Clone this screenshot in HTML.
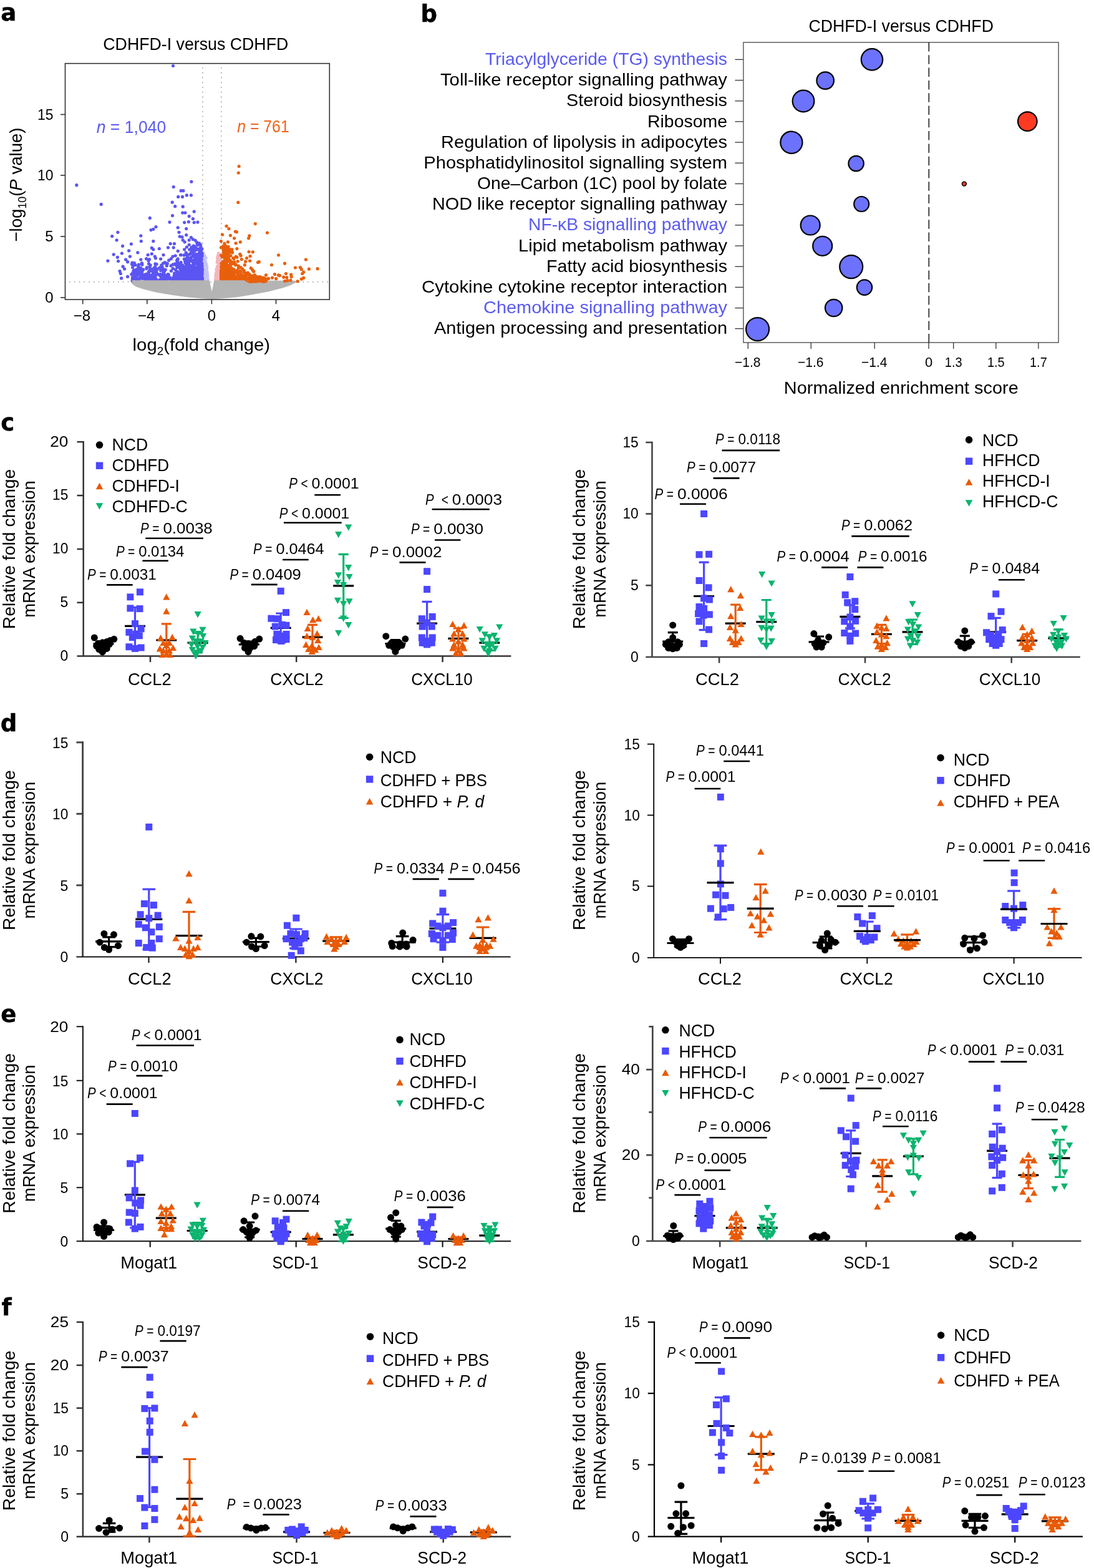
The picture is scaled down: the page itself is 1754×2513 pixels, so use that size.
<!DOCTYPE html>
<html lang="en"><head><meta charset="utf-8"><title>Figure</title>
<style>html,body{margin:0;padding:0;background:#fff}svg text{white-space:pre}</style></head>
<body>
<svg width="1754" height="2513" viewBox="0 0 1754 2513" font-family='"Liberation Sans", sans-serif' style="display:block">
<rect x="0" y="0" width="1754" height="2513" fill="#fff"/>
<text x="1.3" y="33.4" font-size="37" font-weight="bold" font-family="'DejaVu Sans', 'Liberation Sans', sans-serif" stroke="#000" stroke-width="0.5">a</text>
<text x="674.6" y="34.6" font-size="37" font-weight="bold" font-family="'DejaVu Sans', 'Liberation Sans', sans-serif" stroke="#000" stroke-width="0.5">b</text>
<text x="1.2" y="689.6" font-size="37" font-weight="bold" font-family="'DejaVu Sans', 'Liberation Sans', sans-serif" stroke="#000" stroke-width="0.5">c</text>
<text x="0.8" y="1171.5" font-size="37" font-weight="bold" font-family="'DejaVu Sans', 'Liberation Sans', sans-serif" stroke="#000" stroke-width="0.5">d</text>
<text x="1.2" y="1638.2" font-size="37" font-weight="bold" font-family="'DejaVu Sans', 'Liberation Sans', sans-serif" stroke="#000" stroke-width="0.5">e</text>
<text x="2.6" y="2107.9" font-size="37" font-weight="bold" font-family="'DejaVu Sans', 'Liberation Sans', sans-serif" stroke="#000" stroke-width="0.5">f</text>
<text x="313.8" y="80.2" font-size="28" text-anchor="middle" textLength="297" lengthAdjust="spacingAndGlyphs">CDHFD-I versus CDHFD</text>
<g>
<line x1="324.9" y1="108" x2="324.9" y2="479" stroke="#9a9a9a" stroke-width="1.6" stroke-dasharray="1.6 6.2" stroke-linecap="butt"/>
<line x1="354.8" y1="108" x2="354.8" y2="479" stroke="#9a9a9a" stroke-width="1.6" stroke-dasharray="1.6 6.2" stroke-linecap="butt"/>
<line x1="111" y1="451.7" x2="527" y2="451.7" stroke="#9a9a9a" stroke-width="1.6" stroke-dasharray="1.6 6.2" stroke-linecap="butt"/>
<path d="M210.5 450 L210.5 453.2 L213 456 L218 459.5 L230 463.5 L250 468.5 L275 472.8 L300 476.2 L325 478.6 L340 479.3 L355 478.6 L380 476.2 L400 473 L430 467.5 L455 461 L465 457.5 L472 454 L479 450.8 L470 449.8 L343.6 449.3 L339.6 467.2 L335.6 449.3 Z" fill="#B4B4B4"/>
<g fill="#C6C4F6"><circle cx="325.8" cy="446.2" r="2.4"/><circle cx="325" cy="437.1" r="2.4"/><circle cx="327.5" cy="441" r="2.4"/><circle cx="329.2" cy="450.7" r="2.4"/><circle cx="328.5" cy="451" r="2.4"/><circle cx="325.3" cy="450.5" r="2.4"/><circle cx="331.7" cy="444" r="2.4"/><circle cx="326.5" cy="449.7" r="2.4"/><circle cx="332.3" cy="438" r="2.4"/><circle cx="327.8" cy="439.8" r="2.4"/><circle cx="332.5" cy="450.9" r="2.4"/><circle cx="325.7" cy="446.9" r="2.4"/><circle cx="327.3" cy="449.8" r="2.4"/><circle cx="325.7" cy="428.4" r="2.4"/><circle cx="329.8" cy="439.6" r="2.4"/><circle cx="329.3" cy="445.2" r="2.4"/><circle cx="325" cy="450.6" r="2.4"/><circle cx="330.7" cy="448.4" r="2.4"/><circle cx="327.2" cy="443.9" r="2.4"/><circle cx="328.2" cy="439.5" r="2.4"/><circle cx="331.6" cy="446.7" r="2.4"/><circle cx="326.4" cy="435.1" r="2.4"/><circle cx="328.8" cy="439.9" r="2.4"/><circle cx="329.4" cy="423.1" r="2.4"/><circle cx="333.3" cy="446.9" r="2.4"/><circle cx="328.3" cy="449.8" r="2.4"/><circle cx="325.6" cy="432.2" r="2.4"/><circle cx="324.7" cy="442.4" r="2.4"/><circle cx="330.6" cy="436.4" r="2.4"/><circle cx="331.8" cy="439.9" r="2.4"/><circle cx="330.7" cy="446.4" r="2.4"/><circle cx="329.3" cy="439.2" r="2.4"/><circle cx="331.8" cy="443.2" r="2.4"/><circle cx="327.2" cy="412" r="2.4"/><circle cx="324.9" cy="436.6" r="2.4"/><circle cx="329.6" cy="435" r="2.4"/><circle cx="326.5" cy="427.9" r="2.4"/><circle cx="330.4" cy="444.9" r="2.4"/><circle cx="328.8" cy="451.2" r="2.4"/><circle cx="325.5" cy="449" r="2.4"/><circle cx="331.7" cy="450.7" r="2.4"/><circle cx="326.7" cy="449.6" r="2.4"/><circle cx="332.2" cy="444.7" r="2.4"/><circle cx="328.6" cy="450.4" r="2.4"/><circle cx="331.9" cy="440.6" r="2.4"/><circle cx="330.8" cy="428.1" r="2.4"/><circle cx="328.2" cy="447.1" r="2.4"/><circle cx="332.3" cy="445.5" r="2.4"/><circle cx="325.2" cy="408.3" r="2.4"/><circle cx="326.6" cy="448.9" r="2.4"/><circle cx="328.9" cy="447.9" r="2.4"/><circle cx="326.6" cy="439.4" r="2.4"/><circle cx="328.4" cy="451.5" r="2.4"/><circle cx="329.5" cy="445.2" r="2.4"/><circle cx="328.3" cy="409.7" r="2.4"/><circle cx="329.7" cy="441.6" r="2.4"/><circle cx="324.8" cy="436.1" r="2.4"/><circle cx="329.6" cy="420.1" r="2.4"/><circle cx="329.9" cy="423.2" r="2.4"/><circle cx="328" cy="444.7" r="2.4"/><circle cx="330.4" cy="450" r="2.4"/><circle cx="325" cy="450.6" r="2.4"/><circle cx="325.9" cy="448.3" r="2.4"/><circle cx="324.9" cy="445.8" r="2.4"/><circle cx="325.8" cy="451.5" r="2.4"/><circle cx="327.8" cy="450.1" r="2.4"/><circle cx="332.7" cy="451.2" r="2.4"/><circle cx="325.6" cy="438.5" r="2.4"/><circle cx="327.6" cy="447.6" r="2.4"/><circle cx="325.5" cy="445.3" r="2.4"/><circle cx="331.5" cy="425.7" r="2.4"/><circle cx="328.6" cy="443" r="2.4"/><circle cx="325.4" cy="450.3" r="2.4"/><circle cx="326.8" cy="445.8" r="2.4"/><circle cx="325.6" cy="427.4" r="2.4"/><circle cx="333.4" cy="451.2" r="2.4"/><circle cx="325.7" cy="441.3" r="2.4"/><circle cx="324.6" cy="440.8" r="2.4"/><circle cx="332.8" cy="441.3" r="2.4"/><circle cx="329.3" cy="424.3" r="2.4"/><circle cx="327.8" cy="447.4" r="2.4"/><circle cx="331.6" cy="449" r="2.4"/><circle cx="331.1" cy="441.1" r="2.4"/><circle cx="326.4" cy="446.1" r="2.4"/><circle cx="331.7" cy="428.7" r="2.4"/><circle cx="330.1" cy="425.4" r="2.4"/><circle cx="329.9" cy="428.2" r="2.4"/><circle cx="329.2" cy="448" r="2.4"/><circle cx="324.7" cy="445.5" r="2.4"/><circle cx="327.1" cy="451.1" r="2.4"/><circle cx="330.7" cy="447.4" r="2.4"/><circle cx="326.9" cy="408.7" r="2.4"/><circle cx="330.4" cy="413.7" r="2.4"/><circle cx="326.5" cy="409.2" r="2.4"/><circle cx="326.5" cy="448.1" r="2.4"/><circle cx="326.3" cy="448.5" r="2.4"/><circle cx="331.9" cy="438.2" r="2.4"/><circle cx="327.9" cy="426.4" r="2.4"/><circle cx="331" cy="437.1" r="2.4"/><circle cx="330.6" cy="450.3" r="2.4"/><circle cx="329.5" cy="418.7" r="2.4"/><circle cx="328.1" cy="432.6" r="2.4"/><circle cx="331.7" cy="448.8" r="2.4"/><circle cx="331.6" cy="446" r="2.4"/><circle cx="328" cy="444.6" r="2.4"/><circle cx="328.6" cy="411.4" r="2.4"/><circle cx="325.6" cy="449" r="2.4"/><circle cx="332.9" cy="449.3" r="2.4"/><circle cx="325.5" cy="429.1" r="2.4"/><circle cx="331.6" cy="427.6" r="2.4"/><circle cx="327.3" cy="436.9" r="2.4"/><circle cx="325.5" cy="440.7" r="2.4"/><circle cx="333.7" cy="451.3" r="2.4"/><circle cx="328.7" cy="437.2" r="2.4"/><circle cx="327.1" cy="414.5" r="2.4"/><circle cx="330.1" cy="423.5" r="2.4"/><circle cx="326.7" cy="448.3" r="2.4"/><circle cx="326.6" cy="446.8" r="2.4"/><circle cx="326.6" cy="439.5" r="2.4"/><circle cx="325.6" cy="444.1" r="2.4"/><circle cx="326.7" cy="418.6" r="2.4"/><circle cx="329.5" cy="443.2" r="2.4"/><circle cx="327.2" cy="419.5" r="2.4"/><circle cx="327.6" cy="417.4" r="2.4"/><circle cx="328.9" cy="441.2" r="2.4"/><circle cx="328.6" cy="451.3" r="2.4"/><circle cx="324.4" cy="448.8" r="2.4"/><circle cx="325.7" cy="429.6" r="2.4"/><circle cx="330.7" cy="442.8" r="2.4"/><circle cx="327.2" cy="440.4" r="2.4"/><circle cx="329.2" cy="441.5" r="2.4"/><circle cx="325.2" cy="430.6" r="2.4"/><circle cx="326.5" cy="440.3" r="2.4"/><circle cx="331.5" cy="447.1" r="2.4"/><circle cx="329.3" cy="441.8" r="2.4"/><circle cx="331.5" cy="432" r="2.4"/><circle cx="329.8" cy="443.5" r="2.4"/><circle cx="328.8" cy="441.9" r="2.4"/><circle cx="328" cy="435.4" r="2.4"/><circle cx="328.5" cy="441.1" r="2.4"/><circle cx="328.6" cy="412.7" r="2.4"/><circle cx="330.9" cy="422.9" r="2.4"/><circle cx="329.5" cy="447.4" r="2.4"/><circle cx="329.4" cy="412.3" r="2.4"/><circle cx="325.5" cy="449.5" r="2.4"/><circle cx="325" cy="443.5" r="2.4"/><circle cx="325.1" cy="447.8" r="2.4"/><circle cx="330.8" cy="436.4" r="2.4"/><circle cx="325.4" cy="420.5" r="2.4"/><circle cx="329.7" cy="434.3" r="2.4"/><circle cx="332.7" cy="449.4" r="2.4"/><circle cx="325.5" cy="404.7" r="2.4"/><circle cx="326.7" cy="409.9" r="2.4"/><circle cx="333" cy="442.4" r="2.4"/><circle cx="325.6" cy="427.1" r="2.4"/><circle cx="329" cy="443.8" r="2.4"/><circle cx="326.2" cy="445.9" r="2.4"/><circle cx="330.9" cy="446.3" r="2.4"/><circle cx="329.7" cy="451.3" r="2.4"/><circle cx="324.6" cy="443.6" r="2.4"/><circle cx="330" cy="446" r="2.4"/><circle cx="325" cy="441.7" r="2.4"/><circle cx="331.8" cy="430.3" r="2.4"/><circle cx="326.9" cy="450" r="2.4"/><circle cx="331.8" cy="451" r="2.4"/><circle cx="325.6" cy="447.2" r="2.4"/><circle cx="332.5" cy="444" r="2.4"/><circle cx="326.3" cy="428.2" r="2.4"/><circle cx="333" cy="449.3" r="2.4"/><circle cx="330.3" cy="440" r="2.4"/><circle cx="324.9" cy="450.2" r="2.4"/><circle cx="327.8" cy="435.6" r="2.4"/><circle cx="333.3" cy="450.5" r="2.4"/><circle cx="331" cy="437.8" r="2.4"/><circle cx="332.5" cy="450.3" r="2.4"/><circle cx="332.6" cy="450.6" r="2.4"/><circle cx="327.4" cy="443.3" r="2.4"/><circle cx="332.3" cy="440.5" r="2.4"/><circle cx="325.6" cy="447.3" r="2.4"/><circle cx="326.5" cy="441.3" r="2.4"/><circle cx="325.9" cy="449.9" r="2.4"/><circle cx="326.3" cy="450.8" r="2.4"/><circle cx="327.2" cy="446.4" r="2.4"/><circle cx="326.6" cy="432.1" r="2.4"/><circle cx="325.9" cy="442.1" r="2.4"/><circle cx="324.6" cy="445.7" r="2.4"/><circle cx="324.5" cy="447.6" r="2.4"/><circle cx="328.7" cy="433.5" r="2.4"/><circle cx="328.8" cy="448.7" r="2.4"/><circle cx="325.1" cy="414.3" r="2.4"/><circle cx="327.6" cy="428.2" r="2.4"/><circle cx="331.6" cy="442.2" r="2.4"/><circle cx="328.9" cy="444.7" r="2.4"/><circle cx="332.3" cy="435.6" r="2.4"/><circle cx="331.9" cy="445.8" r="2.4"/><circle cx="329.5" cy="434.8" r="2.4"/><circle cx="327.5" cy="444.4" r="2.4"/><circle cx="325.6" cy="450.8" r="2.4"/><circle cx="331.4" cy="450.5" r="2.4"/><circle cx="325.9" cy="447.5" r="2.4"/><circle cx="332.3" cy="450.3" r="2.4"/><circle cx="329.1" cy="423.6" r="2.4"/><circle cx="326.6" cy="447" r="2.4"/><circle cx="328.6" cy="446.8" r="2.4"/><circle cx="328.6" cy="449.2" r="2.4"/><circle cx="333.2" cy="447.3" r="2.4"/><circle cx="326.5" cy="440.7" r="2.4"/><circle cx="326" cy="405.5" r="2.4"/><circle cx="324.4" cy="445.5" r="2.4"/><circle cx="328.6" cy="445" r="2.4"/><circle cx="326.1" cy="442" r="2.4"/><circle cx="324.4" cy="441.9" r="2.4"/><circle cx="325.2" cy="447.3" r="2.4"/><circle cx="324.8" cy="444.6" r="2.4"/><circle cx="327.3" cy="451.2" r="2.4"/></g>
<g fill="#F4B6BB"><circle cx="350.6" cy="447.9" r="2.4"/><circle cx="352.3" cy="441.2" r="2.4"/><circle cx="352.1" cy="436.9" r="2.4"/><circle cx="350.2" cy="422.7" r="2.4"/><circle cx="354.3" cy="446.1" r="2.4"/><circle cx="351.8" cy="449.3" r="2.4"/><circle cx="346.5" cy="437.4" r="2.4"/><circle cx="353.6" cy="426.9" r="2.4"/><circle cx="352.2" cy="438" r="2.4"/><circle cx="348" cy="428.7" r="2.4"/><circle cx="350.1" cy="441.4" r="2.4"/><circle cx="353" cy="426.9" r="2.4"/><circle cx="351.3" cy="427.6" r="2.4"/><circle cx="352.3" cy="421" r="2.4"/><circle cx="348.2" cy="435.4" r="2.4"/><circle cx="346.2" cy="451.1" r="2.4"/><circle cx="346.4" cy="445.4" r="2.4"/><circle cx="351.2" cy="426.8" r="2.4"/><circle cx="351.3" cy="438" r="2.4"/><circle cx="350.3" cy="435.9" r="2.4"/><circle cx="352.5" cy="451.5" r="2.4"/><circle cx="350.5" cy="432.7" r="2.4"/><circle cx="351.5" cy="441.1" r="2.4"/><circle cx="351.9" cy="450.6" r="2.4"/><circle cx="345.9" cy="447.6" r="2.4"/><circle cx="351.9" cy="447.3" r="2.4"/><circle cx="352" cy="448.4" r="2.4"/><circle cx="349" cy="442.2" r="2.4"/><circle cx="351.6" cy="442.6" r="2.4"/><circle cx="351.4" cy="431.6" r="2.4"/><circle cx="346.8" cy="437.5" r="2.4"/><circle cx="347.4" cy="449.3" r="2.4"/><circle cx="349" cy="432.9" r="2.4"/><circle cx="346" cy="440.1" r="2.4"/><circle cx="347.5" cy="450.7" r="2.4"/><circle cx="351.9" cy="436.3" r="2.4"/><circle cx="348.6" cy="436.1" r="2.4"/><circle cx="349.8" cy="441.6" r="2.4"/><circle cx="346.7" cy="442.9" r="2.4"/><circle cx="349" cy="420.9" r="2.4"/><circle cx="348.4" cy="413.9" r="2.4"/><circle cx="352.8" cy="443.1" r="2.4"/><circle cx="348" cy="443.4" r="2.4"/><circle cx="353.9" cy="448.3" r="2.4"/><circle cx="350.5" cy="448.3" r="2.4"/><circle cx="349.9" cy="449.4" r="2.4"/><circle cx="349.5" cy="409.8" r="2.4"/><circle cx="350.8" cy="428.1" r="2.4"/><circle cx="352.4" cy="421.7" r="2.4"/><circle cx="353.5" cy="447.9" r="2.4"/><circle cx="345.9" cy="442.4" r="2.4"/><circle cx="349.5" cy="451.5" r="2.4"/><circle cx="348.3" cy="443.3" r="2.4"/><circle cx="348.3" cy="449.5" r="2.4"/><circle cx="352.9" cy="446.3" r="2.4"/><circle cx="352" cy="451.5" r="2.4"/><circle cx="348" cy="426.6" r="2.4"/><circle cx="352.6" cy="415.9" r="2.4"/><circle cx="349.7" cy="419.8" r="2.4"/><circle cx="349" cy="445.2" r="2.4"/><circle cx="349" cy="439.4" r="2.4"/><circle cx="348" cy="443.9" r="2.4"/><circle cx="345.9" cy="450.8" r="2.4"/><circle cx="349.2" cy="426.9" r="2.4"/><circle cx="349.8" cy="414.1" r="2.4"/><circle cx="349.9" cy="447.3" r="2.4"/><circle cx="348.6" cy="448.6" r="2.4"/><circle cx="353.7" cy="408.8" r="2.4"/><circle cx="351.7" cy="428.7" r="2.4"/><circle cx="354" cy="418.1" r="2.4"/><circle cx="352" cy="440.6" r="2.4"/><circle cx="351.9" cy="450.8" r="2.4"/><circle cx="352.2" cy="443.3" r="2.4"/><circle cx="348.5" cy="437.4" r="2.4"/><circle cx="353.7" cy="450.8" r="2.4"/><circle cx="349.4" cy="449.7" r="2.4"/><circle cx="348.1" cy="445.8" r="2.4"/><circle cx="354.2" cy="433.2" r="2.4"/><circle cx="351.2" cy="447.4" r="2.4"/><circle cx="350.4" cy="446.6" r="2.4"/><circle cx="347" cy="444.7" r="2.4"/><circle cx="347" cy="449.1" r="2.4"/><circle cx="351.1" cy="419.2" r="2.4"/><circle cx="353.5" cy="448.1" r="2.4"/><circle cx="346.8" cy="443.4" r="2.4"/><circle cx="346" cy="448.6" r="2.4"/><circle cx="346.2" cy="445.8" r="2.4"/><circle cx="347.6" cy="447.8" r="2.4"/><circle cx="353.4" cy="440" r="2.4"/><circle cx="349.8" cy="432.6" r="2.4"/><circle cx="350.2" cy="444.2" r="2.4"/><circle cx="348.5" cy="445.1" r="2.4"/><circle cx="347.6" cy="450.6" r="2.4"/><circle cx="349.7" cy="449.7" r="2.4"/><circle cx="353.3" cy="438" r="2.4"/><circle cx="347.7" cy="448.2" r="2.4"/><circle cx="348.9" cy="447.6" r="2.4"/><circle cx="354" cy="443.5" r="2.4"/><circle cx="353.5" cy="425.7" r="2.4"/><circle cx="345.2" cy="451.2" r="2.4"/><circle cx="353.6" cy="434.6" r="2.4"/><circle cx="350.8" cy="442.8" r="2.4"/><circle cx="348.6" cy="451.5" r="2.4"/><circle cx="353.3" cy="415.8" r="2.4"/><circle cx="354.2" cy="425.1" r="2.4"/><circle cx="346.2" cy="447.6" r="2.4"/><circle cx="349.9" cy="449.2" r="2.4"/><circle cx="353.9" cy="435.9" r="2.4"/><circle cx="351.6" cy="434" r="2.4"/><circle cx="350.2" cy="431.7" r="2.4"/><circle cx="346.2" cy="440.6" r="2.4"/><circle cx="348.6" cy="430.7" r="2.4"/><circle cx="352.1" cy="417" r="2.4"/><circle cx="346.5" cy="446.6" r="2.4"/><circle cx="351.1" cy="447.6" r="2.4"/><circle cx="347.3" cy="435.1" r="2.4"/><circle cx="349.9" cy="450.5" r="2.4"/><circle cx="349.2" cy="439.6" r="2.4"/><circle cx="350.7" cy="448.1" r="2.4"/><circle cx="347.7" cy="451.4" r="2.4"/><circle cx="354" cy="443.1" r="2.4"/><circle cx="353.4" cy="437.4" r="2.4"/><circle cx="347.7" cy="442.7" r="2.4"/><circle cx="354" cy="447.6" r="2.4"/><circle cx="348.9" cy="434.9" r="2.4"/><circle cx="349.6" cy="451.2" r="2.4"/><circle cx="349.7" cy="436.2" r="2.4"/><circle cx="351.3" cy="447.5" r="2.4"/><circle cx="349.6" cy="416.1" r="2.4"/><circle cx="348.1" cy="451" r="2.4"/><circle cx="351.6" cy="444.1" r="2.4"/><circle cx="352.5" cy="448.5" r="2.4"/><circle cx="350.5" cy="433.2" r="2.4"/><circle cx="354.1" cy="448.4" r="2.4"/><circle cx="352.8" cy="446.4" r="2.4"/><circle cx="347.2" cy="447.9" r="2.4"/><circle cx="348.9" cy="432" r="2.4"/><circle cx="351.5" cy="410.1" r="2.4"/><circle cx="347.2" cy="448.7" r="2.4"/><circle cx="351.4" cy="444.2" r="2.4"/><circle cx="349.5" cy="410.9" r="2.4"/><circle cx="347.4" cy="444.7" r="2.4"/><circle cx="345.5" cy="449.4" r="2.4"/><circle cx="348.7" cy="450.7" r="2.4"/><circle cx="353.6" cy="420.3" r="2.4"/><circle cx="354.4" cy="433.5" r="2.4"/><circle cx="350.3" cy="414.9" r="2.4"/><circle cx="353.8" cy="448.7" r="2.4"/><circle cx="346.8" cy="432.8" r="2.4"/><circle cx="349.3" cy="436.6" r="2.4"/><circle cx="348.4" cy="445.1" r="2.4"/><circle cx="345.1" cy="449" r="2.4"/><circle cx="348.5" cy="447" r="2.4"/><circle cx="349.5" cy="409" r="2.4"/><circle cx="350.2" cy="406" r="2.4"/><circle cx="352.8" cy="445.5" r="2.4"/><circle cx="350.2" cy="427.9" r="2.4"/><circle cx="349.4" cy="450.8" r="2.4"/><circle cx="353.7" cy="445.2" r="2.4"/><circle cx="348.5" cy="448.6" r="2.4"/><circle cx="347.9" cy="420.5" r="2.4"/><circle cx="352.7" cy="444.3" r="2.4"/><circle cx="347" cy="431.6" r="2.4"/><circle cx="345.5" cy="451" r="2.4"/><circle cx="349.7" cy="417" r="2.4"/><circle cx="353.6" cy="432.7" r="2.4"/><circle cx="347.8" cy="445.9" r="2.4"/><circle cx="352.3" cy="408.3" r="2.4"/><circle cx="351.8" cy="447.4" r="2.4"/><circle cx="347.8" cy="446.3" r="2.4"/><circle cx="352.1" cy="451.5" r="2.4"/><circle cx="352.1" cy="417.6" r="2.4"/><circle cx="348.6" cy="412.3" r="2.4"/><circle cx="349.6" cy="447.9" r="2.4"/><circle cx="354.1" cy="408.6" r="2.4"/><circle cx="347.7" cy="444.8" r="2.4"/><circle cx="349.9" cy="443.8" r="2.4"/><circle cx="349.3" cy="415.6" r="2.4"/><circle cx="352.4" cy="429.4" r="2.4"/><circle cx="352.7" cy="427.9" r="2.4"/><circle cx="348.8" cy="438.8" r="2.4"/><circle cx="348.6" cy="446.3" r="2.4"/><circle cx="347.4" cy="430.7" r="2.4"/><circle cx="352.1" cy="448.5" r="2.4"/><circle cx="345.8" cy="447.6" r="2.4"/><circle cx="350.1" cy="451.1" r="2.4"/><circle cx="354.2" cy="446.1" r="2.4"/><circle cx="354.3" cy="422.2" r="2.4"/><circle cx="346" cy="447.3" r="2.4"/><circle cx="349.7" cy="450.1" r="2.4"/><circle cx="350" cy="434.6" r="2.4"/><circle cx="349" cy="447.9" r="2.4"/><circle cx="351.7" cy="438.3" r="2.4"/><circle cx="353.2" cy="432.7" r="2.4"/><circle cx="347.2" cy="436.6" r="2.4"/><circle cx="349.3" cy="426.4" r="2.4"/><circle cx="349.1" cy="440.1" r="2.4"/><circle cx="348.1" cy="433.2" r="2.4"/><circle cx="347.5" cy="447.6" r="2.4"/><circle cx="353.3" cy="449.2" r="2.4"/><circle cx="348.7" cy="439.7" r="2.4"/><circle cx="354.3" cy="444.6" r="2.4"/><circle cx="347.8" cy="441.9" r="2.4"/><circle cx="351.8" cy="428.9" r="2.4"/><circle cx="349.5" cy="450" r="2.4"/><circle cx="353.2" cy="428.2" r="2.4"/><circle cx="348.2" cy="417.9" r="2.4"/><circle cx="346.4" cy="446.8" r="2.4"/><circle cx="354.1" cy="448.7" r="2.4"/><circle cx="353.8" cy="439.6" r="2.4"/><circle cx="353.2" cy="445.2" r="2.4"/><circle cx="347.9" cy="443.4" r="2.4"/></g>
<g fill="#5B55F2"><circle cx="122.8" cy="296.7" r="2.6"/><circle cx="162.2" cy="327.4" r="2.6"/><circle cx="306.9" cy="291.2" r="2.6"/><circle cx="278.2" cy="299.5" r="2.6"/><circle cx="290.2" cy="305.7" r="2.6"/><circle cx="293.9" cy="305.7" r="2.6"/><circle cx="285.7" cy="315.4" r="2.6"/><circle cx="292.5" cy="315.4" r="2.6"/><circle cx="299.4" cy="312.9" r="2.6"/><circle cx="306.4" cy="312.9" r="2.6"/><circle cx="276.2" cy="324.2" r="2.6"/><circle cx="280.7" cy="330.7" r="2.6"/><circle cx="293.2" cy="331.2" r="2.6"/><circle cx="311.2" cy="339.1" r="2.6"/><circle cx="292.7" cy="341.1" r="2.6"/><circle cx="296.9" cy="341.1" r="2.6"/><circle cx="240.3" cy="349.4" r="2.6"/><circle cx="276.5" cy="345.6" r="2.6"/><circle cx="303.2" cy="346.6" r="2.6"/><circle cx="309.4" cy="350.6" r="2.6"/><circle cx="272" cy="356.1" r="2.6"/><circle cx="295.7" cy="356.6" r="2.6"/><circle cx="302.4" cy="355.6" r="2.6"/><circle cx="311.2" cy="356.6" r="2.6"/><circle cx="316.9" cy="356.1" r="2.6"/><circle cx="250" cy="363.6" r="2.6"/><circle cx="242" cy="368.6" r="2.6"/><circle cx="245.8" cy="367.3" r="2.6"/><circle cx="285.2" cy="364.8" r="2.6"/><circle cx="298.7" cy="366.6" r="2.6"/><circle cx="188.9" cy="372.3" r="2.6"/><circle cx="179.7" cy="378.6" r="2.6"/><circle cx="187.1" cy="384.8" r="2.6"/><circle cx="225.8" cy="377.8" r="2.6"/><circle cx="226.3" cy="386.6" r="2.6"/><circle cx="287" cy="372.3" r="2.6"/><circle cx="288.2" cy="379.1" r="2.6"/><circle cx="292" cy="379.8" r="2.6"/><circle cx="298.7" cy="376.6" r="2.6"/><circle cx="293.2" cy="384.8" r="2.6"/><circle cx="296.2" cy="387.8" r="2.6"/><circle cx="306.4" cy="380.6" r="2.6"/><circle cx="303.2" cy="384.8" r="2.6"/><circle cx="309.4" cy="383.6" r="2.6"/><circle cx="313.2" cy="385.3" r="2.6"/><circle cx="245.8" cy="386.6" r="2.6"/><circle cx="210.4" cy="391" r="2.6"/><circle cx="196.6" cy="394.3" r="2.6"/><circle cx="206.6" cy="401.8" r="2.6"/><circle cx="182.2" cy="407.8" r="2.6"/><circle cx="195.4" cy="406" r="2.6"/><circle cx="220.8" cy="404.8" r="2.6"/><circle cx="172.9" cy="418" r="2.6"/><circle cx="188.4" cy="412.3" r="2.6"/><circle cx="189.6" cy="418.5" r="2.6"/><circle cx="273.2" cy="390.5" r="2.6"/><circle cx="279.5" cy="390.5" r="2.6"/><circle cx="269.5" cy="396.8" r="2.6"/><circle cx="278.2" cy="396.8" r="2.6"/><circle cx="243.3" cy="397.3" r="2.6"/><circle cx="245.8" cy="399.8" r="2.6"/><circle cx="255.3" cy="398.5" r="2.6"/><circle cx="285.2" cy="402.3" r="2.6"/><circle cx="289.5" cy="408.5" r="2.6"/><circle cx="237.1" cy="408.5" r="2.6"/><circle cx="243.3" cy="406.8" r="2.6"/><circle cx="262" cy="408.5" r="2.6"/><circle cx="234.6" cy="414.7" r="2.6"/><circle cx="248.3" cy="411" r="2.6"/><circle cx="277" cy="411" r="2.6"/><circle cx="281.2" cy="409.8" r="2.6"/><circle cx="315.7" cy="388.5" r="2.6"/><circle cx="319.4" cy="389.8" r="2.6"/><circle cx="311.9" cy="394.8" r="2.6"/><circle cx="316.9" cy="399.8" r="2.6"/><circle cx="320.6" cy="403.5" r="2.6"/><circle cx="306.9" cy="397.3" r="2.6"/><circle cx="299.4" cy="396" r="2.6"/><circle cx="303.2" cy="392.3" r="2.6"/><circle cx="295.7" cy="399.8" r="2.6"/><circle cx="298.2" cy="404.8" r="2.6"/><circle cx="201.6" cy="416" r="2.6"/><circle cx="204.6" cy="419.7" r="2.6"/><circle cx="208.4" cy="411" r="2.6"/><circle cx="212.1" cy="421" r="2.6"/><circle cx="217.1" cy="424.7" r="2.6"/><circle cx="225.8" cy="416" r="2.6"/><circle cx="227.6" cy="422.2" r="2.6"/><circle cx="261.5" cy="422.2" r="2.6"/><circle cx="270.7" cy="417.2" r="2.6"/><circle cx="284.5" cy="416" r="2.6"/><circle cx="289.5" cy="421" r="2.6"/><circle cx="192.1" cy="434.7" r="2.6"/><circle cx="193.4" cy="438.5" r="2.6"/><circle cx="197.1" cy="427.2" r="2.6"/><circle cx="199.6" cy="431" r="2.6"/><circle cx="194.6" cy="445.9" r="2.6"/><circle cx="204.6" cy="443.4" r="2.6"/><circle cx="210.9" cy="439.7" r="2.6"/><circle cx="212.1" cy="449.7" r="2.6"/><circle cx="215.1" cy="433.5" r="2.6"/><circle cx="222.1" cy="429.7" r="2.6"/><circle cx="224.6" cy="431" r="2.6"/><circle cx="277.5" cy="105.5" r="2.6"/><circle cx="316.6" cy="449.3" r="2.6"/><circle cx="307.2" cy="432.6" r="2.6"/><circle cx="320.8" cy="448.5" r="2.6"/><circle cx="306.9" cy="447.1" r="2.6"/><circle cx="323.6" cy="430.9" r="2.6"/><circle cx="299.2" cy="447.1" r="2.6"/><circle cx="307.9" cy="429.4" r="2.6"/><circle cx="323.2" cy="447.5" r="2.6"/><circle cx="319.6" cy="420.6" r="2.6"/><circle cx="312.8" cy="436" r="2.6"/><circle cx="316.5" cy="441.7" r="2.6"/><circle cx="321.1" cy="435.9" r="2.6"/><circle cx="319.2" cy="448" r="2.6"/><circle cx="318.2" cy="428.3" r="2.6"/><circle cx="311.6" cy="444.3" r="2.6"/><circle cx="316.3" cy="391.8" r="2.6"/><circle cx="315.2" cy="442.9" r="2.6"/><circle cx="302.2" cy="441" r="2.6"/><circle cx="283.1" cy="442.7" r="2.6"/><circle cx="290.7" cy="426.1" r="2.6"/><circle cx="323.8" cy="406.3" r="2.6"/><circle cx="322.5" cy="440.8" r="2.6"/><circle cx="316.3" cy="409.7" r="2.6"/><circle cx="307.2" cy="439.5" r="2.6"/><circle cx="322.7" cy="435.9" r="2.6"/><circle cx="321.7" cy="431.5" r="2.6"/><circle cx="317.6" cy="432.5" r="2.6"/><circle cx="320.1" cy="442.5" r="2.6"/><circle cx="314" cy="445" r="2.6"/><circle cx="324.1" cy="437.1" r="2.6"/><circle cx="316.4" cy="438.4" r="2.6"/><circle cx="320.4" cy="419.6" r="2.6"/><circle cx="312.3" cy="448.9" r="2.6"/><circle cx="321.9" cy="395.6" r="2.6"/><circle cx="303.3" cy="450.5" r="2.6"/><circle cx="321.1" cy="400.7" r="2.6"/><circle cx="293.7" cy="432.6" r="2.6"/><circle cx="298.3" cy="417.6" r="2.6"/><circle cx="306.9" cy="446.6" r="2.6"/><circle cx="296.8" cy="441.4" r="2.6"/><circle cx="304.5" cy="447.6" r="2.6"/><circle cx="295.6" cy="446.7" r="2.6"/><circle cx="306.2" cy="442.1" r="2.6"/><circle cx="311.2" cy="449" r="2.6"/><circle cx="323.9" cy="407.1" r="2.6"/><circle cx="294.5" cy="450.7" r="2.6"/><circle cx="295.5" cy="450.8" r="2.6"/><circle cx="312.4" cy="416" r="2.6"/><circle cx="305.8" cy="435.9" r="2.6"/><circle cx="307.4" cy="432.3" r="2.6"/><circle cx="317.7" cy="434.5" r="2.6"/><circle cx="306.2" cy="440.7" r="2.6"/><circle cx="313.4" cy="440.3" r="2.6"/><circle cx="307.4" cy="451.1" r="2.6"/><circle cx="308.6" cy="446.3" r="2.6"/><circle cx="309.7" cy="423.4" r="2.6"/><circle cx="320.5" cy="447.7" r="2.6"/><circle cx="304.2" cy="439" r="2.6"/><circle cx="316.8" cy="440.5" r="2.6"/><circle cx="318.3" cy="449.6" r="2.6"/><circle cx="303.6" cy="450.7" r="2.6"/><circle cx="316.5" cy="431.8" r="2.6"/><circle cx="298.1" cy="422.2" r="2.6"/><circle cx="309.5" cy="437.5" r="2.6"/><circle cx="303.6" cy="442.3" r="2.6"/><circle cx="317" cy="392.7" r="2.6"/><circle cx="300.3" cy="409.9" r="2.6"/><circle cx="296.7" cy="418.6" r="2.6"/><circle cx="306.2" cy="438.3" r="2.6"/><circle cx="322.1" cy="403.2" r="2.6"/><circle cx="307.7" cy="399.5" r="2.6"/><circle cx="296.2" cy="450.2" r="2.6"/><circle cx="305.9" cy="448.1" r="2.6"/><circle cx="299.2" cy="407.2" r="2.6"/><circle cx="319.1" cy="448.5" r="2.6"/><circle cx="290.6" cy="437.9" r="2.6"/><circle cx="313.3" cy="445.6" r="2.6"/><circle cx="318.3" cy="437.8" r="2.6"/><circle cx="322.3" cy="447.6" r="2.6"/><circle cx="319.8" cy="448.1" r="2.6"/><circle cx="298.5" cy="407.5" r="2.6"/><circle cx="313.5" cy="447.9" r="2.6"/><circle cx="322.4" cy="436.8" r="2.6"/><circle cx="315.4" cy="431.8" r="2.6"/><circle cx="300.3" cy="435.7" r="2.6"/><circle cx="295.2" cy="434.6" r="2.6"/><circle cx="317.9" cy="413.4" r="2.6"/><circle cx="318.5" cy="441.7" r="2.6"/><circle cx="320.1" cy="416.6" r="2.6"/><circle cx="310.5" cy="442.8" r="2.6"/><circle cx="322.6" cy="447.7" r="2.6"/><circle cx="304.4" cy="425" r="2.6"/><circle cx="291.5" cy="445.8" r="2.6"/><circle cx="314.1" cy="431.6" r="2.6"/><circle cx="299.8" cy="430.3" r="2.6"/><circle cx="321.9" cy="444.2" r="2.6"/><circle cx="319.5" cy="448.4" r="2.6"/><circle cx="324.4" cy="432.8" r="2.6"/><circle cx="304.1" cy="407.4" r="2.6"/><circle cx="315.2" cy="448.8" r="2.6"/><circle cx="320.6" cy="451.1" r="2.6"/><circle cx="297.6" cy="451.5" r="2.6"/><circle cx="319" cy="442.9" r="2.6"/><circle cx="317.4" cy="446.6" r="2.6"/><circle cx="302.9" cy="447.1" r="2.6"/><circle cx="312" cy="432.4" r="2.6"/><circle cx="314.5" cy="397.7" r="2.6"/><circle cx="322.8" cy="446.1" r="2.6"/><circle cx="319.5" cy="431.7" r="2.6"/><circle cx="317.7" cy="411.5" r="2.6"/><circle cx="320.6" cy="445.5" r="2.6"/><circle cx="305.9" cy="451.3" r="2.6"/><circle cx="309.7" cy="443.1" r="2.6"/><circle cx="305.5" cy="431.3" r="2.6"/><circle cx="283.3" cy="425.7" r="2.6"/><circle cx="309.3" cy="445.9" r="2.6"/><circle cx="319.8" cy="436.7" r="2.6"/><circle cx="321.2" cy="441.4" r="2.6"/><circle cx="323.9" cy="422.1" r="2.6"/><circle cx="318" cy="451.3" r="2.6"/><circle cx="288.4" cy="447.2" r="2.6"/><circle cx="310.5" cy="433.2" r="2.6"/><circle cx="297.8" cy="418.8" r="2.6"/><circle cx="323.2" cy="447.8" r="2.6"/><circle cx="318.7" cy="450.6" r="2.6"/><circle cx="309.8" cy="408.6" r="2.6"/><circle cx="318.3" cy="451.4" r="2.6"/><circle cx="295.5" cy="415.2" r="2.6"/><circle cx="323.8" cy="425.1" r="2.6"/><circle cx="303.6" cy="439.8" r="2.6"/><circle cx="323.1" cy="446.4" r="2.6"/><circle cx="315.7" cy="450.8" r="2.6"/><circle cx="308.6" cy="428.3" r="2.6"/><circle cx="297.8" cy="415.1" r="2.6"/><circle cx="320.9" cy="435.8" r="2.6"/><circle cx="310.2" cy="440.3" r="2.6"/><circle cx="319" cy="445.5" r="2.6"/><circle cx="302.4" cy="431.5" r="2.6"/><circle cx="311.7" cy="410.1" r="2.6"/><circle cx="321.6" cy="451.2" r="2.6"/><circle cx="323.5" cy="424.9" r="2.6"/><circle cx="310.8" cy="395" r="2.6"/><circle cx="324" cy="410.1" r="2.6"/><circle cx="307.9" cy="443.7" r="2.6"/><circle cx="321.6" cy="432.1" r="2.6"/><circle cx="283.9" cy="428.5" r="2.6"/><circle cx="298.1" cy="439.1" r="2.6"/><circle cx="317.3" cy="428.2" r="2.6"/><circle cx="311.9" cy="426.4" r="2.6"/><circle cx="308.8" cy="435" r="2.6"/><circle cx="319.8" cy="432.5" r="2.6"/><circle cx="312.4" cy="449.9" r="2.6"/><circle cx="315.6" cy="451" r="2.6"/><circle cx="318.9" cy="449.3" r="2.6"/><circle cx="309" cy="448.5" r="2.6"/><circle cx="317" cy="451" r="2.6"/><circle cx="296.8" cy="431.9" r="2.6"/><circle cx="317" cy="428.2" r="2.6"/><circle cx="323.8" cy="434.1" r="2.6"/><circle cx="317.6" cy="442.7" r="2.6"/><circle cx="310.2" cy="408.2" r="2.6"/><circle cx="293" cy="450.2" r="2.6"/><circle cx="296.6" cy="445.7" r="2.6"/><circle cx="293.9" cy="447" r="2.6"/><circle cx="320.7" cy="414.8" r="2.6"/><circle cx="321.2" cy="418.9" r="2.6"/><circle cx="301.3" cy="432" r="2.6"/><circle cx="298.5" cy="444.9" r="2.6"/><circle cx="317.6" cy="423.9" r="2.6"/><circle cx="319.4" cy="447" r="2.6"/><circle cx="316.2" cy="451.1" r="2.6"/><circle cx="306.7" cy="445.7" r="2.6"/><circle cx="318.4" cy="442.6" r="2.6"/><circle cx="295.5" cy="444" r="2.6"/><circle cx="302.9" cy="414.3" r="2.6"/><circle cx="319.5" cy="432.7" r="2.6"/><circle cx="305.6" cy="440.3" r="2.6"/><circle cx="320.7" cy="422.6" r="2.6"/><circle cx="307.8" cy="436.5" r="2.6"/><circle cx="300.5" cy="446.8" r="2.6"/><circle cx="319.1" cy="418.1" r="2.6"/><circle cx="318.2" cy="447.9" r="2.6"/><circle cx="311.9" cy="423.5" r="2.6"/><circle cx="324.3" cy="451.3" r="2.6"/><circle cx="302.8" cy="420.4" r="2.6"/><circle cx="323.2" cy="447.5" r="2.6"/><circle cx="307.2" cy="416.7" r="2.6"/><circle cx="323.8" cy="445.6" r="2.6"/><circle cx="310.1" cy="446.8" r="2.6"/><circle cx="319.2" cy="428.1" r="2.6"/><circle cx="315.4" cy="431.8" r="2.6"/><circle cx="324.3" cy="449.9" r="2.6"/><circle cx="317.6" cy="421.3" r="2.6"/><circle cx="296.5" cy="432.2" r="2.6"/><circle cx="312.8" cy="441.7" r="2.6"/><circle cx="309.6" cy="408.4" r="2.6"/><circle cx="291" cy="451" r="2.6"/><circle cx="304.3" cy="447" r="2.6"/><circle cx="321.1" cy="437.9" r="2.6"/><circle cx="284.5" cy="442.2" r="2.6"/><circle cx="314.3" cy="439.5" r="2.6"/><circle cx="315.4" cy="436.7" r="2.6"/><circle cx="323.5" cy="431.2" r="2.6"/><circle cx="293.3" cy="443.2" r="2.6"/><circle cx="319.4" cy="415.4" r="2.6"/><circle cx="314.8" cy="430.3" r="2.6"/><circle cx="323.8" cy="440.2" r="2.6"/><circle cx="313.1" cy="422.5" r="2.6"/><circle cx="315.9" cy="439.4" r="2.6"/><circle cx="319.8" cy="409.3" r="2.6"/><circle cx="323.5" cy="444.5" r="2.6"/><circle cx="312.3" cy="427.8" r="2.6"/><circle cx="318.4" cy="448.2" r="2.6"/><circle cx="315.4" cy="446" r="2.6"/><circle cx="313.9" cy="448.1" r="2.6"/><circle cx="304.4" cy="443.8" r="2.6"/><circle cx="305.6" cy="426.1" r="2.6"/><circle cx="286.7" cy="446.7" r="2.6"/><circle cx="284.5" cy="420.6" r="2.6"/><circle cx="288.9" cy="425.7" r="2.6"/><circle cx="313.1" cy="431.7" r="2.6"/><circle cx="319.5" cy="449.3" r="2.6"/><circle cx="319.4" cy="450.9" r="2.6"/><circle cx="306.6" cy="441.6" r="2.6"/><circle cx="317.1" cy="438" r="2.6"/><circle cx="296.7" cy="432" r="2.6"/><circle cx="314.4" cy="433.5" r="2.6"/><circle cx="322.1" cy="441.4" r="2.6"/><circle cx="322.1" cy="440.6" r="2.6"/><circle cx="283.8" cy="434.9" r="2.6"/><circle cx="324.3" cy="446.5" r="2.6"/><circle cx="304.9" cy="426.5" r="2.6"/><circle cx="301" cy="428" r="2.6"/><circle cx="302.4" cy="414.2" r="2.6"/><circle cx="313" cy="439.7" r="2.6"/><circle cx="300.3" cy="444.2" r="2.6"/><circle cx="318.6" cy="440.9" r="2.6"/><circle cx="318.3" cy="421.8" r="2.6"/><circle cx="318.4" cy="445.9" r="2.6"/><circle cx="298.9" cy="440.8" r="2.6"/><circle cx="299.5" cy="441.2" r="2.6"/><circle cx="317.2" cy="429.6" r="2.6"/><circle cx="313.7" cy="430.8" r="2.6"/><circle cx="319.4" cy="422.1" r="2.6"/><circle cx="307.9" cy="449.2" r="2.6"/><circle cx="310.5" cy="436.2" r="2.6"/><circle cx="307.2" cy="396.4" r="2.6"/><circle cx="296.9" cy="437.2" r="2.6"/><circle cx="304.8" cy="436.3" r="2.6"/><circle cx="310" cy="426.9" r="2.6"/><circle cx="297.9" cy="417.1" r="2.6"/><circle cx="322.4" cy="437.1" r="2.6"/><circle cx="286.1" cy="446.9" r="2.6"/><circle cx="300.2" cy="429" r="2.6"/><circle cx="299.8" cy="449" r="2.6"/><circle cx="304.7" cy="430.3" r="2.6"/><circle cx="310.4" cy="441.6" r="2.6"/><circle cx="319.2" cy="451.3" r="2.6"/><circle cx="307.5" cy="428.1" r="2.6"/><circle cx="314.9" cy="443.1" r="2.6"/><circle cx="323.1" cy="425.1" r="2.6"/><circle cx="311.2" cy="396.6" r="2.6"/><circle cx="311.5" cy="420" r="2.6"/><circle cx="322.2" cy="441.8" r="2.6"/><circle cx="322.1" cy="422.3" r="2.6"/><circle cx="314.9" cy="419.2" r="2.6"/><circle cx="310.5" cy="435.4" r="2.6"/><circle cx="308.8" cy="446.5" r="2.6"/><circle cx="307.5" cy="431.6" r="2.6"/><circle cx="320.5" cy="418.2" r="2.6"/><circle cx="316" cy="444.7" r="2.6"/><circle cx="305.3" cy="436" r="2.6"/><circle cx="299.5" cy="443" r="2.6"/><circle cx="299.5" cy="414.4" r="2.6"/><circle cx="322.4" cy="445.8" r="2.6"/><circle cx="306.4" cy="440.7" r="2.6"/><circle cx="323.9" cy="426.6" r="2.6"/><circle cx="323.1" cy="445.1" r="2.6"/><circle cx="323.9" cy="438.8" r="2.6"/><circle cx="308.6" cy="440.6" r="2.6"/><circle cx="306.6" cy="442.7" r="2.6"/><circle cx="303.7" cy="400" r="2.6"/><circle cx="320.5" cy="417.2" r="2.6"/><circle cx="319.4" cy="405.4" r="2.6"/><circle cx="322.2" cy="416.8" r="2.6"/><circle cx="314.4" cy="431.9" r="2.6"/><circle cx="321.6" cy="392.3" r="2.6"/><circle cx="324.1" cy="430.7" r="2.6"/><circle cx="324.4" cy="448.5" r="2.6"/><circle cx="315.8" cy="446.3" r="2.6"/><circle cx="321.6" cy="448.3" r="2.6"/><circle cx="307.5" cy="405.8" r="2.6"/><circle cx="321.5" cy="408.2" r="2.6"/><circle cx="313.5" cy="433.2" r="2.6"/><circle cx="319" cy="407.7" r="2.6"/><circle cx="297.3" cy="421.2" r="2.6"/><circle cx="317.9" cy="428.5" r="2.6"/><circle cx="313.9" cy="436.8" r="2.6"/><circle cx="323.4" cy="409.7" r="2.6"/><circle cx="304.4" cy="435.7" r="2.6"/><circle cx="323.2" cy="448.6" r="2.6"/><circle cx="310.9" cy="438.3" r="2.6"/><circle cx="304.9" cy="448.5" r="2.6"/><circle cx="316.9" cy="438.3" r="2.6"/><circle cx="301.2" cy="412.7" r="2.6"/><circle cx="324.1" cy="451.4" r="2.6"/><circle cx="313.1" cy="435.4" r="2.6"/><circle cx="306.8" cy="430.2" r="2.6"/><circle cx="314.7" cy="440.9" r="2.6"/><circle cx="309.2" cy="447" r="2.6"/><circle cx="307.2" cy="451" r="2.6"/><circle cx="304.3" cy="433.2" r="2.6"/><circle cx="306.7" cy="443.7" r="2.6"/><circle cx="285.1" cy="427.8" r="2.6"/><circle cx="284.9" cy="450.9" r="2.6"/><circle cx="320.6" cy="426.8" r="2.6"/><circle cx="312.5" cy="412.9" r="2.6"/><circle cx="312.4" cy="442.6" r="2.6"/><circle cx="302" cy="422.8" r="2.6"/><circle cx="320.8" cy="446.9" r="2.6"/><circle cx="306.5" cy="435.8" r="2.6"/><circle cx="316.7" cy="417.3" r="2.6"/><circle cx="315.1" cy="441.4" r="2.6"/><circle cx="290.8" cy="437.8" r="2.6"/><circle cx="321.4" cy="411.9" r="2.6"/><circle cx="302.5" cy="420.9" r="2.6"/><circle cx="316.5" cy="444.6" r="2.6"/><circle cx="310.2" cy="434.3" r="2.6"/><circle cx="302.8" cy="450.7" r="2.6"/><circle cx="300" cy="426.5" r="2.6"/><circle cx="306.8" cy="450.5" r="2.6"/><circle cx="309" cy="444.6" r="2.6"/><circle cx="312.3" cy="401.9" r="2.6"/><circle cx="323.9" cy="433.2" r="2.6"/><circle cx="306.5" cy="404.6" r="2.6"/><circle cx="296.9" cy="433.1" r="2.6"/><circle cx="305" cy="428.3" r="2.6"/><circle cx="306.9" cy="433.8" r="2.6"/><circle cx="319" cy="430.1" r="2.6"/><circle cx="312.7" cy="439.6" r="2.6"/><circle cx="323.7" cy="447.6" r="2.6"/><circle cx="315.8" cy="450.8" r="2.6"/><circle cx="318.1" cy="430.7" r="2.6"/><circle cx="283.7" cy="442.5" r="2.6"/><circle cx="310" cy="435.4" r="2.6"/><circle cx="295" cy="445.7" r="2.6"/><circle cx="318.1" cy="444" r="2.6"/><circle cx="306" cy="440.5" r="2.6"/><circle cx="297.1" cy="450.4" r="2.6"/><circle cx="290.7" cy="435.2" r="2.6"/><circle cx="315.3" cy="419.1" r="2.6"/><circle cx="322.1" cy="434.8" r="2.6"/><circle cx="306.8" cy="451.2" r="2.6"/><circle cx="314.5" cy="442" r="2.6"/><circle cx="287.7" cy="428.6" r="2.6"/><circle cx="300.5" cy="441.1" r="2.6"/><circle cx="303" cy="446.9" r="2.6"/><circle cx="308.4" cy="448.3" r="2.6"/><circle cx="322.6" cy="429.1" r="2.6"/><circle cx="324.2" cy="449" r="2.6"/><circle cx="316.6" cy="411.8" r="2.6"/><circle cx="322.7" cy="448.8" r="2.6"/><circle cx="294.9" cy="446.1" r="2.6"/><circle cx="321.1" cy="425.7" r="2.6"/><circle cx="322.1" cy="422.5" r="2.6"/><circle cx="318.9" cy="427.1" r="2.6"/><circle cx="305.9" cy="449.8" r="2.6"/><circle cx="300.7" cy="432.2" r="2.6"/><circle cx="319.2" cy="398.9" r="2.6"/><circle cx="304.4" cy="445.8" r="2.6"/><circle cx="295.6" cy="451.3" r="2.6"/><circle cx="317.8" cy="451.2" r="2.6"/><circle cx="304.4" cy="449.9" r="2.6"/><circle cx="296.6" cy="444.3" r="2.6"/><circle cx="323" cy="413" r="2.6"/><circle cx="313.3" cy="438.5" r="2.6"/><circle cx="307.8" cy="434.8" r="2.6"/><circle cx="317.9" cy="440.3" r="2.6"/><circle cx="319.8" cy="420.4" r="2.6"/><circle cx="315.1" cy="442.7" r="2.6"/><circle cx="308.3" cy="441" r="2.6"/><circle cx="303.7" cy="442" r="2.6"/><circle cx="314.3" cy="421.6" r="2.6"/><circle cx="306" cy="444.8" r="2.6"/><circle cx="311.6" cy="417.2" r="2.6"/><circle cx="305.7" cy="443.6" r="2.6"/><circle cx="284.1" cy="416.8" r="2.6"/><circle cx="292.8" cy="433.6" r="2.6"/><circle cx="317.3" cy="408.8" r="2.6"/><circle cx="306" cy="442.3" r="2.6"/><circle cx="314.4" cy="407.3" r="2.6"/><circle cx="301.2" cy="419.4" r="2.6"/><circle cx="324.2" cy="445.6" r="2.6"/><circle cx="323.3" cy="440.8" r="2.6"/><circle cx="295.1" cy="408.9" r="2.6"/><circle cx="306.7" cy="450.7" r="2.6"/><circle cx="307.4" cy="412.1" r="2.6"/><circle cx="294.9" cy="435" r="2.6"/><circle cx="319" cy="419.4" r="2.6"/><circle cx="288.5" cy="429" r="2.6"/><circle cx="309.7" cy="449.8" r="2.6"/><circle cx="315.5" cy="435.8" r="2.6"/><circle cx="320.8" cy="424.4" r="2.6"/><circle cx="312.5" cy="399.1" r="2.6"/><circle cx="321.9" cy="429.4" r="2.6"/><circle cx="299.1" cy="439.3" r="2.6"/><circle cx="320.6" cy="424.4" r="2.6"/><circle cx="310.7" cy="420.9" r="2.6"/><circle cx="316.7" cy="419.5" r="2.6"/><circle cx="322.4" cy="422.7" r="2.6"/><circle cx="321.8" cy="407.2" r="2.6"/><circle cx="300" cy="409.3" r="2.6"/><circle cx="303.4" cy="434.2" r="2.6"/><circle cx="321.5" cy="447.4" r="2.6"/><circle cx="320.2" cy="428" r="2.6"/><circle cx="313.4" cy="442.7" r="2.6"/><circle cx="307" cy="437.3" r="2.6"/><circle cx="317" cy="448.4" r="2.6"/><circle cx="298" cy="449.3" r="2.6"/><circle cx="306.8" cy="432" r="2.6"/><circle cx="321.9" cy="433.8" r="2.6"/><circle cx="313.9" cy="443.3" r="2.6"/><circle cx="320.6" cy="450.9" r="2.6"/><circle cx="323.9" cy="399.1" r="2.6"/><circle cx="300.4" cy="445.6" r="2.6"/><circle cx="322.3" cy="422" r="2.6"/><circle cx="284.2" cy="423.1" r="2.6"/><circle cx="304.2" cy="418.2" r="2.6"/><circle cx="310.5" cy="450.8" r="2.6"/><circle cx="321.2" cy="447.1" r="2.6"/><circle cx="321.1" cy="450.5" r="2.6"/><circle cx="317.4" cy="435.6" r="2.6"/><circle cx="310.2" cy="394.1" r="2.6"/><circle cx="309.4" cy="404.5" r="2.6"/><circle cx="301.3" cy="441.6" r="2.6"/><circle cx="314.5" cy="449" r="2.6"/><circle cx="310.5" cy="435.3" r="2.6"/><circle cx="320.8" cy="431.5" r="2.6"/><circle cx="297.7" cy="441.8" r="2.6"/><circle cx="316.9" cy="439.9" r="2.6"/><circle cx="298.4" cy="439.2" r="2.6"/><circle cx="283.6" cy="450.8" r="2.6"/><circle cx="323.8" cy="406" r="2.6"/><circle cx="307.1" cy="405.7" r="2.6"/><circle cx="321.4" cy="421.4" r="2.6"/><circle cx="319.5" cy="427.4" r="2.6"/><circle cx="291.7" cy="450.4" r="2.6"/><circle cx="288.5" cy="424.1" r="2.6"/><circle cx="298.4" cy="444.6" r="2.6"/><circle cx="314" cy="434.1" r="2.6"/><circle cx="324" cy="443.9" r="2.6"/><circle cx="315.6" cy="445.7" r="2.6"/><circle cx="309.2" cy="447.9" r="2.6"/><circle cx="309.4" cy="446.2" r="2.6"/><circle cx="307" cy="451.3" r="2.6"/><circle cx="302.5" cy="426.9" r="2.6"/><circle cx="322.7" cy="400.3" r="2.6"/><circle cx="319.7" cy="446.7" r="2.6"/><circle cx="290.2" cy="408.7" r="2.6"/><circle cx="309.3" cy="448.6" r="2.6"/><circle cx="316.5" cy="400" r="2.6"/><circle cx="321.7" cy="415.5" r="2.6"/><circle cx="310.3" cy="443.4" r="2.6"/><circle cx="309.7" cy="417.7" r="2.6"/><circle cx="298.5" cy="448.5" r="2.6"/><circle cx="320.7" cy="446.6" r="2.6"/><circle cx="296.8" cy="435.8" r="2.6"/><circle cx="314.1" cy="448.5" r="2.6"/><circle cx="314.3" cy="441.2" r="2.6"/><circle cx="313.8" cy="448.2" r="2.6"/><circle cx="319.7" cy="443.6" r="2.6"/><circle cx="289.1" cy="447.9" r="2.6"/><circle cx="308.1" cy="405.9" r="2.6"/><circle cx="323.5" cy="449.2" r="2.6"/><circle cx="318.1" cy="407.5" r="2.6"/><circle cx="323.6" cy="430" r="2.6"/><circle cx="319.3" cy="444.9" r="2.6"/><circle cx="303.8" cy="445.7" r="2.6"/><circle cx="319.1" cy="391.1" r="2.6"/><circle cx="307.5" cy="400.9" r="2.6"/><circle cx="311.8" cy="407.3" r="2.6"/><circle cx="315.6" cy="450.4" r="2.6"/><circle cx="322.1" cy="450.6" r="2.6"/><circle cx="309.1" cy="419.4" r="2.6"/><circle cx="318.9" cy="451.5" r="2.6"/><circle cx="315.8" cy="416.7" r="2.6"/><circle cx="312.6" cy="440.4" r="2.6"/><circle cx="322.4" cy="404.1" r="2.6"/><circle cx="319.6" cy="448.6" r="2.6"/><circle cx="300.7" cy="447.6" r="2.6"/><circle cx="320.6" cy="447.2" r="2.6"/><circle cx="295.3" cy="449.9" r="2.6"/><circle cx="302.7" cy="438.2" r="2.6"/><circle cx="311.1" cy="445.3" r="2.6"/><circle cx="317.4" cy="427.5" r="2.6"/><circle cx="299.8" cy="418.9" r="2.6"/><circle cx="313.6" cy="450.2" r="2.6"/><circle cx="318.2" cy="425.8" r="2.6"/><circle cx="299.5" cy="450.4" r="2.6"/><circle cx="308.2" cy="419" r="2.6"/><circle cx="306.2" cy="412.5" r="2.6"/><circle cx="293.7" cy="438.3" r="2.6"/><circle cx="283.7" cy="438.9" r="2.6"/><circle cx="320.4" cy="411.4" r="2.6"/><circle cx="323.2" cy="416.7" r="2.6"/><circle cx="312.5" cy="442.6" r="2.6"/><circle cx="315.1" cy="433.9" r="2.6"/><circle cx="309.1" cy="451.4" r="2.6"/><circle cx="304.3" cy="437.4" r="2.6"/><circle cx="321.9" cy="449" r="2.6"/><circle cx="316.8" cy="412.4" r="2.6"/><circle cx="291" cy="444" r="2.6"/><circle cx="320" cy="424.4" r="2.6"/><circle cx="306.7" cy="450.3" r="2.6"/><circle cx="292.2" cy="438.2" r="2.6"/><circle cx="291.3" cy="437.5" r="2.6"/><circle cx="301.7" cy="451.1" r="2.6"/><circle cx="320" cy="438" r="2.6"/><circle cx="320.8" cy="445.9" r="2.6"/><circle cx="316.5" cy="418.4" r="2.6"/><circle cx="214.1" cy="446" r="2.6"/><circle cx="273.8" cy="448.1" r="2.6"/><circle cx="213" cy="437.2" r="2.6"/><circle cx="262.9" cy="440" r="2.6"/><circle cx="274.1" cy="449.8" r="2.6"/><circle cx="289" cy="431.8" r="2.6"/><circle cx="215.5" cy="445.6" r="2.6"/><circle cx="255.5" cy="440.7" r="2.6"/><circle cx="236.4" cy="449.5" r="2.6"/><circle cx="247.6" cy="449.2" r="2.6"/><circle cx="264.2" cy="420.7" r="2.6"/><circle cx="224.6" cy="438.2" r="2.6"/><circle cx="278" cy="448.7" r="2.6"/><circle cx="285.1" cy="436.3" r="2.6"/><circle cx="248.9" cy="422.9" r="2.6"/><circle cx="258.3" cy="443.7" r="2.6"/><circle cx="295.4" cy="428.1" r="2.6"/><circle cx="241.6" cy="447.2" r="2.6"/><circle cx="241.3" cy="442.6" r="2.6"/><circle cx="299" cy="426" r="2.6"/><circle cx="292.8" cy="425.2" r="2.6"/><circle cx="287" cy="450.7" r="2.6"/><circle cx="257.6" cy="415" r="2.6"/><circle cx="233.7" cy="443" r="2.6"/><circle cx="267.9" cy="444.4" r="2.6"/><circle cx="258.8" cy="450.4" r="2.6"/><circle cx="250.1" cy="440.5" r="2.6"/><circle cx="213.3" cy="445.3" r="2.6"/><circle cx="297.9" cy="428.1" r="2.6"/><circle cx="295" cy="435.9" r="2.6"/><circle cx="283.6" cy="417.8" r="2.6"/><circle cx="290.3" cy="451" r="2.6"/><circle cx="268.7" cy="446.7" r="2.6"/><circle cx="271.9" cy="446.5" r="2.6"/><circle cx="259.8" cy="427.3" r="2.6"/><circle cx="233.8" cy="440.1" r="2.6"/><circle cx="250.1" cy="440.3" r="2.6"/><circle cx="238.7" cy="435.2" r="2.6"/><circle cx="222.2" cy="437.4" r="2.6"/><circle cx="296.7" cy="440.3" r="2.6"/><circle cx="235.4" cy="441.7" r="2.6"/><circle cx="259.1" cy="449" r="2.6"/><circle cx="222.5" cy="449.3" r="2.6"/><circle cx="237.6" cy="443.4" r="2.6"/><circle cx="237.2" cy="447.2" r="2.6"/><circle cx="219.3" cy="439.2" r="2.6"/><circle cx="286.3" cy="436.8" r="2.6"/><circle cx="262.3" cy="435.1" r="2.6"/><circle cx="229.4" cy="432.2" r="2.6"/><circle cx="252.5" cy="439.1" r="2.6"/><circle cx="266.1" cy="441.6" r="2.6"/><circle cx="239.1" cy="447.2" r="2.6"/><circle cx="231.2" cy="440.3" r="2.6"/><circle cx="245.6" cy="437.8" r="2.6"/><circle cx="212.5" cy="444.7" r="2.6"/><circle cx="288.3" cy="447.3" r="2.6"/><circle cx="261.1" cy="441" r="2.6"/><circle cx="236.8" cy="440.8" r="2.6"/><circle cx="280.3" cy="448.8" r="2.6"/><circle cx="217.4" cy="437.5" r="2.6"/><circle cx="217" cy="443.9" r="2.6"/><circle cx="250.7" cy="430.8" r="2.6"/><circle cx="221.2" cy="447.5" r="2.6"/><circle cx="297" cy="430.6" r="2.6"/><circle cx="225.2" cy="445.1" r="2.6"/><circle cx="242.9" cy="434" r="2.6"/><circle cx="266.4" cy="421.9" r="2.6"/><circle cx="284.7" cy="440.1" r="2.6"/><circle cx="277.3" cy="430.3" r="2.6"/><circle cx="279.2" cy="441.5" r="2.6"/><circle cx="281.4" cy="432.3" r="2.6"/><circle cx="293" cy="449.4" r="2.6"/><circle cx="289.1" cy="451.5" r="2.6"/><circle cx="279.7" cy="437.8" r="2.6"/><circle cx="255.8" cy="429.2" r="2.6"/><circle cx="248.7" cy="427.6" r="2.6"/><circle cx="289.3" cy="436.9" r="2.6"/><circle cx="245.3" cy="442.1" r="2.6"/><circle cx="252.3" cy="431.5" r="2.6"/><circle cx="237.6" cy="443.8" r="2.6"/><circle cx="261" cy="443.9" r="2.6"/><circle cx="240.2" cy="427.4" r="2.6"/><circle cx="287.2" cy="440.7" r="2.6"/><circle cx="251" cy="448.3" r="2.6"/><circle cx="238.6" cy="449.1" r="2.6"/><circle cx="262.8" cy="437.9" r="2.6"/><circle cx="219.3" cy="441.1" r="2.6"/><circle cx="286.7" cy="423.1" r="2.6"/><circle cx="296.9" cy="448" r="2.6"/><circle cx="249.5" cy="413.8" r="2.6"/><circle cx="212.4" cy="446.9" r="2.6"/><circle cx="261.8" cy="440.8" r="2.6"/><circle cx="293.5" cy="428.3" r="2.6"/><circle cx="259.5" cy="431.3" r="2.6"/><circle cx="257.6" cy="433.5" r="2.6"/><circle cx="246.2" cy="444.6" r="2.6"/><circle cx="264.5" cy="444.8" r="2.6"/><circle cx="296" cy="433.9" r="2.6"/><circle cx="258.3" cy="449.9" r="2.6"/><circle cx="244.8" cy="443.5" r="2.6"/><circle cx="261.5" cy="438.2" r="2.6"/><circle cx="289.9" cy="432.5" r="2.6"/><circle cx="250.7" cy="436.2" r="2.6"/><circle cx="300.3" cy="445" r="2.6"/><circle cx="258.7" cy="425.1" r="2.6"/><circle cx="226.7" cy="445.5" r="2.6"/><circle cx="298.7" cy="424.2" r="2.6"/><circle cx="257.2" cy="449.7" r="2.6"/><circle cx="291.2" cy="433.2" r="2.6"/><circle cx="284.6" cy="416.9" r="2.6"/><circle cx="249" cy="448.9" r="2.6"/><circle cx="237.3" cy="440.3" r="2.6"/><circle cx="256.5" cy="448.3" r="2.6"/><circle cx="227.7" cy="436" r="2.6"/><circle cx="265.2" cy="444.7" r="2.6"/><circle cx="300.1" cy="435.7" r="2.6"/><circle cx="215.2" cy="443.2" r="2.6"/><circle cx="281.7" cy="445.8" r="2.6"/><circle cx="273" cy="451.5" r="2.6"/><circle cx="238.6" cy="422.7" r="2.6"/><circle cx="263.7" cy="434.3" r="2.6"/><circle cx="229" cy="440.8" r="2.6"/><circle cx="260.8" cy="446.7" r="2.6"/><circle cx="269.1" cy="439.7" r="2.6"/><circle cx="300.4" cy="438.2" r="2.6"/><circle cx="248.1" cy="449.5" r="2.6"/><circle cx="225.4" cy="429.3" r="2.6"/><circle cx="221" cy="449.9" r="2.6"/><circle cx="226.7" cy="440" r="2.6"/><circle cx="284.9" cy="436.7" r="2.6"/><circle cx="283.4" cy="450.5" r="2.6"/><circle cx="212.6" cy="428.5" r="2.6"/><circle cx="240.2" cy="431.9" r="2.6"/><circle cx="243" cy="448.6" r="2.6"/><circle cx="235.2" cy="449.9" r="2.6"/><circle cx="292.1" cy="437.9" r="2.6"/><circle cx="242.6" cy="442.2" r="2.6"/><circle cx="245.8" cy="450.6" r="2.6"/><circle cx="290.9" cy="437.9" r="2.6"/><circle cx="297" cy="442.5" r="2.6"/><circle cx="266.8" cy="447" r="2.6"/><circle cx="215.4" cy="424.7" r="2.6"/><circle cx="239.5" cy="415.7" r="2.6"/><circle cx="284.2" cy="445.9" r="2.6"/><circle cx="265.2" cy="432.2" r="2.6"/><circle cx="296.1" cy="447.2" r="2.6"/><circle cx="246.2" cy="431.7" r="2.6"/><circle cx="231.2" cy="445.7" r="2.6"/><circle cx="289.5" cy="441.2" r="2.6"/><circle cx="282.1" cy="447.2" r="2.6"/><circle cx="226.9" cy="444.6" r="2.6"/><circle cx="228.1" cy="441.5" r="2.6"/><circle cx="261.5" cy="449.6" r="2.6"/><circle cx="259" cy="443.9" r="2.6"/><circle cx="247.4" cy="450.5" r="2.6"/><circle cx="222.4" cy="424.2" r="2.6"/><circle cx="242.8" cy="447.1" r="2.6"/><circle cx="228.5" cy="446.3" r="2.6"/><circle cx="232.6" cy="451" r="2.6"/><circle cx="270.7" cy="445" r="2.6"/><circle cx="225.3" cy="432.4" r="2.6"/><circle cx="219.7" cy="446.6" r="2.6"/><circle cx="285.9" cy="449.4" r="2.6"/><circle cx="251" cy="423.3" r="2.6"/><circle cx="283.2" cy="448.8" r="2.6"/><circle cx="242.9" cy="431.5" r="2.6"/><circle cx="245.1" cy="443.6" r="2.6"/><circle cx="296.2" cy="440.5" r="2.6"/><circle cx="231.7" cy="442.1" r="2.6"/><circle cx="223.1" cy="432.4" r="2.6"/><circle cx="234.7" cy="430.5" r="2.6"/><circle cx="244.3" cy="447.1" r="2.6"/><circle cx="265.7" cy="447.8" r="2.6"/><circle cx="289.2" cy="449.5" r="2.6"/><circle cx="257.2" cy="439.3" r="2.6"/><circle cx="235.6" cy="428.5" r="2.6"/><circle cx="245.8" cy="434.8" r="2.6"/><circle cx="262.1" cy="445.7" r="2.6"/><circle cx="246.2" cy="450.1" r="2.6"/><circle cx="227.2" cy="421.8" r="2.6"/><circle cx="240.1" cy="434.6" r="2.6"/><circle cx="221.2" cy="438.6" r="2.6"/><circle cx="243.7" cy="440.7" r="2.6"/><circle cx="237.9" cy="450.5" r="2.6"/><circle cx="239.2" cy="447.5" r="2.6"/><circle cx="222.7" cy="431.8" r="2.6"/><circle cx="236.6" cy="443.5" r="2.6"/><circle cx="292.5" cy="428.2" r="2.6"/><circle cx="290.2" cy="420.7" r="2.6"/><circle cx="223.2" cy="446.5" r="2.6"/><circle cx="214.1" cy="433.7" r="2.6"/><circle cx="270.6" cy="444.8" r="2.6"/><circle cx="248.2" cy="434.7" r="2.6"/><circle cx="273.8" cy="447.1" r="2.6"/><circle cx="287" cy="444.7" r="2.6"/><circle cx="267.5" cy="448.4" r="2.6"/><circle cx="221.7" cy="427.4" r="2.6"/><circle cx="275" cy="450.9" r="2.6"/><circle cx="215" cy="444.9" r="2.6"/><circle cx="229.1" cy="445.9" r="2.6"/><circle cx="245.4" cy="450.9" r="2.6"/><circle cx="239.2" cy="435.6" r="2.6"/><circle cx="227.5" cy="423" r="2.6"/><circle cx="262.3" cy="431.8" r="2.6"/><circle cx="234.2" cy="442.6" r="2.6"/><circle cx="272.5" cy="444.8" r="2.6"/><circle cx="211.5" cy="423.5" r="2.6"/><circle cx="280.7" cy="446.3" r="2.6"/><circle cx="215.3" cy="421.5" r="2.6"/><circle cx="265.6" cy="450.8" r="2.6"/><circle cx="233.2" cy="449.7" r="2.6"/><circle cx="282" cy="447.8" r="2.6"/><circle cx="293" cy="429.9" r="2.6"/><circle cx="219.1" cy="433" r="2.6"/><circle cx="246.5" cy="430" r="2.6"/><circle cx="285.4" cy="446.4" r="2.6"/><circle cx="219.5" cy="437.8" r="2.6"/><circle cx="294.4" cy="433.2" r="2.6"/><circle cx="277.3" cy="423.9" r="2.6"/><circle cx="267.5" cy="442.1" r="2.6"/><circle cx="216.3" cy="432.8" r="2.6"/><circle cx="249.6" cy="440.3" r="2.6"/><circle cx="294.2" cy="449.4" r="2.6"/><circle cx="279.4" cy="450.8" r="2.6"/><circle cx="274.1" cy="425.9" r="2.6"/><circle cx="234.7" cy="439.2" r="2.6"/><circle cx="297.9" cy="435.7" r="2.6"/><circle cx="260" cy="447" r="2.6"/><circle cx="216.7" cy="444.6" r="2.6"/><circle cx="248.2" cy="448" r="2.6"/><circle cx="239.1" cy="449.2" r="2.6"/><circle cx="274.5" cy="434.2" r="2.6"/><circle cx="232.7" cy="447.2" r="2.6"/><circle cx="257.4" cy="442.3" r="2.6"/><circle cx="294.9" cy="444.8" r="2.6"/><circle cx="238.1" cy="417.8" r="2.6"/><circle cx="224.1" cy="438.6" r="2.6"/><circle cx="241.2" cy="425.1" r="2.6"/><circle cx="260.3" cy="429.2" r="2.6"/><circle cx="226.5" cy="434.4" r="2.6"/><circle cx="264.8" cy="441.9" r="2.6"/><circle cx="279.8" cy="423.7" r="2.6"/><circle cx="221.7" cy="446.2" r="2.6"/><circle cx="243.6" cy="447.9" r="2.6"/><circle cx="216.8" cy="446.4" r="2.6"/><circle cx="229" cy="432.6" r="2.6"/><circle cx="251.4" cy="449.7" r="2.6"/><circle cx="240.4" cy="441.6" r="2.6"/><circle cx="243.8" cy="448.7" r="2.6"/><circle cx="217.8" cy="447.5" r="2.6"/><circle cx="299.9" cy="429.8" r="2.6"/><circle cx="218.9" cy="431.8" r="2.6"/><circle cx="298.9" cy="438.6" r="2.6"/><circle cx="221.1" cy="441" r="2.6"/><circle cx="250.2" cy="448.2" r="2.6"/><circle cx="259.9" cy="451.4" r="2.6"/><circle cx="293.5" cy="435.4" r="2.6"/><circle cx="267.4" cy="426" r="2.6"/><circle cx="233.9" cy="447.1" r="2.6"/><circle cx="223.8" cy="451.1" r="2.6"/><circle cx="280.5" cy="422.9" r="2.6"/><circle cx="237.9" cy="448.3" r="2.6"/><circle cx="268.3" cy="422.3" r="2.6"/><circle cx="294.1" cy="448.6" r="2.6"/><circle cx="281.4" cy="423.8" r="2.6"/><circle cx="277.6" cy="445.3" r="2.6"/><circle cx="227.9" cy="424.3" r="2.6"/><circle cx="240" cy="444.3" r="2.6"/><circle cx="260.6" cy="444.3" r="2.6"/><circle cx="285.6" cy="447.3" r="2.6"/><circle cx="215.1" cy="438.5" r="2.6"/><circle cx="267.5" cy="424.8" r="2.6"/><circle cx="274.4" cy="414.7" r="2.6"/><circle cx="295.7" cy="440.9" r="2.6"/><circle cx="256" cy="448.8" r="2.6"/><circle cx="238.2" cy="437.9" r="2.6"/><circle cx="218.6" cy="433.3" r="2.6"/><circle cx="226" cy="442.4" r="2.6"/><circle cx="297.9" cy="450.1" r="2.6"/><circle cx="215" cy="442.5" r="2.6"/><circle cx="228.5" cy="431.5" r="2.6"/><circle cx="211.7" cy="422.8" r="2.6"/><circle cx="287.7" cy="427.4" r="2.6"/><circle cx="249.4" cy="446.3" r="2.6"/><circle cx="270.4" cy="440.2" r="2.6"/><circle cx="249" cy="445.1" r="2.6"/><circle cx="250.6" cy="434.4" r="2.6"/><circle cx="285.1" cy="414.9" r="2.6"/><circle cx="226.1" cy="446" r="2.6"/><circle cx="251" cy="438.6" r="2.6"/></g>
<g fill="#E8600C"><circle cx="381.8" cy="324.4" r="2.6"/><circle cx="409.3" cy="358.6" r="2.6"/><circle cx="428.5" cy="373.1" r="2.6"/><circle cx="363.1" cy="362.3" r="2.6"/><circle cx="366.9" cy="366.6" r="2.6"/><circle cx="377.4" cy="371.1" r="2.6"/><circle cx="379.4" cy="371.8" r="2.6"/><circle cx="356.6" cy="376.1" r="2.6"/><circle cx="369.4" cy="377.3" r="2.6"/><circle cx="375.6" cy="381.8" r="2.6"/><circle cx="399.8" cy="377.8" r="2.6"/><circle cx="398.6" cy="381.8" r="2.6"/><circle cx="354.4" cy="386.6" r="2.6"/><circle cx="365.4" cy="387.8" r="2.6"/><circle cx="359.9" cy="390.3" r="2.6"/><circle cx="385.3" cy="387.8" r="2.6"/><circle cx="378.1" cy="389.8" r="2.6"/><circle cx="379.9" cy="398.5" r="2.6"/><circle cx="446.5" cy="408.8" r="2.6"/><circle cx="490.4" cy="416" r="2.6"/><circle cx="399.1" cy="403.5" r="2.6"/><circle cx="405.3" cy="403.8" r="2.6"/><circle cx="401.1" cy="410.5" r="2.6"/><circle cx="384.8" cy="407.3" r="2.6"/><circle cx="386.1" cy="409.8" r="2.6"/><circle cx="379.9" cy="412.3" r="2.6"/><circle cx="387.3" cy="415.5" r="2.6"/><circle cx="395.6" cy="413.5" r="2.6"/><circle cx="400.6" cy="418" r="2.6"/><circle cx="413.5" cy="420.5" r="2.6"/><circle cx="415.3" cy="419.7" r="2.6"/><circle cx="435.5" cy="424.5" r="2.6"/><circle cx="456.5" cy="422.2" r="2.6"/><circle cx="393.6" cy="419.2" r="2.6"/><circle cx="392.3" cy="424.7" r="2.6"/><circle cx="473.4" cy="429" r="2.6"/><circle cx="481.4" cy="428.5" r="2.6"/><circle cx="483.4" cy="431.7" r="2.6"/><circle cx="495.4" cy="431.2" r="2.6"/><circle cx="509.1" cy="430.7" r="2.6"/><circle cx="486.7" cy="436" r="2.6"/><circle cx="484.7" cy="438.5" r="2.6"/><circle cx="458.5" cy="438.5" r="2.6"/><circle cx="466.7" cy="440.2" r="2.6"/><circle cx="446.5" cy="440.9" r="2.6"/><circle cx="448.5" cy="441.7" r="2.6"/><circle cx="440.5" cy="439.7" r="2.6"/><circle cx="426.5" cy="440.9" r="2.6"/><circle cx="422.3" cy="445.2" r="2.6"/><circle cx="436.5" cy="445.2" r="2.6"/><circle cx="430.5" cy="446.4" r="2.6"/><circle cx="442.7" cy="446.7" r="2.6"/><circle cx="454.7" cy="444.2" r="2.6"/><circle cx="459.7" cy="444.7" r="2.6"/><circle cx="467.2" cy="443.4" r="2.6"/><circle cx="456.7" cy="450.4" r="2.6"/><circle cx="460.9" cy="449.7" r="2.6"/><circle cx="465.9" cy="449.2" r="2.6"/><circle cx="477.2" cy="450.9" r="2.6"/><circle cx="483.4" cy="447.2" r="2.6"/><circle cx="486.7" cy="445.4" r="2.6"/><circle cx="357.9" cy="394.8" r="2.6"/><circle cx="366.1" cy="395.3" r="2.6"/><circle cx="361.9" cy="398.5" r="2.6"/><circle cx="367.4" cy="401" r="2.6"/><circle cx="371.9" cy="399.8" r="2.6"/><circle cx="372.4" cy="404.8" r="2.6"/><circle cx="358.6" cy="401" r="2.6"/><circle cx="363.6" cy="404.8" r="2.6"/><circle cx="369.9" cy="409.8" r="2.6"/><circle cx="374.9" cy="414.7" r="2.6"/><circle cx="377.4" cy="424.7" r="2.6"/><circle cx="382.3" cy="426" r="2.6"/><circle cx="386.1" cy="428.5" r="2.6"/><circle cx="388.6" cy="431" r="2.6"/><circle cx="391.1" cy="433.5" r="2.6"/><circle cx="397.3" cy="437.2" r="2.6"/><circle cx="402.3" cy="429.7" r="2.6"/><circle cx="404.8" cy="432.7" r="2.6"/><circle cx="406.8" cy="435.2" r="2.6"/><circle cx="408.5" cy="440.9" r="2.6"/><circle cx="411" cy="443.4" r="2.6"/><circle cx="414.8" cy="444.7" r="2.6"/><circle cx="417.3" cy="447.7" r="2.6"/><circle cx="382.3" cy="429.7" r="2.6"/><circle cx="379.9" cy="433.5" r="2.6"/><circle cx="384.8" cy="436" r="2.6"/><circle cx="387.3" cy="439.7" r="2.6"/><circle cx="391.1" cy="442.2" r="2.6"/><circle cx="394.8" cy="444.7" r="2.6"/><circle cx="398.6" cy="446.7" r="2.6"/><circle cx="401.1" cy="442.2" r="2.6"/><circle cx="403.6" cy="445.9" r="2.6"/><circle cx="407.3" cy="447.2" r="2.6"/><circle cx="409.8" cy="449.7" r="2.6"/><circle cx="383.1" cy="266.5" r="2.6"/><circle cx="382.3" cy="277" r="2.6"/><circle cx="358.3" cy="449.8" r="2.6"/><circle cx="360" cy="443.9" r="2.6"/><circle cx="381.1" cy="418.8" r="2.6"/><circle cx="361.2" cy="395.2" r="2.6"/><circle cx="368.2" cy="450.3" r="2.6"/><circle cx="367.3" cy="429.5" r="2.6"/><circle cx="361.1" cy="435" r="2.6"/><circle cx="359.9" cy="423.4" r="2.6"/><circle cx="359.6" cy="443.3" r="2.6"/><circle cx="361.4" cy="409.3" r="2.6"/><circle cx="361" cy="429.4" r="2.6"/><circle cx="355.6" cy="439.9" r="2.6"/><circle cx="367.5" cy="442.4" r="2.6"/><circle cx="362.1" cy="434.6" r="2.6"/><circle cx="365.4" cy="435.3" r="2.6"/><circle cx="360.8" cy="441.7" r="2.6"/><circle cx="359.3" cy="408.4" r="2.6"/><circle cx="358.7" cy="436" r="2.6"/><circle cx="370.1" cy="445.8" r="2.6"/><circle cx="367.7" cy="449.6" r="2.6"/><circle cx="362.1" cy="438.4" r="2.6"/><circle cx="355.9" cy="435.8" r="2.6"/><circle cx="356.4" cy="449.2" r="2.6"/><circle cx="367.7" cy="437.5" r="2.6"/><circle cx="358" cy="441.3" r="2.6"/><circle cx="356.6" cy="450" r="2.6"/><circle cx="373.6" cy="435.9" r="2.6"/><circle cx="362" cy="427" r="2.6"/><circle cx="354.6" cy="409.3" r="2.6"/><circle cx="359.5" cy="449.4" r="2.6"/><circle cx="359.4" cy="447.9" r="2.6"/><circle cx="363.4" cy="418.6" r="2.6"/><circle cx="355.3" cy="422.3" r="2.6"/><circle cx="359.9" cy="450.4" r="2.6"/><circle cx="355.2" cy="451.2" r="2.6"/><circle cx="364.3" cy="433.9" r="2.6"/><circle cx="356.4" cy="427.5" r="2.6"/><circle cx="362.9" cy="440.7" r="2.6"/><circle cx="365.4" cy="411.4" r="2.6"/><circle cx="363.7" cy="435.4" r="2.6"/><circle cx="372.6" cy="447.9" r="2.6"/><circle cx="364.8" cy="424.8" r="2.6"/><circle cx="363.9" cy="429.3" r="2.6"/><circle cx="369.1" cy="417.4" r="2.6"/><circle cx="361.6" cy="425.4" r="2.6"/><circle cx="361.4" cy="393.8" r="2.6"/><circle cx="354.9" cy="433.5" r="2.6"/><circle cx="357.4" cy="449.5" r="2.6"/><circle cx="372.2" cy="449.2" r="2.6"/><circle cx="360" cy="400.9" r="2.6"/><circle cx="358" cy="447.3" r="2.6"/><circle cx="361.5" cy="440" r="2.6"/><circle cx="361.6" cy="449.2" r="2.6"/><circle cx="366" cy="451.1" r="2.6"/><circle cx="368.7" cy="447.5" r="2.6"/><circle cx="366.3" cy="435.8" r="2.6"/><circle cx="358.3" cy="442.2" r="2.6"/><circle cx="369.7" cy="448.5" r="2.6"/><circle cx="363.5" cy="428.7" r="2.6"/><circle cx="363.5" cy="419.3" r="2.6"/><circle cx="356" cy="443.3" r="2.6"/><circle cx="354.9" cy="448.3" r="2.6"/><circle cx="375.4" cy="420.1" r="2.6"/><circle cx="354.6" cy="450.8" r="2.6"/><circle cx="362.3" cy="429.3" r="2.6"/><circle cx="371.8" cy="441.8" r="2.6"/><circle cx="360.4" cy="415.1" r="2.6"/><circle cx="355.3" cy="441.8" r="2.6"/><circle cx="364.3" cy="450" r="2.6"/><circle cx="364.6" cy="443.7" r="2.6"/><circle cx="359" cy="434.2" r="2.6"/><circle cx="375.8" cy="450.7" r="2.6"/><circle cx="359.1" cy="439.2" r="2.6"/><circle cx="363" cy="434.7" r="2.6"/><circle cx="361.8" cy="451.4" r="2.6"/><circle cx="360.6" cy="434.6" r="2.6"/><circle cx="355.5" cy="439.5" r="2.6"/><circle cx="356.2" cy="448.9" r="2.6"/><circle cx="363.8" cy="445.3" r="2.6"/><circle cx="366.6" cy="445.3" r="2.6"/><circle cx="362.5" cy="435.1" r="2.6"/><circle cx="354.4" cy="436.9" r="2.6"/><circle cx="355.9" cy="435.5" r="2.6"/><circle cx="363" cy="422.8" r="2.6"/><circle cx="366.8" cy="432" r="2.6"/><circle cx="367.2" cy="431.9" r="2.6"/><circle cx="359.9" cy="420.6" r="2.6"/><circle cx="360.8" cy="411.3" r="2.6"/><circle cx="368.9" cy="444.4" r="2.6"/><circle cx="360.3" cy="423.4" r="2.6"/><circle cx="355.2" cy="431.8" r="2.6"/><circle cx="366.7" cy="443.1" r="2.6"/><circle cx="364.4" cy="450.3" r="2.6"/><circle cx="357.7" cy="443.5" r="2.6"/><circle cx="368.1" cy="438.7" r="2.6"/><circle cx="382.1" cy="442.6" r="2.6"/><circle cx="354.7" cy="443.1" r="2.6"/><circle cx="362" cy="448.7" r="2.6"/><circle cx="375.3" cy="439.7" r="2.6"/><circle cx="355.3" cy="440" r="2.6"/><circle cx="362.4" cy="447.9" r="2.6"/><circle cx="358.1" cy="450.2" r="2.6"/><circle cx="357.2" cy="426.2" r="2.6"/><circle cx="362.8" cy="435.9" r="2.6"/><circle cx="363.1" cy="401.9" r="2.6"/><circle cx="358" cy="434.4" r="2.6"/><circle cx="360.1" cy="434.6" r="2.6"/><circle cx="357.5" cy="430.6" r="2.6"/><circle cx="356.1" cy="412" r="2.6"/><circle cx="365.2" cy="450.2" r="2.6"/><circle cx="376.4" cy="445.2" r="2.6"/><circle cx="356.5" cy="445.7" r="2.6"/><circle cx="360.5" cy="445.4" r="2.6"/><circle cx="355.3" cy="427.7" r="2.6"/><circle cx="356.5" cy="447.2" r="2.6"/><circle cx="364.6" cy="433.5" r="2.6"/><circle cx="364.2" cy="447.2" r="2.6"/><circle cx="365.7" cy="425.7" r="2.6"/><circle cx="368" cy="449.9" r="2.6"/><circle cx="357.6" cy="419.2" r="2.6"/><circle cx="361.1" cy="448.7" r="2.6"/><circle cx="361.1" cy="447.5" r="2.6"/><circle cx="374.9" cy="431.6" r="2.6"/><circle cx="359.2" cy="401.5" r="2.6"/><circle cx="356.6" cy="424.5" r="2.6"/><circle cx="363.3" cy="431.1" r="2.6"/><circle cx="367.3" cy="443.5" r="2.6"/><circle cx="363.1" cy="450.4" r="2.6"/><circle cx="357.1" cy="432.3" r="2.6"/><circle cx="356" cy="443.6" r="2.6"/><circle cx="368.3" cy="445.7" r="2.6"/><circle cx="354.9" cy="439.4" r="2.6"/><circle cx="377.9" cy="435.3" r="2.6"/><circle cx="356.4" cy="448.2" r="2.6"/><circle cx="366.9" cy="443.7" r="2.6"/><circle cx="365.3" cy="449.6" r="2.6"/><circle cx="357.6" cy="423.1" r="2.6"/><circle cx="359.2" cy="449.7" r="2.6"/><circle cx="358.6" cy="436.4" r="2.6"/><circle cx="364.4" cy="434.2" r="2.6"/><circle cx="368.6" cy="433.6" r="2.6"/><circle cx="359.5" cy="443.7" r="2.6"/><circle cx="354.8" cy="427.3" r="2.6"/><circle cx="362.4" cy="423.4" r="2.6"/><circle cx="355.8" cy="422.6" r="2.6"/><circle cx="363.2" cy="425" r="2.6"/><circle cx="356.6" cy="396.3" r="2.6"/><circle cx="366.8" cy="448.8" r="2.6"/><circle cx="366.1" cy="430.7" r="2.6"/><circle cx="355.1" cy="422.5" r="2.6"/><circle cx="374.7" cy="446.5" r="2.6"/><circle cx="378.1" cy="423.9" r="2.6"/><circle cx="356.5" cy="448.7" r="2.6"/><circle cx="355.7" cy="450.3" r="2.6"/><circle cx="367.6" cy="447.6" r="2.6"/><circle cx="354.5" cy="396.7" r="2.6"/><circle cx="358.3" cy="447.7" r="2.6"/><circle cx="358.8" cy="425.4" r="2.6"/><circle cx="359.8" cy="450.9" r="2.6"/><circle cx="357.3" cy="422.1" r="2.6"/><circle cx="355.8" cy="438" r="2.6"/><circle cx="373" cy="443.3" r="2.6"/><circle cx="358" cy="443.9" r="2.6"/><circle cx="365.3" cy="405.9" r="2.6"/><circle cx="367.5" cy="450.2" r="2.6"/><circle cx="364.9" cy="431.3" r="2.6"/><circle cx="371.2" cy="450.3" r="2.6"/><circle cx="366.3" cy="435.3" r="2.6"/><circle cx="374" cy="422.4" r="2.6"/><circle cx="366.8" cy="446.6" r="2.6"/><circle cx="354.5" cy="440.4" r="2.6"/><circle cx="362.5" cy="446.4" r="2.6"/><circle cx="359.4" cy="431.4" r="2.6"/><circle cx="371.1" cy="444.6" r="2.6"/><circle cx="361.6" cy="435.1" r="2.6"/><circle cx="354.7" cy="448.2" r="2.6"/><circle cx="368" cy="445.5" r="2.6"/><circle cx="370.2" cy="424.3" r="2.6"/><circle cx="358.1" cy="443.7" r="2.6"/><circle cx="362" cy="438.5" r="2.6"/><circle cx="359.1" cy="429.1" r="2.6"/><circle cx="358.3" cy="433.8" r="2.6"/><circle cx="367.4" cy="409.7" r="2.6"/><circle cx="358.3" cy="446.9" r="2.6"/><circle cx="361.7" cy="422" r="2.6"/><circle cx="360.9" cy="412.7" r="2.6"/><circle cx="362.9" cy="434.1" r="2.6"/><circle cx="373.2" cy="451" r="2.6"/><circle cx="375.8" cy="451.3" r="2.6"/><circle cx="372.4" cy="404.2" r="2.6"/><circle cx="364.2" cy="449.5" r="2.6"/><circle cx="368.1" cy="447.9" r="2.6"/><circle cx="356.2" cy="443.4" r="2.6"/><circle cx="358.5" cy="402.6" r="2.6"/><circle cx="358.9" cy="449.6" r="2.6"/><circle cx="375.3" cy="446.3" r="2.6"/><circle cx="358.5" cy="450.8" r="2.6"/><circle cx="369.7" cy="437.8" r="2.6"/><circle cx="355.7" cy="449.4" r="2.6"/><circle cx="365.3" cy="451.1" r="2.6"/><circle cx="363.4" cy="410.4" r="2.6"/><circle cx="354.9" cy="449" r="2.6"/><circle cx="360" cy="440.6" r="2.6"/><circle cx="354.8" cy="447.7" r="2.6"/><circle cx="356.7" cy="425.4" r="2.6"/><circle cx="359.8" cy="438" r="2.6"/><circle cx="361.7" cy="438.1" r="2.6"/><circle cx="360.7" cy="402.5" r="2.6"/><circle cx="358.6" cy="399.8" r="2.6"/><circle cx="360.2" cy="425.9" r="2.6"/><circle cx="355.3" cy="445.5" r="2.6"/><circle cx="360.8" cy="450.1" r="2.6"/><circle cx="366.3" cy="441.3" r="2.6"/><circle cx="357.7" cy="435.6" r="2.6"/><circle cx="355.4" cy="428.8" r="2.6"/><circle cx="355.5" cy="430.9" r="2.6"/><circle cx="366.9" cy="428.6" r="2.6"/><circle cx="358" cy="400.3" r="2.6"/><circle cx="356.5" cy="444" r="2.6"/><circle cx="364.6" cy="440.9" r="2.6"/><circle cx="364.5" cy="442" r="2.6"/><circle cx="356.1" cy="441.2" r="2.6"/><circle cx="377.4" cy="451.4" r="2.6"/><circle cx="372.2" cy="439.1" r="2.6"/><circle cx="362.1" cy="446.1" r="2.6"/><circle cx="360.8" cy="447.2" r="2.6"/><circle cx="369.2" cy="421.6" r="2.6"/><circle cx="367.7" cy="404.8" r="2.6"/><circle cx="369.5" cy="443.9" r="2.6"/><circle cx="359.3" cy="431.2" r="2.6"/><circle cx="363" cy="451.5" r="2.6"/><circle cx="357.1" cy="424.8" r="2.6"/><circle cx="361.9" cy="434" r="2.6"/><circle cx="364.2" cy="437.9" r="2.6"/><circle cx="366.1" cy="442.2" r="2.6"/><circle cx="366.8" cy="427.2" r="2.6"/><circle cx="364.3" cy="433" r="2.6"/><circle cx="362.2" cy="429.5" r="2.6"/><circle cx="360.8" cy="436.2" r="2.6"/><circle cx="367.5" cy="446.6" r="2.6"/><circle cx="360.6" cy="404.8" r="2.6"/><circle cx="359.7" cy="439" r="2.6"/><circle cx="356.6" cy="438.9" r="2.6"/><circle cx="366.8" cy="446.6" r="2.6"/><circle cx="369.2" cy="436.8" r="2.6"/><circle cx="372.8" cy="437" r="2.6"/><circle cx="373.1" cy="446.2" r="2.6"/><circle cx="357.6" cy="447.8" r="2.6"/><circle cx="359.4" cy="431.6" r="2.6"/><circle cx="364.7" cy="417.2" r="2.6"/><circle cx="370.7" cy="450.7" r="2.6"/><circle cx="367.2" cy="442.2" r="2.6"/><circle cx="363.8" cy="449" r="2.6"/><circle cx="371" cy="448.3" r="2.6"/><circle cx="354.4" cy="442.9" r="2.6"/><circle cx="359.2" cy="419.8" r="2.6"/><circle cx="365.6" cy="449.7" r="2.6"/><circle cx="355.9" cy="441.7" r="2.6"/><circle cx="370.3" cy="439.9" r="2.6"/><circle cx="354.7" cy="438.8" r="2.6"/><circle cx="359.6" cy="448.4" r="2.6"/><circle cx="371" cy="429.3" r="2.6"/><circle cx="362.8" cy="446.2" r="2.6"/><circle cx="363.7" cy="442.5" r="2.6"/><circle cx="359.8" cy="451.2" r="2.6"/><circle cx="362.9" cy="447.1" r="2.6"/><circle cx="357.6" cy="447.7" r="2.6"/><circle cx="355.9" cy="426.8" r="2.6"/><circle cx="355.8" cy="446.1" r="2.6"/><circle cx="363.4" cy="416.5" r="2.6"/><circle cx="366.7" cy="413.3" r="2.6"/><circle cx="362.4" cy="447.1" r="2.6"/><circle cx="370.6" cy="432.7" r="2.6"/><circle cx="362.9" cy="442.5" r="2.6"/><circle cx="365.1" cy="442.6" r="2.6"/><circle cx="357.4" cy="427.2" r="2.6"/><circle cx="357.4" cy="431.1" r="2.6"/><circle cx="364.6" cy="419" r="2.6"/><circle cx="360.5" cy="434.7" r="2.6"/><circle cx="362.6" cy="401" r="2.6"/><circle cx="364.3" cy="427.2" r="2.6"/><circle cx="380.1" cy="442.4" r="2.6"/><circle cx="359.1" cy="450.1" r="2.6"/><circle cx="362.4" cy="424" r="2.6"/><circle cx="363.6" cy="438.1" r="2.6"/><circle cx="363.1" cy="406.3" r="2.6"/><circle cx="354.5" cy="434" r="2.6"/><circle cx="356.7" cy="439.4" r="2.6"/><circle cx="373.6" cy="441.1" r="2.6"/><circle cx="359" cy="439" r="2.6"/><circle cx="363" cy="438.3" r="2.6"/><circle cx="361.5" cy="437.5" r="2.6"/><circle cx="361.4" cy="425.2" r="2.6"/><circle cx="368.1" cy="441.5" r="2.6"/><circle cx="369.5" cy="435.8" r="2.6"/><circle cx="358.3" cy="422.9" r="2.6"/><circle cx="355" cy="446.7" r="2.6"/><circle cx="359.5" cy="450" r="2.6"/><circle cx="356.4" cy="449.7" r="2.6"/><circle cx="358.8" cy="424.2" r="2.6"/><circle cx="357.6" cy="429.2" r="2.6"/><circle cx="355.8" cy="427.3" r="2.6"/><circle cx="357.8" cy="428.6" r="2.6"/><circle cx="354.8" cy="441" r="2.6"/><circle cx="378.1" cy="411.4" r="2.6"/><circle cx="372.8" cy="448.5" r="2.6"/><circle cx="360.7" cy="451.4" r="2.6"/><circle cx="365.2" cy="435.8" r="2.6"/><circle cx="355.1" cy="445.8" r="2.6"/><circle cx="363.3" cy="413.3" r="2.6"/><circle cx="366" cy="440.9" r="2.6"/><circle cx="358.6" cy="450.5" r="2.6"/><circle cx="361.4" cy="419.9" r="2.6"/><circle cx="373.9" cy="413.6" r="2.6"/><circle cx="354.7" cy="450.5" r="2.6"/><circle cx="361.3" cy="436.5" r="2.6"/><circle cx="362.5" cy="438.4" r="2.6"/><circle cx="362.6" cy="434.4" r="2.6"/><circle cx="366.8" cy="447.2" r="2.6"/><circle cx="368.3" cy="402.4" r="2.6"/><circle cx="357.5" cy="444.2" r="2.6"/><circle cx="355.6" cy="436.7" r="2.6"/><circle cx="365.6" cy="443.9" r="2.6"/><circle cx="361.6" cy="445.3" r="2.6"/><circle cx="356.8" cy="427.3" r="2.6"/><circle cx="362.6" cy="419.9" r="2.6"/><circle cx="363.9" cy="398.2" r="2.6"/><circle cx="360.6" cy="440" r="2.6"/><circle cx="357" cy="440.4" r="2.6"/><circle cx="356.9" cy="431.6" r="2.6"/><circle cx="374" cy="450.1" r="2.6"/><circle cx="360.6" cy="433.8" r="2.6"/><circle cx="364.3" cy="435.5" r="2.6"/><circle cx="375.6" cy="420" r="2.6"/><circle cx="369.9" cy="429.6" r="2.6"/><circle cx="354.6" cy="444.7" r="2.6"/><circle cx="359.2" cy="448.4" r="2.6"/><circle cx="373.5" cy="441.8" r="2.6"/><circle cx="358.1" cy="421.6" r="2.6"/><circle cx="357.1" cy="427.2" r="2.6"/><circle cx="358.7" cy="405.4" r="2.6"/><circle cx="361.1" cy="428.9" r="2.6"/><circle cx="356.4" cy="428.3" r="2.6"/><circle cx="357.3" cy="450.7" r="2.6"/><circle cx="358.8" cy="446.4" r="2.6"/><circle cx="361.8" cy="434.5" r="2.6"/><circle cx="359.9" cy="448.3" r="2.6"/><circle cx="366.4" cy="404.1" r="2.6"/><circle cx="363.3" cy="448.3" r="2.6"/><circle cx="372.1" cy="420.2" r="2.6"/><circle cx="364.6" cy="450.9" r="2.6"/><circle cx="355.7" cy="442.2" r="2.6"/><circle cx="359.1" cy="436.1" r="2.6"/><circle cx="360.1" cy="449.6" r="2.6"/><circle cx="370.7" cy="440.6" r="2.6"/><circle cx="358.1" cy="429.3" r="2.6"/><circle cx="369" cy="449" r="2.6"/><circle cx="367.2" cy="401.4" r="2.6"/><circle cx="378.9" cy="436.9" r="2.6"/><circle cx="355" cy="444.8" r="2.6"/><circle cx="364.3" cy="438.1" r="2.6"/><circle cx="368.5" cy="399.7" r="2.6"/><circle cx="364.3" cy="412.6" r="2.6"/><circle cx="361" cy="433.7" r="2.6"/><circle cx="358.7" cy="448.6" r="2.6"/><circle cx="355.5" cy="445.3" r="2.6"/><circle cx="370" cy="446.5" r="2.6"/><circle cx="366.8" cy="401.1" r="2.6"/><circle cx="368.1" cy="433.1" r="2.6"/><circle cx="357.2" cy="395.1" r="2.6"/><circle cx="356.2" cy="443.6" r="2.6"/><circle cx="357.2" cy="439.9" r="2.6"/><circle cx="354.7" cy="447.7" r="2.6"/><circle cx="371.4" cy="421.3" r="2.6"/><circle cx="355.6" cy="435.5" r="2.6"/><circle cx="358.1" cy="449.6" r="2.6"/><circle cx="371.7" cy="433.9" r="2.6"/><circle cx="360.2" cy="439.4" r="2.6"/><circle cx="366.5" cy="449.5" r="2.6"/><circle cx="357" cy="431.2" r="2.6"/><circle cx="363.6" cy="443" r="2.6"/><circle cx="364.4" cy="442.4" r="2.6"/><circle cx="357.6" cy="447.9" r="2.6"/><circle cx="359.7" cy="396.1" r="2.6"/><circle cx="364.1" cy="411.2" r="2.6"/><circle cx="371.7" cy="438.8" r="2.6"/><circle cx="357.1" cy="410.3" r="2.6"/><circle cx="358.1" cy="449.1" r="2.6"/><circle cx="367.2" cy="449.1" r="2.6"/><circle cx="354.7" cy="439.2" r="2.6"/><circle cx="381.9" cy="445.5" r="2.6"/><circle cx="400.5" cy="448" r="2.6"/><circle cx="383.7" cy="447.5" r="2.6"/><circle cx="384" cy="450.5" r="2.6"/><circle cx="386" cy="435.5" r="2.6"/><circle cx="400.2" cy="451.3" r="2.6"/><circle cx="424.2" cy="446.3" r="2.6"/><circle cx="415.9" cy="444.9" r="2.6"/><circle cx="410.4" cy="449.5" r="2.6"/><circle cx="413.7" cy="450.2" r="2.6"/><circle cx="387.3" cy="451.3" r="2.6"/><circle cx="394.4" cy="445.8" r="2.6"/><circle cx="388.9" cy="450.1" r="2.6"/><circle cx="404.4" cy="449.4" r="2.6"/><circle cx="405.3" cy="443.2" r="2.6"/><circle cx="376.4" cy="449.3" r="2.6"/><circle cx="405.5" cy="451" r="2.6"/><circle cx="406.6" cy="442.3" r="2.6"/><circle cx="417.2" cy="448.3" r="2.6"/><circle cx="417" cy="446.7" r="2.6"/><circle cx="423" cy="451.4" r="2.6"/><circle cx="424" cy="447.4" r="2.6"/><circle cx="395.1" cy="450.8" r="2.6"/><circle cx="386.3" cy="441.2" r="2.6"/><circle cx="409.9" cy="450.2" r="2.6"/><circle cx="391.7" cy="450.3" r="2.6"/><circle cx="383.8" cy="449.6" r="2.6"/><circle cx="391" cy="435.5" r="2.6"/><circle cx="416" cy="446.4" r="2.6"/><circle cx="400" cy="439.7" r="2.6"/><circle cx="422.3" cy="447.3" r="2.6"/><circle cx="383.8" cy="443.9" r="2.6"/><circle cx="418.9" cy="450.8" r="2.6"/><circle cx="412" cy="448.2" r="2.6"/><circle cx="381.8" cy="438.9" r="2.6"/><circle cx="413.5" cy="450.4" r="2.6"/><circle cx="418" cy="444.4" r="2.6"/><circle cx="413.4" cy="444.1" r="2.6"/><circle cx="405.1" cy="447.1" r="2.6"/><circle cx="417.8" cy="444.6" r="2.6"/><circle cx="389.2" cy="442.7" r="2.6"/><circle cx="424.4" cy="450.6" r="2.6"/><circle cx="425.6" cy="450.1" r="2.6"/><circle cx="418.5" cy="449.5" r="2.6"/><circle cx="383.8" cy="446.7" r="2.6"/><circle cx="385.9" cy="446.2" r="2.6"/><circle cx="422.3" cy="446.8" r="2.6"/><circle cx="394.3" cy="439.6" r="2.6"/><circle cx="416.1" cy="443.6" r="2.6"/><circle cx="417.8" cy="447.5" r="2.6"/><circle cx="377.7" cy="443.3" r="2.6"/><circle cx="418.4" cy="448.3" r="2.6"/><circle cx="405.3" cy="442.2" r="2.6"/><circle cx="373.2" cy="446.3" r="2.6"/><circle cx="373.9" cy="450.6" r="2.6"/><circle cx="417.1" cy="447.3" r="2.6"/><circle cx="405.8" cy="446.7" r="2.6"/><circle cx="391.2" cy="449.6" r="2.6"/><circle cx="392.2" cy="437" r="2.6"/><circle cx="406.6" cy="448.8" r="2.6"/><circle cx="377.8" cy="449.1" r="2.6"/><circle cx="411.1" cy="447" r="2.6"/><circle cx="408.9" cy="450.2" r="2.6"/><circle cx="410.1" cy="451.2" r="2.6"/><circle cx="417.7" cy="449.9" r="2.6"/><circle cx="387.7" cy="445.4" r="2.6"/><circle cx="385.2" cy="434.3" r="2.6"/><circle cx="406.1" cy="447" r="2.6"/><circle cx="400.1" cy="444.8" r="2.6"/><circle cx="426.7" cy="449.9" r="2.6"/><circle cx="418.1" cy="450.1" r="2.6"/><circle cx="401.6" cy="451.5" r="2.6"/><circle cx="382.5" cy="443.1" r="2.6"/><circle cx="416.9" cy="449.3" r="2.6"/><circle cx="392.1" cy="450.7" r="2.6"/><circle cx="403" cy="445.1" r="2.6"/><circle cx="393.5" cy="437.9" r="2.6"/><circle cx="409.2" cy="450.9" r="2.6"/><circle cx="406.9" cy="446.9" r="2.6"/><circle cx="425" cy="448" r="2.6"/><circle cx="408.9" cy="443.7" r="2.6"/><circle cx="393.4" cy="445.8" r="2.6"/><circle cx="409.7" cy="446.4" r="2.6"/><circle cx="392.7" cy="450.6" r="2.6"/><circle cx="418.3" cy="447.2" r="2.6"/><circle cx="397.3" cy="440.7" r="2.6"/><circle cx="421.4" cy="446.4" r="2.6"/><circle cx="374.9" cy="448.5" r="2.6"/><circle cx="380.4" cy="434.4" r="2.6"/><circle cx="380.9" cy="444.6" r="2.6"/><circle cx="404.3" cy="451.2" r="2.6"/><circle cx="394.3" cy="440.8" r="2.6"/><circle cx="407.8" cy="448.9" r="2.6"/><circle cx="414.4" cy="448.8" r="2.6"/><circle cx="402.6" cy="447.3" r="2.6"/><circle cx="426.1" cy="447.2" r="2.6"/><circle cx="409.7" cy="447.8" r="2.6"/><circle cx="425.3" cy="447.6" r="2.6"/><circle cx="388.1" cy="450.1" r="2.6"/><circle cx="404.2" cy="442" r="2.6"/><circle cx="391.9" cy="450.3" r="2.6"/><circle cx="401" cy="449.4" r="2.6"/><circle cx="413.1" cy="450.1" r="2.6"/><circle cx="389.9" cy="451.1" r="2.6"/><circle cx="389.2" cy="447.8" r="2.6"/><circle cx="425.5" cy="450.5" r="2.6"/><circle cx="389.8" cy="448.3" r="2.6"/><circle cx="390.4" cy="447" r="2.6"/><circle cx="378.9" cy="449.2" r="2.6"/><circle cx="394.4" cy="447.7" r="2.6"/></g>
<path d="M211 449.3H335.6L337 455.5H214Z M343.6 449.3H392L400 455.5H342.2Z" fill="#B4B4B4"/>
</g>
<rect x="104.5" y="101.7" width="423.8" height="378.4" fill="none" stroke="#333" stroke-width="1.6"/>
<line x1="97" y1="183.5" x2="104.5" y2="183.5" stroke="#333" stroke-width="1.6"/>
<text x="85.6" y="191.8" font-size="24" text-anchor="end" textLength="25.6" lengthAdjust="spacingAndGlyphs">15</text>
<line x1="97" y1="281" x2="104.5" y2="281" stroke="#333" stroke-width="1.6"/>
<text x="85.6" y="289.3" font-size="24" text-anchor="end" textLength="25.6" lengthAdjust="spacingAndGlyphs">10</text>
<line x1="97" y1="379" x2="104.5" y2="379" stroke="#333" stroke-width="1.6"/>
<text x="85.6" y="387.3" font-size="24" text-anchor="end">5</text>
<line x1="97" y1="476.9" x2="104.5" y2="476.9" stroke="#333" stroke-width="1.6"/>
<text x="85.6" y="485.2" font-size="24" text-anchor="end">0</text>
<line x1="132.7" y1="480.1" x2="132.7" y2="487.3" stroke="#333" stroke-width="1.6"/>
<text x="131.5" y="513.6" font-size="24" text-anchor="middle">−8</text>
<line x1="235.8" y1="480.1" x2="235.8" y2="487.3" stroke="#333" stroke-width="1.6"/>
<text x="234.6" y="513.6" font-size="24" text-anchor="middle">−4</text>
<line x1="339.4" y1="480.1" x2="339.4" y2="487.3" stroke="#333" stroke-width="1.6"/>
<text x="339.4" y="513.6" font-size="24" text-anchor="middle">0</text>
<line x1="442.5" y1="480.1" x2="442.5" y2="487.3" stroke="#333" stroke-width="1.6"/>
<text x="442.5" y="513.6" font-size="24" text-anchor="middle">4</text>
<text x="212.6" y="562" font-size="28" textLength="220.5" lengthAdjust="spacingAndGlyphs">log<tspan font-size="18" dy="7">2</tspan><tspan dy="-7">(fold change)</tspan></text>
<text transform="translate(35.2 296) rotate(-90)" font-size="28" text-anchor="middle" textLength="183" lengthAdjust="spacingAndGlyphs">−log<tspan font-size="18" dy="7">10</tspan><tspan dy="-7">(</tspan><tspan font-style="italic">P</tspan> value)</text>
<text x="154.7" y="213.4" font-size="27.5" textLength="111.5" lengthAdjust="spacingAndGlyphs" fill="#5B5BF0"><tspan font-style="italic">n</tspan> = 1,040</text>
<text x="380.3" y="212.2" font-size="27.5" textLength="83.4" lengthAdjust="spacingAndGlyphs" fill="#F0641A"><tspan font-style="italic">n</tspan> = 761</text>
<text x="1444.7" y="50.7" font-size="28" text-anchor="middle" textLength="296.5" lengthAdjust="spacingAndGlyphs">CDHFD-I versus CDHFD</text>
<line x1="1178.4" y1="95.4" x2="1191.9" y2="95.4" stroke="#333" stroke-width="1.3"/>
<text x="1166" y="104" font-size="28" text-anchor="end" textLength="388" lengthAdjust="spacingAndGlyphs" fill="#5B5BF0">Triacylglyceride (TG) synthesis</text>
<line x1="1178.4" y1="128.6" x2="1191.9" y2="128.6" stroke="#333" stroke-width="1.3"/>
<text x="1166" y="137.2" font-size="28" text-anchor="end" textLength="460" lengthAdjust="spacingAndGlyphs">Toll-like receptor signalling pathway</text>
<line x1="1178.4" y1="161.8" x2="1191.9" y2="161.8" stroke="#333" stroke-width="1.3"/>
<text x="1166" y="170.4" font-size="28" text-anchor="end" textLength="258" lengthAdjust="spacingAndGlyphs">Steroid biosynthesis</text>
<line x1="1178.4" y1="194.9" x2="1191.9" y2="194.9" stroke="#333" stroke-width="1.3"/>
<text x="1166" y="203.5" font-size="28" text-anchor="end" textLength="128" lengthAdjust="spacingAndGlyphs">Ribosome</text>
<line x1="1178.4" y1="228.1" x2="1191.9" y2="228.1" stroke="#333" stroke-width="1.3"/>
<text x="1166" y="236.7" font-size="28" text-anchor="end" textLength="459" lengthAdjust="spacingAndGlyphs">Regulation of lipolysis in adipocytes</text>
<line x1="1178.4" y1="261.3" x2="1191.9" y2="261.3" stroke="#333" stroke-width="1.3"/>
<text x="1166" y="269.9" font-size="28" text-anchor="end" textLength="486.7" lengthAdjust="spacingAndGlyphs">Phosphatidylinositol signalling system</text>
<line x1="1178.4" y1="294.5" x2="1191.9" y2="294.5" stroke="#333" stroke-width="1.3"/>
<text x="1166" y="303.1" font-size="28" text-anchor="end" textLength="401" lengthAdjust="spacingAndGlyphs">One–Carbon (1C) pool by folate</text>
<line x1="1178.4" y1="327.7" x2="1191.9" y2="327.7" stroke="#333" stroke-width="1.3"/>
<text x="1166" y="336.3" font-size="28" text-anchor="end" textLength="473" lengthAdjust="spacingAndGlyphs">NOD like receptor signalling pathway</text>
<line x1="1178.4" y1="360.8" x2="1191.9" y2="360.8" stroke="#333" stroke-width="1.3"/>
<text x="1166" y="369.4" font-size="28" text-anchor="end" textLength="319" lengthAdjust="spacingAndGlyphs" fill="#5B5BF0">NF-κB signalling pathway</text>
<line x1="1178.4" y1="394" x2="1191.9" y2="394" stroke="#333" stroke-width="1.3"/>
<text x="1166" y="402.6" font-size="28" text-anchor="end" textLength="335" lengthAdjust="spacingAndGlyphs">Lipid metabolism pathway</text>
<line x1="1178.4" y1="427.2" x2="1191.9" y2="427.2" stroke="#333" stroke-width="1.3"/>
<text x="1166" y="435.8" font-size="28" text-anchor="end" textLength="290" lengthAdjust="spacingAndGlyphs">Fatty acid biosynthesis</text>
<line x1="1178.4" y1="460.4" x2="1191.9" y2="460.4" stroke="#333" stroke-width="1.3"/>
<text x="1166" y="469" font-size="28" text-anchor="end" textLength="490" lengthAdjust="spacingAndGlyphs">Cytokine cytokine receptor interaction</text>
<line x1="1178.4" y1="493.6" x2="1191.9" y2="493.6" stroke="#333" stroke-width="1.3"/>
<text x="1166" y="502.2" font-size="28" text-anchor="end" textLength="391" lengthAdjust="spacingAndGlyphs" fill="#5B5BF0">Chemokine signalling pathway</text>
<line x1="1178.4" y1="526.7" x2="1191.9" y2="526.7" stroke="#333" stroke-width="1.3"/>
<text x="1166" y="535.3" font-size="28" text-anchor="end" textLength="470" lengthAdjust="spacingAndGlyphs">Antigen processing and presentation</text>
<rect x="1191.9" y="67.9" width="505.2" height="481.1" fill="none" stroke="#444" stroke-width="1.3"/>
<line x1="1489.3" y1="68" x2="1489.3" y2="549" stroke="#333" stroke-width="1.8" stroke-dasharray="14.5 5.8"/>
<circle cx="1398" cy="95.4" r="17.2" fill="#6C72FC" stroke="#000" stroke-width="2.2"/>
<circle cx="1323.2" cy="129.1" r="13.8" fill="#6C72FC" stroke="#000" stroke-width="2.2"/>
<circle cx="1288" cy="162" r="17.4" fill="#6C72FC" stroke="#000" stroke-width="2.2"/>
<circle cx="1647.3" cy="194.6" r="15.3" fill="#FF3A22" stroke="#000" stroke-width="2.2"/>
<circle cx="1268.9" cy="228.3" r="17.6" fill="#6C72FC" stroke="#000" stroke-width="2.2"/>
<circle cx="1372.6" cy="262" r="12.2" fill="#6C72FC" stroke="#000" stroke-width="2.2"/>
<circle cx="1545.9" cy="294.6" r="3.4" fill="#FF3A22" stroke="#000" stroke-width="1.6"/>
<circle cx="1381.2" cy="327" r="12" fill="#6C72FC" stroke="#000" stroke-width="2.2"/>
<circle cx="1299.2" cy="361" r="15.5" fill="#6C72FC" stroke="#000" stroke-width="2.2"/>
<circle cx="1318.7" cy="394.3" r="15.5" fill="#6C72FC" stroke="#000" stroke-width="2.2"/>
<circle cx="1364.7" cy="427.6" r="18.5" fill="#6C72FC" stroke="#000" stroke-width="2.2"/>
<circle cx="1386" cy="460.6" r="12.2" fill="#6C72FC" stroke="#000" stroke-width="2.2"/>
<circle cx="1336.7" cy="493.5" r="13.7" fill="#6C72FC" stroke="#000" stroke-width="2.2"/>
<circle cx="1214.6" cy="527.6" r="18.5" fill="#6C72FC" stroke="#000" stroke-width="2.2"/>
<line x1="1199.3" y1="549" x2="1199.3" y2="559" stroke="#333" stroke-width="1.3"/>
<text x="1198.8" y="588.3" font-size="22" text-anchor="middle" textLength="41.5" lengthAdjust="spacingAndGlyphs">−1.8</text>
<line x1="1300.3" y1="549" x2="1300.3" y2="559" stroke="#333" stroke-width="1.3"/>
<text x="1299.8" y="588.3" font-size="22" text-anchor="middle" textLength="41.5" lengthAdjust="spacingAndGlyphs">−1.6</text>
<line x1="1402.2" y1="549" x2="1402.2" y2="559" stroke="#333" stroke-width="1.3"/>
<text x="1401.7" y="588.3" font-size="22" text-anchor="middle" textLength="41.5" lengthAdjust="spacingAndGlyphs">−1.4</text>
<line x1="1489" y1="549" x2="1489" y2="559" stroke="#333" stroke-width="1.3"/>
<text x="1489" y="588.3" font-size="22" text-anchor="middle">0</text>
<line x1="1528.7" y1="549" x2="1528.7" y2="559" stroke="#333" stroke-width="1.3"/>
<text x="1528.7" y="588.3" font-size="22" text-anchor="middle" textLength="27.8" lengthAdjust="spacingAndGlyphs">1.3</text>
<line x1="1596.8" y1="549" x2="1596.8" y2="559" stroke="#333" stroke-width="1.3"/>
<text x="1596.8" y="588.3" font-size="22" text-anchor="middle" textLength="27.8" lengthAdjust="spacingAndGlyphs">1.5</text>
<line x1="1664.9" y1="549" x2="1664.9" y2="559" stroke="#333" stroke-width="1.3"/>
<text x="1664.9" y="588.3" font-size="22" text-anchor="middle" textLength="27.8" lengthAdjust="spacingAndGlyphs">1.7</text>
<text x="1444.8" y="631.2" font-size="28" text-anchor="middle" textLength="376" lengthAdjust="spacingAndGlyphs">Normalized enrichment score</text>
<path d="M133.7 707V1051.6" stroke="#333" stroke-width="2.5" fill="none"/>
<path d="M123.5 1051.6H819.4" stroke="#333" stroke-width="2.5" fill="none"/>
<line x1="123.5" y1="708.2" x2="133.7" y2="708.2" stroke="#333" stroke-width="2.5"/>
<line x1="123.5" y1="794.1" x2="133.7" y2="794.1" stroke="#333" stroke-width="2.5"/>
<line x1="123.5" y1="880" x2="133.7" y2="880" stroke="#333" stroke-width="2.5"/>
<line x1="123.5" y1="965.7" x2="133.7" y2="965.7" stroke="#333" stroke-width="2.5"/>
<line x1="241" y1="1051.6" x2="241" y2="1061.2" stroke="#333" stroke-width="2.5"/>
<line x1="475.2" y1="1051.6" x2="475.2" y2="1061.2" stroke="#333" stroke-width="2.5"/>
<line x1="709.6" y1="1051.6" x2="709.6" y2="1061.2" stroke="#333" stroke-width="2.5"/>
<g>
<line x1="149.5" y1="1031.9" x2="182.5" y2="1031.9" stroke="#000" stroke-width="3.2"/>
<path d="M166 1028.4V1036M158 1028.4H174M158 1036H174" stroke="#000000" stroke-width="3.2" fill="none"/>
<circle cx="151.3" cy="1022" r="5.5" fill="#000000"/>
<circle cx="182.8" cy="1024.3" r="5.5" fill="#000000"/>
<circle cx="176.7" cy="1026.4" r="5.5" fill="#000000"/>
<circle cx="171.2" cy="1028.4" r="5.5" fill="#000000"/>
<circle cx="164.3" cy="1029.8" r="5.5" fill="#000000"/>
<circle cx="157.4" cy="1031.2" r="5.5" fill="#000000"/>
<circle cx="154.7" cy="1035.3" r="5.5" fill="#000000"/>
<circle cx="161.6" cy="1036.7" r="5.5" fill="#000000"/>
<circle cx="168.4" cy="1035.3" r="5.5" fill="#000000"/>
<circle cx="175.3" cy="1032.5" r="5.5" fill="#000000"/>
<circle cx="158.8" cy="1040.8" r="5.5" fill="#000000"/>
<circle cx="165.7" cy="1042.1" r="5.5" fill="#000000"/>
<circle cx="171.2" cy="1039.4" r="5.5" fill="#000000"/>
<circle cx="164.3" cy="1044.9" r="5.5" fill="#000000"/>
<line x1="200" y1="1003.4" x2="233" y2="1003.4" stroke="#000" stroke-width="3.2"/>
<path d="M216.5 973.5V1036.7M208.5 973.5H224.5M208.5 1036.7H224.5" stroke="#4C46FF" stroke-width="3.2" fill="none"/>
<rect x="218.9" y="943.3" width="11" height="11" fill="#4C46FF"/>
<rect x="203.4" y="951.3" width="11" height="11" fill="#4C46FF"/>
<rect x="203.4" y="969.4" width="11" height="11" fill="#4C46FF"/>
<rect x="218.5" y="970.1" width="11" height="11" fill="#4C46FF"/>
<rect x="211" y="994.1" width="11" height="11" fill="#4C46FF"/>
<rect x="220.6" y="1002.3" width="11" height="11" fill="#4C46FF"/>
<rect x="201.4" y="1007.8" width="11" height="11" fill="#4C46FF"/>
<rect x="212.3" y="1010.6" width="11" height="11" fill="#4C46FF"/>
<rect x="206.8" y="1016.1" width="11" height="11" fill="#4C46FF"/>
<rect x="217.8" y="1013.3" width="11" height="11" fill="#4C46FF"/>
<rect x="201.4" y="1031.2" width="11" height="11" fill="#4C46FF"/>
<rect x="211" y="1033.9" width="11" height="11" fill="#4C46FF"/>
<rect x="220.6" y="1032.5" width="11" height="11" fill="#4C46FF"/>
<line x1="250.3" y1="1026" x2="283.3" y2="1026" stroke="#000" stroke-width="3.2"/>
<path d="M266.8 999.9V1051.6M258.8 999.9H274.8M258.8 1051.6H274.8" stroke="#E85A05" stroke-width="3.2" fill="none"/>
<path d="M261.2 961.5L272.4 961.5L266.8 951.3Z" fill="#E85A05"/>
<path d="M261.2 984.4L272.4 984.4L266.8 974.2Z" fill="#E85A05"/>
<path d="M252 1027.3L263.2 1027.3L257.6 1017.1Z" fill="#E85A05"/>
<path d="M270.6 1026L281.8 1026L276.2 1015.8Z" fill="#E85A05"/>
<path d="M256.2 1034.9L267.4 1034.9L261.8 1024.7Z" fill="#E85A05"/>
<path d="M265.8 1034.9L277 1034.9L271.4 1024.7Z" fill="#E85A05"/>
<path d="M261.2 1039L272.4 1039L266.8 1028.8Z" fill="#E85A05"/>
<path d="M250.7 1044.5L261.9 1044.5L256.3 1034.3Z" fill="#E85A05"/>
<path d="M271.9 1043.1L283.1 1043.1L277.5 1032.9Z" fill="#E85A05"/>
<path d="M256.2 1047.2L267.4 1047.2L261.8 1037Z" fill="#E85A05"/>
<path d="M265.8 1047.2L277 1047.2L271.4 1037Z" fill="#E85A05"/>
<path d="M261.2 1052.7L272.4 1052.7L266.8 1042.5Z" fill="#E85A05"/>
<path d="M254.8 1054.1L266 1054.1L260.4 1043.9Z" fill="#E85A05"/>
<path d="M267.1 1054.1L278.3 1054.1L272.7 1043.9Z" fill="#E85A05"/>
<line x1="300.6" y1="1030.2" x2="333.6" y2="1030.2" stroke="#000" stroke-width="3.2"/>
<path d="M317.1 1014.7V1045.6M309.1 1014.7H325.1M309.1 1045.6H325.1" stroke="#0BB46F" stroke-width="3.2" fill="none"/>
<path d="M311.5 980.1L322.7 980.1L317.1 990.3Z" fill="#0BB46F"/>
<path d="M319.3 1004.8L330.5 1004.8L324.9 1015Z" fill="#0BB46F"/>
<path d="M304.2 1007.5L315.4 1007.5L309.8 1017.7Z" fill="#0BB46F"/>
<path d="M312.4 1011L323.6 1011L318 1021.2Z" fill="#0BB46F"/>
<path d="M320 1015.1L331.2 1015.1L325.6 1025.3Z" fill="#0BB46F"/>
<path d="M302.8 1018.5L314 1018.5L308.4 1028.7Z" fill="#0BB46F"/>
<path d="M308.3 1023.3L319.5 1023.3L313.9 1033.5Z" fill="#0BB46F"/>
<path d="M316.5 1023.3L327.7 1023.3L322.1 1033.5Z" fill="#0BB46F"/>
<path d="M323.4 1026.1L334.6 1026.1L329 1036.3Z" fill="#0BB46F"/>
<path d="M301.4 1028.8L312.6 1028.8L307 1039Z" fill="#0BB46F"/>
<path d="M311.1 1031.6L322.3 1031.6L316.7 1041.8Z" fill="#0BB46F"/>
<path d="M319.3 1032.9L330.5 1032.9L324.9 1043.1Z" fill="#0BB46F"/>
<path d="M302.8 1037L314 1037L308.4 1047.2Z" fill="#0BB46F"/>
<path d="M309.7 1041.2L320.9 1041.2L315.3 1051.4Z" fill="#0BB46F"/>
<path d="M316.5 1038.4L327.7 1038.4L322.1 1048.6Z" fill="#0BB46F"/>
<path d="M308.3 1046.7L319.5 1046.7L313.9 1056.9Z" fill="#0BB46F"/>
<line x1="382.9" y1="1032.9" x2="415.9" y2="1032.9" stroke="#000" stroke-width="3.2"/>
<path d="M399.4 1028.2V1038.4M391.4 1028.2H407.4M391.4 1038.4H407.4" stroke="#000000" stroke-width="3.2" fill="none"/>
<circle cx="385.1" cy="1023.3" r="5.5" fill="#000000"/>
<circle cx="415.8" cy="1024.1" r="5.5" fill="#000000"/>
<circle cx="409" cy="1028.2" r="5.5" fill="#000000"/>
<circle cx="391.1" cy="1030.2" r="5.5" fill="#000000"/>
<circle cx="398" cy="1031.5" r="5.5" fill="#000000"/>
<circle cx="404.9" cy="1032.9" r="5.5" fill="#000000"/>
<circle cx="395.3" cy="1035.7" r="5.5" fill="#000000"/>
<circle cx="402.1" cy="1037" r="5.5" fill="#000000"/>
<circle cx="392.5" cy="1038.4" r="5.5" fill="#000000"/>
<circle cx="407.6" cy="1035.7" r="5.5" fill="#000000"/>
<circle cx="399.4" cy="1041.1" r="5.5" fill="#000000"/>
<circle cx="398" cy="1044.7" r="5.5" fill="#000000"/>
<line x1="433.7" y1="1006.3" x2="466.7" y2="1006.3" stroke="#000" stroke-width="3.2"/>
<path d="M450.2 983V1029.6M442.2 983H458.2M442.2 1029.6H458.2" stroke="#4C46FF" stroke-width="3.2" fill="none"/>
<rect x="444.7" y="941.8" width="11" height="11" fill="#4C46FF"/>
<rect x="453" y="976.1" width="11" height="11" fill="#4C46FF"/>
<rect x="429.4" y="985.7" width="11" height="11" fill="#4C46FF"/>
<rect x="438.4" y="986.2" width="11" height="11" fill="#4C46FF"/>
<rect x="446.7" y="995.8" width="11" height="11" fill="#4C46FF"/>
<rect x="453.5" y="996.7" width="11" height="11" fill="#4C46FF"/>
<rect x="435.7" y="998.6" width="11" height="11" fill="#4C46FF"/>
<rect x="438.4" y="1010.9" width="11" height="11" fill="#4C46FF"/>
<rect x="453.5" y="1010.9" width="11" height="11" fill="#4C46FF"/>
<rect x="445.3" y="1013.7" width="11" height="11" fill="#4C46FF"/>
<rect x="437" y="1020" width="11" height="11" fill="#4C46FF"/>
<rect x="453.5" y="1019.2" width="11" height="11" fill="#4C46FF"/>
<rect x="445.3" y="1021.9" width="11" height="11" fill="#4C46FF"/>
<line x1="484.5" y1="1021.1" x2="517.5" y2="1021.1" stroke="#000" stroke-width="3.2"/>
<path d="M501 1001.3V1041.1M493 1001.3H509M493 1041.1H509" stroke="#E85A05" stroke-width="3.2" fill="none"/>
<path d="M486.4 985.9L497.6 985.9L492 975.7Z" fill="#E85A05"/>
<path d="M505 996.3L516.2 996.3L510.6 986.1Z" fill="#E85A05"/>
<path d="M496 998.2L507.2 998.2L501.6 988Z" fill="#E85A05"/>
<path d="M487.7 1011.9L498.9 1011.9L493.3 1001.7Z" fill="#E85A05"/>
<path d="M502.8 1020.2L514 1020.2L508.4 1010Z" fill="#E85A05"/>
<path d="M486.4 1024.3L497.6 1024.3L492 1014.1Z" fill="#E85A05"/>
<path d="M495.4 1025.7L506.6 1025.7L501 1015.5Z" fill="#E85A05"/>
<path d="M504.2 1031.1L515.4 1031.1L509.8 1020.9Z" fill="#E85A05"/>
<path d="M485 1038L496.2 1038L490.6 1027.8Z" fill="#E85A05"/>
<path d="M494.6 1039.4L505.8 1039.4L500.2 1029.2Z" fill="#E85A05"/>
<path d="M505.6 1042.1L516.8 1042.1L511.2 1031.9Z" fill="#E85A05"/>
<path d="M489.1 1044.9L500.3 1044.9L494.7 1034.7Z" fill="#E85A05"/>
<path d="M500.1 1046.2L511.3 1046.2L505.7 1036Z" fill="#E85A05"/>
<path d="M494.6 1049L505.8 1049L500.2 1038.8Z" fill="#E85A05"/>
<line x1="534.2" y1="938.8" x2="567.2" y2="938.8" stroke="#000" stroke-width="3.2"/>
<path d="M550.7 888.3V990.4M542.7 888.3H558.7M542.7 990.4H558.7" stroke="#0BB46F" stroke-width="3.2" fill="none"/>
<path d="M553.1 840.6L564.3 840.6L558.7 850.8Z" fill="#0BB46F"/>
<path d="M537.1 852.1L548.3 852.1L542.7 862.3Z" fill="#0BB46F"/>
<path d="M553.1 905.1L564.3 905.1L558.7 915.3Z" fill="#0BB46F"/>
<path d="M537.1 917.2L548.3 917.2L542.7 927.4Z" fill="#0BB46F"/>
<path d="M554.4 919.9L565.6 919.9L560 930.1Z" fill="#0BB46F"/>
<path d="M535.8 929L547 929L541.4 939.2Z" fill="#0BB46F"/>
<path d="M545.1 933.1L556.3 933.1L550.7 943.3Z" fill="#0BB46F"/>
<path d="M535.8 957.8L547 957.8L541.4 968Z" fill="#0BB46F"/>
<path d="M554.4 959.2L565.6 959.2L560 969.4Z" fill="#0BB46F"/>
<path d="M545.1 963.3L556.3 963.3L550.7 973.5Z" fill="#0BB46F"/>
<path d="M545.1 986.6L556.3 986.6L550.7 996.8Z" fill="#0BB46F"/>
<path d="M553.1 997.1L564.3 997.1L558.7 1007.3Z" fill="#0BB46F"/>
<path d="M537.1 1010L548.3 1010L542.7 1020.2Z" fill="#0BB46F"/>
<line x1="617.4" y1="1031.5" x2="650.4" y2="1031.5" stroke="#000" stroke-width="3.2"/>
<path d="M633.9 1025.5V1037.6M625.9 1025.5H641.9M625.9 1037.6H641.9" stroke="#000000" stroke-width="3.2" fill="none"/>
<circle cx="618.8" cy="1019.7" r="5.5" fill="#000000"/>
<circle cx="649.8" cy="1024.1" r="5.5" fill="#000000"/>
<circle cx="627.8" cy="1030.2" r="5.5" fill="#000000"/>
<circle cx="640.2" cy="1030.2" r="5.5" fill="#000000"/>
<circle cx="633.9" cy="1032.1" r="5.5" fill="#000000"/>
<circle cx="623.7" cy="1034.3" r="5.5" fill="#000000"/>
<circle cx="644.3" cy="1034.3" r="5.5" fill="#000000"/>
<circle cx="630.6" cy="1037" r="5.5" fill="#000000"/>
<circle cx="637.4" cy="1037.6" r="5.5" fill="#000000"/>
<circle cx="633.9" cy="1041.1" r="5.5" fill="#000000"/>
<circle cx="633.9" cy="1044.4" r="5.5" fill="#000000"/>
<line x1="668.1" y1="999.1" x2="701.1" y2="999.1" stroke="#000" stroke-width="3.2"/>
<path d="M684.6 964.3V1034.3M676.6 964.3H692.6M676.6 1034.3H692.6" stroke="#4C46FF" stroke-width="3.2" fill="none"/>
<rect x="679.1" y="910.2" width="11" height="11" fill="#4C46FF"/>
<rect x="679.1" y="939" width="11" height="11" fill="#4C46FF"/>
<rect x="670.9" y="986.2" width="11" height="11" fill="#4C46FF"/>
<rect x="687.7" y="982.9" width="11" height="11" fill="#4C46FF"/>
<rect x="679.1" y="992.5" width="11" height="11" fill="#4C46FF"/>
<rect x="671.7" y="998.6" width="11" height="11" fill="#4C46FF"/>
<rect x="686.8" y="998.6" width="11" height="11" fill="#4C46FF"/>
<rect x="670.9" y="1016.4" width="11" height="11" fill="#4C46FF"/>
<rect x="687.7" y="1016.4" width="11" height="11" fill="#4C46FF"/>
<rect x="679.1" y="1021.9" width="11" height="11" fill="#4C46FF"/>
<rect x="671.7" y="1024.7" width="11" height="11" fill="#4C46FF"/>
<rect x="686.8" y="1024.7" width="11" height="11" fill="#4C46FF"/>
<rect x="679.1" y="1027.4" width="11" height="11" fill="#4C46FF"/>
<line x1="718.4" y1="1023.3" x2="751.4" y2="1023.3" stroke="#000" stroke-width="3.2"/>
<path d="M734.9 1006.8V1039.8M726.9 1006.8H742.9M726.9 1039.8H742.9" stroke="#E85A05" stroke-width="3.2" fill="none"/>
<path d="M720.2 1005.1L731.4 1005.1L725.8 994.9Z" fill="#E85A05"/>
<path d="M738.3 1007.3L749.5 1007.3L743.9 997.1Z" fill="#E85A05"/>
<path d="M729.3 1013.3L740.5 1013.3L734.9 1003.1Z" fill="#E85A05"/>
<path d="M722.4 1020.2L733.6 1020.2L728 1010Z" fill="#E85A05"/>
<path d="M736.1 1020.2L747.3 1020.2L741.7 1010Z" fill="#E85A05"/>
<path d="M720.2 1028.4L731.4 1028.4L725.8 1018.2Z" fill="#E85A05"/>
<path d="M738.3 1028.4L749.5 1028.4L743.9 1018.2Z" fill="#E85A05"/>
<path d="M729.3 1032.5L740.5 1032.5L734.9 1022.3Z" fill="#E85A05"/>
<path d="M722.4 1038L733.6 1038L728 1027.8Z" fill="#E85A05"/>
<path d="M736.1 1038L747.3 1038L741.7 1027.8Z" fill="#E85A05"/>
<path d="M720.2 1043.5L731.4 1043.5L725.8 1033.3Z" fill="#E85A05"/>
<path d="M738.3 1043.5L749.5 1043.5L743.9 1033.3Z" fill="#E85A05"/>
<path d="M729.3 1047.6L740.5 1047.6L734.9 1037.4Z" fill="#E85A05"/>
<path d="M725.2 1051.7L736.4 1051.7L730.8 1041.5Z" fill="#E85A05"/>
<path d="M733.4 1051.7L744.6 1051.7L739 1041.5Z" fill="#E85A05"/>
<line x1="768.3" y1="1030.2" x2="801.3" y2="1030.2" stroke="#000" stroke-width="3.2"/>
<path d="M784.8 1017.8V1042.5M776.8 1017.8H792.8M776.8 1042.5H792.8" stroke="#0BB46F" stroke-width="3.2" fill="none"/>
<path d="M795.1 1000.4L806.3 1000.4L800.7 1010.6Z" fill="#0BB46F"/>
<path d="M763.6 1003.9L774.8 1003.9L769.2 1014.1Z" fill="#0BB46F"/>
<path d="M771.8 1012.2L783 1012.2L777.4 1022.4Z" fill="#0BB46F"/>
<path d="M786.9 1014.1L798.1 1014.1L792.5 1024.3Z" fill="#0BB46F"/>
<path d="M779.2 1016.8L790.4 1016.8L784.8 1027Z" fill="#0BB46F"/>
<path d="M767.7 1022.3L778.9 1022.3L773.3 1032.5Z" fill="#0BB46F"/>
<path d="M791 1022.3L802.2 1022.3L796.6 1032.5Z" fill="#0BB46F"/>
<path d="M774.6 1027.8L785.8 1027.8L780.2 1038Z" fill="#0BB46F"/>
<path d="M784.2 1027.8L795.4 1027.8L789.8 1038Z" fill="#0BB46F"/>
<path d="M779.2 1031.9L790.4 1031.9L784.8 1042.1Z" fill="#0BB46F"/>
<path d="M770.4 1034.7L781.6 1034.7L776 1044.9Z" fill="#0BB46F"/>
<path d="M788.3 1034.7L799.5 1034.7L793.9 1044.9Z" fill="#0BB46F"/>
<path d="M779.2 1038.8L790.4 1038.8L784.8 1049Z" fill="#0BB46F"/>
<path d="M777.3 1042.9L788.5 1042.9L782.9 1053.1Z" fill="#0BB46F"/>
</g>
<text x="109.4" y="715.5" font-size="23" text-anchor="end" textLength="29.2" lengthAdjust="spacingAndGlyphs">20</text>
<text x="109.4" y="801.4" font-size="23" text-anchor="end" textLength="25.3" lengthAdjust="spacingAndGlyphs">15</text>
<text x="109.4" y="887.3" font-size="23" text-anchor="end" textLength="25.3" lengthAdjust="spacingAndGlyphs">10</text>
<text x="109.4" y="973" font-size="23" text-anchor="end">5</text>
<text x="109.4" y="1058.9" font-size="23" text-anchor="end">0</text>
<text x="239.8" y="1097.8" font-size="28" text-anchor="middle" textLength="69.8" lengthAdjust="spacingAndGlyphs">CCL2</text>
<text x="475.9" y="1097.8" font-size="28" text-anchor="middle" textLength="85.2" lengthAdjust="spacingAndGlyphs">CXCL2</text>
<text x="708.5" y="1097.8" font-size="28" text-anchor="middle" textLength="98.6" lengthAdjust="spacingAndGlyphs">CXCL10</text>
<text transform="translate(24.2 880) rotate(-90)" font-size="28" text-anchor="middle" textLength="256.6" lengthAdjust="spacingAndGlyphs">Relative fold change</text>
<text transform="translate(56.4 880) rotate(-90)" font-size="28" text-anchor="middle" textLength="219.6" lengthAdjust="spacingAndGlyphs">mRNA expression</text>
<circle cx="159.5" cy="713.1" r="5.8" fill="#000000"/>
<text x="179.6" y="722.4" font-size="28" textLength="57.8" lengthAdjust="spacingAndGlyphs">NCD</text>
<rect x="153.8" y="740.6" width="11.4" height="11.4" fill="#4C46FF"/>
<text x="179.6" y="755.4" font-size="28" textLength="91.6" lengthAdjust="spacingAndGlyphs">CDHFD</text>
<path d="M153.7 784.3L165.3 784.3L159.5 773.7Z" fill="#E85A05"/>
<text x="179.6" y="787.8" font-size="28" textLength="108.1" lengthAdjust="spacingAndGlyphs">CDHFD-I</text>
<path d="M153.7 806.2L165.3 806.2L159.5 816.8Z" fill="#0BB46F"/>
<text x="179.6" y="820.7" font-size="28" textLength="121" lengthAdjust="spacingAndGlyphs">CDHFD-C</text>
<text x="140" y="928.6" font-size="23"><tspan x="140" font-style="italic" textLength="13.7" lengthAdjust="spacingAndGlyphs">P</tspan> <tspan x="159.2" textLength="11.2" lengthAdjust="spacingAndGlyphs">=</tspan> <tspan x="176.3" textLength="74.5" lengthAdjust="spacingAndGlyphs">0.0031</tspan></text>
<line x1="171" y1="937.4" x2="212.7" y2="937.4" stroke="#000" stroke-width="2.6"/>
<text x="185.9" y="892.1" font-size="23"><tspan x="185.9" font-style="italic" textLength="13.7" lengthAdjust="spacingAndGlyphs">P</tspan> <tspan x="205.1" textLength="11.2" lengthAdjust="spacingAndGlyphs">=</tspan> <tspan x="222.2" textLength="73.1" lengthAdjust="spacingAndGlyphs">0.0134</tspan></text>
<line x1="228.4" y1="898.7" x2="269.8" y2="898.7" stroke="#000" stroke-width="2.6"/>
<text x="225.1" y="855.3" font-size="23"><tspan x="225.1" font-style="italic" textLength="13.7" lengthAdjust="spacingAndGlyphs">P</tspan> <tspan x="244.3" textLength="11.2" lengthAdjust="spacingAndGlyphs">=</tspan> <tspan x="261.4" textLength="79.4" lengthAdjust="spacingAndGlyphs">0.0038</tspan></text>
<line x1="233.3" y1="862.7" x2="325.8" y2="862.7" stroke="#000" stroke-width="2.6"/>
<text x="368.4" y="928.6" font-size="23"><tspan x="368.4" font-style="italic" textLength="13.7" lengthAdjust="spacingAndGlyphs">P</tspan> <tspan x="387.6" textLength="11.2" lengthAdjust="spacingAndGlyphs">=</tspan> <tspan x="404.7" textLength="78.1" lengthAdjust="spacingAndGlyphs">0.0409</tspan></text>
<line x1="402.7" y1="936.9" x2="444.7" y2="936.9" stroke="#000" stroke-width="2.6"/>
<text x="406.1" y="888" font-size="23"><tspan x="406.1" font-style="italic" textLength="13.7" lengthAdjust="spacingAndGlyphs">P</tspan> <tspan x="425.3" textLength="11.2" lengthAdjust="spacingAndGlyphs">=</tspan> <tspan x="442.4" textLength="77.2" lengthAdjust="spacingAndGlyphs">0.0464</tspan></text>
<line x1="453" y1="897" x2="494.7" y2="897" stroke="#000" stroke-width="2.6"/>
<text x="447.8" y="831.2" font-size="23"><tspan x="447.8" font-style="italic" textLength="13.7" lengthAdjust="spacingAndGlyphs">P</tspan> <tspan x="467" textLength="11.2" lengthAdjust="spacingAndGlyphs">&lt;</tspan> <tspan x="484.1" textLength="76.1" lengthAdjust="spacingAndGlyphs">0.0001</tspan></text>
<line x1="454.9" y1="837.8" x2="547.7" y2="837.8" stroke="#000" stroke-width="2.6"/>
<text x="463.2" y="782.6" font-size="23"><tspan x="463.2" font-style="italic" textLength="13.7" lengthAdjust="spacingAndGlyphs">P</tspan> <tspan x="482.4" textLength="11.2" lengthAdjust="spacingAndGlyphs">&lt;</tspan> <tspan x="499.5" textLength="76.1" lengthAdjust="spacingAndGlyphs">0.0001</tspan></text>
<line x1="504.3" y1="793.3" x2="546" y2="793.3" stroke="#000" stroke-width="2.6"/>
<text x="592.7" y="892.9" font-size="23"><tspan x="592.7" font-style="italic" textLength="13.7" lengthAdjust="spacingAndGlyphs">P</tspan> <tspan x="611.9" textLength="11.2" lengthAdjust="spacingAndGlyphs">=</tspan> <tspan x="629" textLength="79.4" lengthAdjust="spacingAndGlyphs">0.0002</tspan></text>
<line x1="640.5" y1="901.4" x2="682.5" y2="901.4" stroke="#000" stroke-width="2.6"/>
<text x="658.9" y="855.9" font-size="23"><tspan x="658.9" font-style="italic" textLength="13.7" lengthAdjust="spacingAndGlyphs">P</tspan> <tspan x="678.1" textLength="11.2" lengthAdjust="spacingAndGlyphs">=</tspan> <tspan x="695.2" textLength="79.9" lengthAdjust="spacingAndGlyphs">0.0030</tspan></text>
<line x1="697" y1="865.5" x2="738.5" y2="865.5" stroke="#000" stroke-width="2.6"/>
<text x="681.9" y="809.2" font-size="23"><tspan x="681.9" font-style="italic" textLength="13.7" lengthAdjust="spacingAndGlyphs">P</tspan>  <tspan x="707.7" textLength="11.2" lengthAdjust="spacingAndGlyphs">&lt;</tspan> <tspan x="724.8" textLength="80.2" lengthAdjust="spacingAndGlyphs">0.0003</tspan></text>
<line x1="692.6" y1="816.3" x2="784.8" y2="816.3" stroke="#000" stroke-width="2.6"/>
<path d="M1045.5 707.7V1053" stroke="#444" stroke-width="2.6" fill="none"/>
<path d="M1035.3 1053H1731.8" stroke="#444" stroke-width="2.6" fill="none"/>
<line x1="1035.3" y1="709" x2="1045.5" y2="709" stroke="#444" stroke-width="2.6"/>
<line x1="1035.3" y1="823.5" x2="1045.5" y2="823.5" stroke="#444" stroke-width="2.6"/>
<line x1="1035.3" y1="938.2" x2="1045.5" y2="938.2" stroke="#444" stroke-width="2.6"/>
<line x1="1153.1" y1="1053" x2="1153.1" y2="1062.6" stroke="#444" stroke-width="2.6"/>
<line x1="1387" y1="1053" x2="1387" y2="1062.6" stroke="#444" stroke-width="2.6"/>
<line x1="1621.7" y1="1053" x2="1621.7" y2="1062.6" stroke="#444" stroke-width="2.6"/>
<g>
<line x1="1062.2" y1="1028" x2="1095.2" y2="1028" stroke="#000" stroke-width="3.2"/>
<path d="M1078.7 1013.7V1042M1070.7 1013.7H1086.7M1070.7 1042H1086.7" stroke="#000000" stroke-width="3.2" fill="none"/>
<circle cx="1078.7" cy="1001.9" r="5.5" fill="#000000"/>
<circle cx="1078.7" cy="1021.9" r="5.5" fill="#000000"/>
<circle cx="1071.6" cy="1028.8" r="5.5" fill="#000000"/>
<circle cx="1086.7" cy="1028.8" r="5.5" fill="#000000"/>
<circle cx="1067.4" cy="1032.9" r="5.5" fill="#000000"/>
<circle cx="1089.4" cy="1032.9" r="5.5" fill="#000000"/>
<circle cx="1075.7" cy="1035.7" r="5.5" fill="#000000"/>
<circle cx="1082.5" cy="1035.7" r="5.5" fill="#000000"/>
<circle cx="1071.6" cy="1038.4" r="5.5" fill="#000000"/>
<circle cx="1085.3" cy="1038.4" r="5.5" fill="#000000"/>
<circle cx="1078.7" cy="1039.8" r="5.5" fill="#000000"/>
<line x1="1112.1" y1="955.5" x2="1145.1" y2="955.5" stroke="#000" stroke-width="3.2"/>
<path d="M1128.6 901.2V1009.6M1120.6 901.2H1136.6M1120.6 1009.6H1136.6" stroke="#4C46FF" stroke-width="3.2" fill="none"/>
<rect x="1123.1" y="818" width="11" height="11" fill="#4C46FF"/>
<rect x="1115.5" y="883.3" width="11" height="11" fill="#4C46FF"/>
<rect x="1131.1" y="882.8" width="11" height="11" fill="#4C46FF"/>
<rect x="1115.5" y="925" width="11" height="11" fill="#4C46FF"/>
<rect x="1130.6" y="936.3" width="11" height="11" fill="#4C46FF"/>
<rect x="1123.1" y="953.3" width="11" height="11" fill="#4C46FF"/>
<rect x="1131.9" y="955.5" width="11" height="11" fill="#4C46FF"/>
<rect x="1115.5" y="967" width="11" height="11" fill="#4C46FF"/>
<rect x="1123.1" y="969.8" width="11" height="11" fill="#4C46FF"/>
<rect x="1114.1" y="978" width="11" height="11" fill="#4C46FF"/>
<rect x="1131.9" y="979.4" width="11" height="11" fill="#4C46FF"/>
<rect x="1122.3" y="980.7" width="11" height="11" fill="#4C46FF"/>
<rect x="1115.5" y="990.4" width="11" height="11" fill="#4C46FF"/>
<rect x="1131.1" y="1003.5" width="11" height="11" fill="#4C46FF"/>
<rect x="1123.1" y="1026" width="11" height="11" fill="#4C46FF"/>
<line x1="1162.7" y1="999.1" x2="1195.7" y2="999.1" stroke="#000" stroke-width="3.2"/>
<path d="M1179.2 969.2V1028.8M1171.2 969.2H1187.2M1171.2 1028.8H1187.2" stroke="#E85A05" stroke-width="3.2" fill="none"/>
<path d="M1166.1 949.3L1177.3 949.3L1171.7 939.1Z" fill="#E85A05"/>
<path d="M1181.8 959.2L1193 959.2L1187.4 949Z" fill="#E85A05"/>
<path d="M1181.2 979L1192.4 979L1186.8 968.8Z" fill="#E85A05"/>
<path d="M1166.1 992.2L1177.3 992.2L1171.7 982Z" fill="#E85A05"/>
<path d="M1182.6 1005.1L1193.8 1005.1L1188.2 994.9Z" fill="#E85A05"/>
<path d="M1164.8 1010L1176 1010L1170.4 999.8Z" fill="#E85A05"/>
<path d="M1173.6 1014.7L1184.8 1014.7L1179.2 1004.5Z" fill="#E85A05"/>
<path d="M1164.8 1027.9L1176 1027.9L1170.4 1017.7Z" fill="#E85A05"/>
<path d="M1182.6 1027.9L1193.8 1027.9L1188.2 1017.7Z" fill="#E85A05"/>
<path d="M1168.9 1033.9L1180.1 1033.9L1174.5 1023.7Z" fill="#E85A05"/>
<path d="M1178.5 1033.9L1189.7 1033.9L1184.1 1023.7Z" fill="#E85A05"/>
<path d="M1173.6 1037.5L1184.8 1037.5L1179.2 1027.3Z" fill="#E85A05"/>
<line x1="1212.3" y1="996.7" x2="1245.3" y2="996.7" stroke="#000" stroke-width="3.2"/>
<path d="M1228.8 961.5V1031.5M1220.8 961.5H1236.8M1220.8 1031.5H1236.8" stroke="#0BB46F" stroke-width="3.2" fill="none"/>
<path d="M1216.1 916.1L1227.3 916.1L1221.7 926.3Z" fill="#0BB46F"/>
<path d="M1231.5 930.4L1242.7 930.4L1237.1 940.6Z" fill="#0BB46F"/>
<path d="M1231.5 981.1L1242.7 981.1L1237.1 991.3Z" fill="#0BB46F"/>
<path d="M1215.5 986.6L1226.7 986.6L1221.1 996.8Z" fill="#0BB46F"/>
<path d="M1223.2 991.6L1234.4 991.6L1228.8 1001.8Z" fill="#0BB46F"/>
<path d="M1232.6 991.6L1243.8 991.6L1238.2 1001.8Z" fill="#0BB46F"/>
<path d="M1215.5 1001.7L1226.7 1001.7L1221.1 1011.9Z" fill="#0BB46F"/>
<path d="M1223.2 1004.5L1234.4 1004.5L1228.8 1014.7Z" fill="#0BB46F"/>
<path d="M1230.6 1002.6L1241.8 1002.6L1236.2 1012.8Z" fill="#0BB46F"/>
<path d="M1214.2 1021.8L1225.4 1021.8L1219.8 1032Z" fill="#0BB46F"/>
<path d="M1231.5 1023.1L1242.7 1023.1L1237.1 1033.3Z" fill="#0BB46F"/>
<path d="M1223.2 1031.9L1234.4 1031.9L1228.8 1042.1Z" fill="#0BB46F"/>
<line x1="1296.6" y1="1028.8" x2="1329.6" y2="1028.8" stroke="#000" stroke-width="3.2"/>
<path d="M1313.1 1020V1037.6M1305.1 1020H1321.1M1305.1 1037.6H1321.1" stroke="#000000" stroke-width="3.2" fill="none"/>
<circle cx="1304.9" cy="1015.6" r="5.5" fill="#000000"/>
<circle cx="1328.7" cy="1021.1" r="5.5" fill="#000000"/>
<circle cx="1311.7" cy="1026" r="5.5" fill="#000000"/>
<circle cx="1320" cy="1030.2" r="5.5" fill="#000000"/>
<circle cx="1306.2" cy="1031.5" r="5.5" fill="#000000"/>
<circle cx="1313.1" cy="1034.3" r="5.5" fill="#000000"/>
<circle cx="1317.2" cy="1037" r="5.5" fill="#000000"/>
<circle cx="1309" cy="1037" r="5.5" fill="#000000"/>
<line x1="1346.4" y1="988.4" x2="1379.4" y2="988.4" stroke="#000" stroke-width="3.2"/>
<path d="M1362.9 969.8V1006.8M1354.9 969.8H1370.9M1354.9 1006.8H1370.9" stroke="#4C46FF" stroke-width="3.2" fill="none"/>
<rect x="1357.4" y="919" width="11" height="11" fill="#4C46FF"/>
<rect x="1349.7" y="947.8" width="11" height="11" fill="#4C46FF"/>
<rect x="1353.2" y="960.2" width="11" height="11" fill="#4C46FF"/>
<rect x="1365.3" y="958.2" width="11" height="11" fill="#4C46FF"/>
<rect x="1365.3" y="971.1" width="11" height="11" fill="#4C46FF"/>
<rect x="1357.4" y="983.5" width="11" height="11" fill="#4C46FF"/>
<rect x="1348.3" y="990.4" width="11" height="11" fill="#4C46FF"/>
<rect x="1366.1" y="989.8" width="11" height="11" fill="#4C46FF"/>
<rect x="1357.4" y="998.6" width="11" height="11" fill="#4C46FF"/>
<rect x="1348.3" y="1009" width="11" height="11" fill="#4C46FF"/>
<rect x="1366.1" y="1009.6" width="11" height="11" fill="#4C46FF"/>
<rect x="1357.4" y="1013.7" width="11" height="11" fill="#4C46FF"/>
<rect x="1357.4" y="1021.9" width="11" height="11" fill="#4C46FF"/>
<line x1="1396.9" y1="1016.4" x2="1429.9" y2="1016.4" stroke="#000" stroke-width="3.2"/>
<path d="M1413.4 1001.3V1031.5M1405.4 1001.3H1421.4M1405.4 1031.5H1421.4" stroke="#E85A05" stroke-width="3.2" fill="none"/>
<path d="M1415.4 995.5L1426.6 995.5L1421 985.3Z" fill="#E85A05"/>
<path d="M1400.4 1007.8L1411.6 1007.8L1406 997.6Z" fill="#E85A05"/>
<path d="M1407.8 1010.6L1419 1010.6L1413.4 1000.4Z" fill="#E85A05"/>
<path d="M1415.4 1011.9L1426.6 1011.9L1421 1001.7Z" fill="#E85A05"/>
<path d="M1400.4 1017.4L1411.6 1017.4L1406 1007.2Z" fill="#E85A05"/>
<path d="M1407.8 1021.5L1419 1021.5L1413.4 1011.3Z" fill="#E85A05"/>
<path d="M1415.4 1024.3L1426.6 1024.3L1421 1014.1Z" fill="#E85A05"/>
<path d="M1399 1031.1L1410.2 1031.1L1404.6 1020.9Z" fill="#E85A05"/>
<path d="M1416.8 1035.3L1428 1035.3L1422.4 1025.1Z" fill="#E85A05"/>
<path d="M1407.8 1038L1419 1038L1413.4 1027.8Z" fill="#E85A05"/>
<path d="M1401.7 1040.8L1412.9 1040.8L1407.3 1030.6Z" fill="#E85A05"/>
<path d="M1414.1 1042.1L1425.3 1042.1L1419.7 1031.9Z" fill="#E85A05"/>
<path d="M1407.8 1044.9L1419 1044.9L1413.4 1034.7Z" fill="#E85A05"/>
<line x1="1446.5" y1="1012.9" x2="1479.5" y2="1012.9" stroke="#000" stroke-width="3.2"/>
<path d="M1463 993.1V1032.4M1455 993.1H1471M1455 1032.4H1471" stroke="#0BB46F" stroke-width="3.2" fill="none"/>
<path d="M1457.4 963.3L1468.6 963.3L1463 973.5Z" fill="#0BB46F"/>
<path d="M1465.7 981.1L1476.9 981.1L1471.3 991.3Z" fill="#0BB46F"/>
<path d="M1451.1 992.1L1462.3 992.1L1456.7 1002.3Z" fill="#0BB46F"/>
<path d="M1458 996.2L1469.2 996.2L1463.6 1006.4Z" fill="#0BB46F"/>
<path d="M1467.1 1000.4L1478.3 1000.4L1472.7 1010.6Z" fill="#0BB46F"/>
<path d="M1449.8 1004.5L1461 1004.5L1455.4 1014.7Z" fill="#0BB46F"/>
<path d="M1462.1 1007.2L1473.3 1007.2L1467.7 1017.4Z" fill="#0BB46F"/>
<path d="M1453.9 1014.1L1465.1 1014.1L1459.5 1024.3Z" fill="#0BB46F"/>
<path d="M1466.2 1015.5L1477.4 1015.5L1471.8 1025.7Z" fill="#0BB46F"/>
<path d="M1449.8 1019.6L1461 1019.6L1455.4 1029.8Z" fill="#0BB46F"/>
<path d="M1458 1022.3L1469.2 1022.3L1463.6 1032.5Z" fill="#0BB46F"/>
<path d="M1464.9 1025.1L1476.1 1025.1L1470.5 1035.3Z" fill="#0BB46F"/>
<path d="M1453.9 1030.6L1465.1 1030.6L1459.5 1040.8Z" fill="#0BB46F"/>
<line x1="1530.3" y1="1029.3" x2="1563.3" y2="1029.3" stroke="#000" stroke-width="3.2"/>
<path d="M1546.8 1019.2V1039.2M1538.8 1019.2H1554.8M1538.8 1039.2H1554.8" stroke="#000000" stroke-width="3.2" fill="none"/>
<circle cx="1546.8" cy="1010.9" r="5.5" fill="#000000"/>
<circle cx="1536.3" cy="1028.8" r="5.5" fill="#000000"/>
<circle cx="1556.9" cy="1028.8" r="5.5" fill="#000000"/>
<circle cx="1541.8" cy="1031.5" r="5.5" fill="#000000"/>
<circle cx="1551.4" cy="1031.5" r="5.5" fill="#000000"/>
<circle cx="1546.8" cy="1032.9" r="5.5" fill="#000000"/>
<circle cx="1540.5" cy="1035.7" r="5.5" fill="#000000"/>
<circle cx="1552.8" cy="1035.7" r="5.5" fill="#000000"/>
<circle cx="1546.8" cy="1038.4" r="5.5" fill="#000000"/>
<line x1="1580.2" y1="1012.9" x2="1613.2" y2="1012.9" stroke="#000" stroke-width="3.2"/>
<path d="M1596.7 990.4V1034.3M1588.7 990.4H1604.7M1588.7 1034.3H1604.7" stroke="#4C46FF" stroke-width="3.2" fill="none"/>
<rect x="1591.2" y="946.4" width="11" height="11" fill="#4C46FF"/>
<rect x="1599.5" y="974.7" width="11" height="11" fill="#4C46FF"/>
<rect x="1583.5" y="982.1" width="11" height="11" fill="#4C46FF"/>
<rect x="1576.1" y="1008.2" width="11" height="11" fill="#4C46FF"/>
<rect x="1601.7" y="1004.1" width="11" height="11" fill="#4C46FF"/>
<rect x="1583" y="1012.3" width="11" height="11" fill="#4C46FF"/>
<rect x="1595.3" y="1010.9" width="11" height="11" fill="#4C46FF"/>
<rect x="1588.5" y="1016.4" width="11" height="11" fill="#4C46FF"/>
<rect x="1580.2" y="1019.2" width="11" height="11" fill="#4C46FF"/>
<rect x="1599.5" y="1019.2" width="11" height="11" fill="#4C46FF"/>
<rect x="1591.2" y="1021.9" width="11" height="11" fill="#4C46FF"/>
<rect x="1585.7" y="1026" width="11" height="11" fill="#4C46FF"/>
<rect x="1596.7" y="1026" width="11" height="11" fill="#4C46FF"/>
<rect x="1591.2" y="1028.8" width="11" height="11" fill="#4C46FF"/>
<line x1="1630.2" y1="1026.6" x2="1663.2" y2="1026.6" stroke="#000" stroke-width="3.2"/>
<path d="M1646.7 1016.4V1037M1638.7 1016.4H1654.7M1638.7 1037H1654.7" stroke="#E85A05" stroke-width="3.2" fill="none"/>
<path d="M1633.7 1010L1644.9 1010L1639.3 999.8Z" fill="#E85A05"/>
<path d="M1648.8 1016L1660 1016L1654.4 1005.8Z" fill="#E85A05"/>
<path d="M1641.1 1021.5L1652.3 1021.5L1646.7 1011.3Z" fill="#E85A05"/>
<path d="M1633.7 1025.7L1644.9 1025.7L1639.3 1015.5Z" fill="#E85A05"/>
<path d="M1648.8 1027L1660 1027L1654.4 1016.8Z" fill="#E85A05"/>
<path d="M1641.1 1031.1L1652.3 1031.1L1646.7 1020.9Z" fill="#E85A05"/>
<path d="M1632.3 1035.3L1643.5 1035.3L1637.9 1025.1Z" fill="#E85A05"/>
<path d="M1650.1 1035.3L1661.3 1035.3L1655.7 1025.1Z" fill="#E85A05"/>
<path d="M1641.1 1038L1652.3 1038L1646.7 1027.8Z" fill="#E85A05"/>
<path d="M1636.4 1042.1L1647.6 1042.1L1642 1031.9Z" fill="#E85A05"/>
<path d="M1646 1042.1L1657.2 1042.1L1651.6 1031.9Z" fill="#E85A05"/>
<path d="M1641.1 1044.9L1652.3 1044.9L1646.7 1034.7Z" fill="#E85A05"/>
<line x1="1680.4" y1="1022.8" x2="1713.4" y2="1022.8" stroke="#000" stroke-width="3.2"/>
<path d="M1696.9 1008.8V1037M1688.9 1008.8H1704.9M1688.9 1037H1704.9" stroke="#0BB46F" stroke-width="3.2" fill="none"/>
<path d="M1699.5 986.1L1710.7 986.1L1705.1 996.3Z" fill="#0BB46F"/>
<path d="M1683.6 994.9L1694.8 994.9L1689.2 1005.1Z" fill="#0BB46F"/>
<path d="M1691.3 1007.2L1702.5 1007.2L1696.9 1017.4Z" fill="#0BB46F"/>
<path d="M1683.1 1012.7L1694.3 1012.7L1688.7 1022.9Z" fill="#0BB46F"/>
<path d="M1700.9 1014.1L1712.1 1014.1L1706.5 1024.3Z" fill="#0BB46F"/>
<path d="M1691.3 1016.8L1702.5 1016.8L1696.9 1027Z" fill="#0BB46F"/>
<path d="M1680.3 1019.6L1691.5 1019.6L1685.9 1029.8Z" fill="#0BB46F"/>
<path d="M1703.7 1019.6L1714.9 1019.6L1709.3 1029.8Z" fill="#0BB46F"/>
<path d="M1687.2 1023.7L1698.4 1023.7L1692.8 1033.9Z" fill="#0BB46F"/>
<path d="M1696.8 1023.7L1708 1023.7L1702.4 1033.9Z" fill="#0BB46F"/>
<path d="M1691.3 1027.8L1702.5 1027.8L1696.9 1038Z" fill="#0BB46F"/>
<path d="M1685.8 1030.6L1697 1030.6L1691.4 1040.8Z" fill="#0BB46F"/>
<path d="M1696.8 1030.6L1708 1030.6L1702.4 1040.8Z" fill="#0BB46F"/>
<path d="M1688.6 1034.7L1699.8 1034.7L1694.2 1044.9Z" fill="#0BB46F"/>
</g>
<text x="1023.7" y="716.6" font-size="23" text-anchor="end" textLength="25.3" lengthAdjust="spacingAndGlyphs">15</text>
<text x="1023.7" y="831.1" font-size="23" text-anchor="end" textLength="25.3" lengthAdjust="spacingAndGlyphs">10</text>
<text x="1023.7" y="945.8" font-size="23" text-anchor="end">5</text>
<text x="1023.7" y="1060.6" font-size="23" text-anchor="end">0</text>
<text x="1150" y="1097.8" font-size="28" text-anchor="middle" textLength="69.8" lengthAdjust="spacingAndGlyphs">CCL2</text>
<text x="1386" y="1097.8" font-size="28" text-anchor="middle" textLength="85.2" lengthAdjust="spacingAndGlyphs">CXCL2</text>
<text x="1619" y="1097.8" font-size="28" text-anchor="middle" textLength="98.6" lengthAdjust="spacingAndGlyphs">CXCL10</text>
<text transform="translate(938.4 880) rotate(-90)" font-size="28" text-anchor="middle" textLength="256.6" lengthAdjust="spacingAndGlyphs">Relative fold change</text>
<text transform="translate(970.8 880) rotate(-90)" font-size="28" text-anchor="middle" textLength="219.6" lengthAdjust="spacingAndGlyphs">mRNA expression</text>
<circle cx="1553.6" cy="704.9" r="5.8" fill="#000000"/>
<text x="1575.1" y="714.5" font-size="28" textLength="57.8" lengthAdjust="spacingAndGlyphs">NCD</text>
<rect x="1547.9" y="733.5" width="11.4" height="11.4" fill="#4C46FF"/>
<text x="1575.1" y="747.4" font-size="28" textLength="92.4" lengthAdjust="spacingAndGlyphs">HFHCD</text>
<path d="M1547.8 777.8L1559.4 777.8L1553.6 767.2Z" fill="#E85A05"/>
<text x="1575.1" y="780.3" font-size="28" textLength="108.4" lengthAdjust="spacingAndGlyphs">HFHCD-I</text>
<path d="M1547.8 801.2L1559.4 801.2L1553.6 811.8Z" fill="#0BB46F"/>
<text x="1575.1" y="813.3" font-size="28" textLength="121.3" lengthAdjust="spacingAndGlyphs">HFHCD-C</text>
<text x="1049.6" y="799.6" font-size="23"><tspan x="1049.6" font-style="italic" textLength="13.7" lengthAdjust="spacingAndGlyphs">P</tspan> <tspan x="1068.8" textLength="11.2" lengthAdjust="spacingAndGlyphs">=</tspan> <tspan x="1085.9" textLength="80.8" lengthAdjust="spacingAndGlyphs">0.0006</tspan></text>
<line x1="1090" y1="807.8" x2="1132" y2="807.8" stroke="#000" stroke-width="2.6"/>
<text x="1101" y="757" font-size="23"><tspan x="1101" font-style="italic" textLength="13.7" lengthAdjust="spacingAndGlyphs">P</tspan> <tspan x="1120.2" textLength="11.2" lengthAdjust="spacingAndGlyphs">=</tspan> <tspan x="1137.3" textLength="74.7" lengthAdjust="spacingAndGlyphs">0.0077</tspan></text>
<line x1="1143.5" y1="766.4" x2="1185.5" y2="766.4" stroke="#000" stroke-width="2.6"/>
<text x="1147.1" y="712.3" font-size="23"><tspan x="1147.1" font-style="italic" textLength="13.7" lengthAdjust="spacingAndGlyphs">P</tspan> <tspan x="1166.3" textLength="11.2" lengthAdjust="spacingAndGlyphs">=</tspan> <tspan x="1183.4" textLength="67.6" lengthAdjust="spacingAndGlyphs">0.0118</tspan></text>
<line x1="1157.5" y1="721.9" x2="1250" y2="721.9" stroke="#000" stroke-width="2.6"/>
<text x="1245.6" y="900.3" font-size="23"><tspan x="1245.6" font-style="italic" textLength="13.7" lengthAdjust="spacingAndGlyphs">P</tspan> <tspan x="1264.8" textLength="11.2" lengthAdjust="spacingAndGlyphs">=</tspan> <tspan x="1281.9" textLength="79.8" lengthAdjust="spacingAndGlyphs">0.0004</tspan></text>
<line x1="1317.2" y1="909.4" x2="1359.3" y2="909.4" stroke="#000" stroke-width="2.6"/>
<text x="1375.8" y="900.3" font-size="23"><tspan x="1375.8" font-style="italic" textLength="13.7" lengthAdjust="spacingAndGlyphs">P</tspan> <tspan x="1395" textLength="11.2" lengthAdjust="spacingAndGlyphs">=</tspan> <tspan x="1412.1" textLength="74.5" lengthAdjust="spacingAndGlyphs">0.0016</tspan></text>
<line x1="1374.4" y1="909.4" x2="1416.4" y2="909.4" stroke="#000" stroke-width="2.6"/>
<text x="1348.9" y="849.6" font-size="23"><tspan x="1348.9" font-style="italic" textLength="13.7" lengthAdjust="spacingAndGlyphs">P</tspan> <tspan x="1368.1" textLength="11.2" lengthAdjust="spacingAndGlyphs">=</tspan> <tspan x="1385.2" textLength="78" lengthAdjust="spacingAndGlyphs">0.0062</tspan></text>
<line x1="1365.3" y1="859.4" x2="1457.8" y2="859.4" stroke="#000" stroke-width="2.6"/>
<text x="1554.2" y="918.5" font-size="23"><tspan x="1554.2" font-style="italic" textLength="13.7" lengthAdjust="spacingAndGlyphs">P</tspan> <tspan x="1573.4" textLength="11.2" lengthAdjust="spacingAndGlyphs">=</tspan> <tspan x="1590.5" textLength="76.7" lengthAdjust="spacingAndGlyphs">0.0484</tspan></text>
<line x1="1600.9" y1="929.2" x2="1642.9" y2="929.2" stroke="#000" stroke-width="2.6"/>
<path d="M132.6 1188.3V1533.5" stroke="#444" stroke-width="2.9" fill="none"/>
<path d="M122.4 1533.5H818.6" stroke="#151515" stroke-width="2.1" fill="none"/>
<line x1="122.4" y1="1189.8" x2="132.6" y2="1189.8" stroke="#444" stroke-width="2.9"/>
<line x1="122.4" y1="1304.3" x2="132.6" y2="1304.3" stroke="#444" stroke-width="2.9"/>
<line x1="122.4" y1="1418.8" x2="132.6" y2="1418.8" stroke="#444" stroke-width="2.9"/>
<line x1="238.5" y1="1533.5" x2="238.5" y2="1543.1" stroke="#151515" stroke-width="2.1"/>
<line x1="474.4" y1="1533.5" x2="474.4" y2="1543.1" stroke="#151515" stroke-width="2.1"/>
<line x1="709.9" y1="1533.5" x2="709.9" y2="1543.1" stroke="#151515" stroke-width="2.1"/>
<g>
<line x1="153.1" y1="1508.8" x2="196.1" y2="1508.8" stroke="#000" stroke-width="3.2"/>
<path d="M174.6 1501.9V1517.6M164.3 1501.9H184.9M164.3 1517.6H184.9" stroke="#000000" stroke-width="3.2" fill="none"/>
<circle cx="166.9" cy="1496.4" r="5.5" fill="#000000"/>
<circle cx="182.5" cy="1497.8" r="5.5" fill="#000000"/>
<circle cx="160" cy="1510.2" r="5.5" fill="#000000"/>
<circle cx="189.4" cy="1515.7" r="5.5" fill="#000000"/>
<circle cx="167.4" cy="1518.4" r="5.5" fill="#000000"/>
<circle cx="174.6" cy="1522" r="5.5" fill="#000000"/>
<line x1="217.3" y1="1473.1" x2="260.3" y2="1473.1" stroke="#000" stroke-width="3.2"/>
<path d="M238.8 1425.1V1521.1M228.5 1425.1H249.1M228.5 1521.1H249.1" stroke="#4C46FF" stroke-width="3.2" fill="none"/>
<rect x="233.3" y="1319.9" width="11" height="11" fill="#4C46FF"/>
<rect x="225.9" y="1442.9" width="11" height="11" fill="#4C46FF"/>
<rect x="241" y="1445.1" width="11" height="11" fill="#4C46FF"/>
<rect x="219.6" y="1460.2" width="11" height="11" fill="#4C46FF"/>
<rect x="247.6" y="1461.6" width="11" height="11" fill="#4C46FF"/>
<rect x="233.3" y="1466.2" width="11" height="11" fill="#4C46FF"/>
<rect x="216.8" y="1475.8" width="11" height="11" fill="#4C46FF"/>
<rect x="249.8" y="1480" width="11" height="11" fill="#4C46FF"/>
<rect x="227.8" y="1481.3" width="11" height="11" fill="#4C46FF"/>
<rect x="237.4" y="1488.2" width="11" height="11" fill="#4C46FF"/>
<rect x="249.8" y="1499.2" width="11" height="11" fill="#4C46FF"/>
<rect x="216.8" y="1506" width="11" height="11" fill="#4C46FF"/>
<rect x="237.4" y="1506" width="11" height="11" fill="#4C46FF"/>
<rect x="229.2" y="1512.9" width="11" height="11" fill="#4C46FF"/>
<rect x="238.8" y="1513.7" width="11" height="11" fill="#4C46FF"/>
<line x1="281.5" y1="1499.7" x2="324.5" y2="1499.7" stroke="#000" stroke-width="3.2"/>
<path d="M303 1461.3V1533.5M292.7 1461.3H313.3M292.7 1533.5H313.3" stroke="#E85A05" stroke-width="3.2" fill="none"/>
<path d="M297.4 1404.9L308.6 1404.9L303 1394.7Z" fill="#E85A05"/>
<path d="M297.4 1448L308.6 1448L303 1437.8Z" fill="#E85A05"/>
<path d="M276.3 1508.4L287.5 1508.4L281.9 1498.2Z" fill="#E85A05"/>
<path d="M311.4 1507L322.6 1507L317 1496.8Z" fill="#E85A05"/>
<path d="M297.4 1512.5L308.6 1512.5L303 1502.3Z" fill="#E85A05"/>
<path d="M284 1522.9L295.2 1522.9L289.6 1512.7Z" fill="#E85A05"/>
<path d="M290.8 1524.9L302 1524.9L296.4 1514.7Z" fill="#E85A05"/>
<path d="M304.6 1524.9L315.8 1524.9L310.2 1514.7Z" fill="#E85A05"/>
<path d="M311.4 1522.9L322.6 1522.9L317 1512.7Z" fill="#E85A05"/>
<path d="M297.4 1529L308.6 1529L303 1518.8Z" fill="#E85A05"/>
<path d="M292.2 1534.5L303.4 1534.5L297.8 1524.3Z" fill="#E85A05"/>
<path d="M303.2 1534.5L314.4 1534.5L308.8 1524.3Z" fill="#E85A05"/>
<path d="M297.4 1537.2L308.6 1537.2L303 1527Z" fill="#E85A05"/>
<line x1="388.9" y1="1509.6" x2="431.9" y2="1509.6" stroke="#000" stroke-width="3.2"/>
<path d="M410.4 1503.3V1517M400.1 1503.3H420.7M400.1 1517H420.7" stroke="#000000" stroke-width="3.2" fill="none"/>
<circle cx="402.9" cy="1500.6" r="5.5" fill="#000000"/>
<circle cx="417.8" cy="1501.1" r="5.5" fill="#000000"/>
<circle cx="395.3" cy="1510.2" r="5.5" fill="#000000"/>
<circle cx="424.1" cy="1515.7" r="5.5" fill="#000000"/>
<circle cx="403.5" cy="1517" r="5.5" fill="#000000"/>
<circle cx="410.4" cy="1520.6" r="5.5" fill="#000000"/>
<line x1="452.9" y1="1504.1" x2="495.9" y2="1504.1" stroke="#000" stroke-width="3.2"/>
<path d="M474.4 1489V1519.8M464.1 1489H484.7M464.1 1519.8H484.7" stroke="#4C46FF" stroke-width="3.2" fill="none"/>
<rect x="469.4" y="1465.7" width="11" height="11" fill="#4C46FF"/>
<rect x="454.9" y="1477.8" width="11" height="11" fill="#4C46FF"/>
<rect x="460.4" y="1490.9" width="11" height="11" fill="#4C46FF"/>
<rect x="483.7" y="1490.9" width="11" height="11" fill="#4C46FF"/>
<rect x="470" y="1492.3" width="11" height="11" fill="#4C46FF"/>
<rect x="453.5" y="1499.2" width="11" height="11" fill="#4C46FF"/>
<rect x="476.8" y="1499.2" width="11" height="11" fill="#4C46FF"/>
<rect x="463.1" y="1504.7" width="11" height="11" fill="#4C46FF"/>
<rect x="474.1" y="1506" width="11" height="11" fill="#4C46FF"/>
<rect x="482.3" y="1497.8" width="11" height="11" fill="#4C46FF"/>
<rect x="467.2" y="1511.5" width="11" height="11" fill="#4C46FF"/>
<rect x="476.8" y="1518.4" width="11" height="11" fill="#4C46FF"/>
<rect x="461.7" y="1525.8" width="11" height="11" fill="#4C46FF"/>
<line x1="517.1" y1="1508.2" x2="560.1" y2="1508.2" stroke="#000" stroke-width="3.2"/>
<path d="M538.6 1501.9V1514.3M528.3 1501.9H548.9M528.3 1514.3H548.9" stroke="#E85A05" stroke-width="3.2" fill="none"/>
<path d="M517.9 1505.7L529.1 1505.7L523.5 1495.5Z" fill="#E85A05"/>
<path d="M549.5 1507L560.7 1507L555.1 1496.8Z" fill="#E85A05"/>
<path d="M526.2 1509.8L537.4 1509.8L531.8 1499.6Z" fill="#E85A05"/>
<path d="M539.9 1509.8L551.1 1509.8L545.5 1499.6Z" fill="#E85A05"/>
<path d="M533 1512.5L544.2 1512.5L538.6 1502.3Z" fill="#E85A05"/>
<path d="M519.3 1513.9L530.5 1513.9L524.9 1503.7Z" fill="#E85A05"/>
<path d="M546.7 1513.9L557.9 1513.9L552.3 1503.7Z" fill="#E85A05"/>
<path d="M528.9 1518L540.1 1518L534.5 1507.8Z" fill="#E85A05"/>
<path d="M537.1 1518L548.3 1518L542.7 1507.8Z" fill="#E85A05"/>
<path d="M533 1522.1L544.2 1522.1L538.6 1511.9Z" fill="#E85A05"/>
<path d="M530.3 1525.4L541.5 1525.4L535.9 1515.2Z" fill="#E85A05"/>
<line x1="623.6" y1="1510.2" x2="666.6" y2="1510.2" stroke="#000" stroke-width="3.2"/>
<path d="M645.1 1500.6V1518.4M634.8 1500.6H655.4M634.8 1518.4H655.4" stroke="#000000" stroke-width="3.2" fill="none"/>
<circle cx="645.7" cy="1495.1" r="5.5" fill="#000000"/>
<circle cx="662.1" cy="1506.6" r="5.5" fill="#000000"/>
<circle cx="627.8" cy="1511.5" r="5.5" fill="#000000"/>
<circle cx="641.5" cy="1512.9" r="5.5" fill="#000000"/>
<circle cx="651.2" cy="1512.9" r="5.5" fill="#000000"/>
<circle cx="629.2" cy="1516.5" r="5.5" fill="#000000"/>
<circle cx="641" cy="1517" r="5.5" fill="#000000"/>
<circle cx="652" cy="1517" r="5.5" fill="#000000"/>
<line x1="688.4" y1="1488.2" x2="731.4" y2="1488.2" stroke="#000" stroke-width="3.2"/>
<path d="M709.9 1465.7V1510.2M699.6 1465.7H720.2M699.6 1510.2H720.2" stroke="#4C46FF" stroke-width="3.2" fill="none"/>
<rect x="704.4" y="1425.9" width="11" height="11" fill="#4C46FF"/>
<rect x="704.4" y="1454.7" width="11" height="11" fill="#4C46FF"/>
<rect x="688.2" y="1474.5" width="11" height="11" fill="#4C46FF"/>
<rect x="721.1" y="1473.1" width="11" height="11" fill="#4C46FF"/>
<rect x="696.4" y="1478.6" width="11" height="11" fill="#4C46FF"/>
<rect x="712.9" y="1478.6" width="11" height="11" fill="#4C46FF"/>
<rect x="704.4" y="1481.3" width="11" height="11" fill="#4C46FF"/>
<rect x="686.8" y="1490.9" width="11" height="11" fill="#4C46FF"/>
<rect x="721.1" y="1489.6" width="11" height="11" fill="#4C46FF"/>
<rect x="696.4" y="1493.7" width="11" height="11" fill="#4C46FF"/>
<rect x="712.9" y="1493.7" width="11" height="11" fill="#4C46FF"/>
<rect x="689.6" y="1499.2" width="11" height="11" fill="#4C46FF"/>
<rect x="719.8" y="1500" width="11" height="11" fill="#4C46FF"/>
<rect x="704.4" y="1501.9" width="11" height="11" fill="#4C46FF"/>
<rect x="704.4" y="1512.9" width="11" height="11" fill="#4C46FF"/>
<line x1="752.6" y1="1503.3" x2="795.6" y2="1503.3" stroke="#000" stroke-width="3.2"/>
<path d="M774.1 1486V1521.1M763.8 1486H784.4M763.8 1521.1H784.4" stroke="#E85A05" stroke-width="3.2" fill="none"/>
<path d="M761.4 1478.2L772.6 1478.2L767 1468Z" fill="#E85A05"/>
<path d="M776.8 1475.5L788 1475.5L782.4 1465.3Z" fill="#E85A05"/>
<path d="M752.6 1502.9L763.8 1502.9L758.2 1492.7Z" fill="#E85A05"/>
<path d="M785.5 1509.8L796.7 1509.8L791.1 1499.6Z" fill="#E85A05"/>
<path d="M768.5 1511.1L779.7 1511.1L774.1 1500.9Z" fill="#E85A05"/>
<path d="M758.1 1520.8L769.3 1520.8L763.7 1510.6Z" fill="#E85A05"/>
<path d="M763.6 1519.4L774.8 1519.4L769.2 1509.2Z" fill="#E85A05"/>
<path d="M774.6 1519.4L785.8 1519.4L780.2 1509.2Z" fill="#E85A05"/>
<path d="M780.1 1520.8L791.3 1520.8L785.7 1510.6Z" fill="#E85A05"/>
<path d="M768.5 1524.9L779.7 1524.9L774.1 1514.7Z" fill="#E85A05"/>
<path d="M763.6 1529L774.8 1529L769.2 1518.8Z" fill="#E85A05"/>
<path d="M773.2 1529L784.4 1529L778.8 1518.8Z" fill="#E85A05"/>
</g>
<text x="109.4" y="1198.7" font-size="23" text-anchor="end" textLength="25.3" lengthAdjust="spacingAndGlyphs">15</text>
<text x="109.4" y="1313.2" font-size="23" text-anchor="end" textLength="25.3" lengthAdjust="spacingAndGlyphs">10</text>
<text x="109.4" y="1427.7" font-size="23" text-anchor="end">5</text>
<text x="109.4" y="1542.4" font-size="23" text-anchor="end">0</text>
<text x="239.8" y="1577.8" font-size="28" text-anchor="middle" textLength="69.8" lengthAdjust="spacingAndGlyphs">CCL2</text>
<text x="475.9" y="1577.8" font-size="28" text-anchor="middle" textLength="85.2" lengthAdjust="spacingAndGlyphs">CXCL2</text>
<text x="708.5" y="1577.8" font-size="28" text-anchor="middle" textLength="98.6" lengthAdjust="spacingAndGlyphs">CXCL10</text>
<text transform="translate(24.2 1362.6) rotate(-90)" font-size="28" text-anchor="middle" textLength="256.6" lengthAdjust="spacingAndGlyphs">Relative fold change</text>
<text transform="translate(56.4 1362.6) rotate(-90)" font-size="28" text-anchor="middle" textLength="219.6" lengthAdjust="spacingAndGlyphs">mRNA expression</text>
<circle cx="592.6" cy="1213.2" r="5.8" fill="#000000"/>
<text x="609.8" y="1223.2" font-size="28" textLength="57.8" lengthAdjust="spacingAndGlyphs">NCD</text>
<rect x="586.9" y="1243.2" width="11.4" height="11.4" fill="#4C46FF"/>
<text x="609.8" y="1260.1" font-size="28" textLength="171.2" lengthAdjust="spacingAndGlyphs">CDHFD + PBS</text>
<path d="M586.8 1289.6L598.4 1289.6L592.6 1279Z" fill="#E85A05"/>
<text x="609.8" y="1294.3" font-size="28" textLength="166.3" lengthAdjust="spacingAndGlyphs">CDHFD + <tspan font-style="italic">P. d</tspan></text>
<text x="599.6" y="1400.4" font-size="23"><tspan x="599.6" font-style="italic" textLength="13.7" lengthAdjust="spacingAndGlyphs">P</tspan> <tspan x="618.8" textLength="11.2" lengthAdjust="spacingAndGlyphs">=</tspan> <tspan x="635.9" textLength="76.7" lengthAdjust="spacingAndGlyphs">0.0334</tspan></text>
<line x1="661.6" y1="1408.9" x2="703.9" y2="1408.9" stroke="#000" stroke-width="2.6"/>
<text x="720.9" y="1400.4" font-size="23"><tspan x="720.9" font-style="italic" textLength="13.7" lengthAdjust="spacingAndGlyphs">P</tspan> <tspan x="740.1" textLength="11.2" lengthAdjust="spacingAndGlyphs">=</tspan> <tspan x="757.2" textLength="77.5" lengthAdjust="spacingAndGlyphs">0.0456</tspan></text>
<line x1="718.4" y1="1408.9" x2="760.4" y2="1408.9" stroke="#000" stroke-width="2.6"/>
<path d="M1048.2 1191.7V1534.9" stroke="#000" stroke-width="1.8" fill="none"/>
<path d="M1038 1534.9H1734.5" stroke="#000" stroke-width="1.8" fill="none"/>
<line x1="1038" y1="1192.6" x2="1048.2" y2="1192.6" stroke="#000" stroke-width="1.8"/>
<line x1="1038" y1="1306.5" x2="1048.2" y2="1306.5" stroke="#000" stroke-width="1.8"/>
<line x1="1038" y1="1420.4" x2="1048.2" y2="1420.4" stroke="#000" stroke-width="1.8"/>
<line x1="1155" y1="1534.9" x2="1155" y2="1544.5" stroke="#000" stroke-width="1.8"/>
<line x1="1390.3" y1="1534.9" x2="1390.3" y2="1544.5" stroke="#000" stroke-width="1.8"/>
<line x1="1625.6" y1="1534.9" x2="1625.6" y2="1544.5" stroke="#000" stroke-width="1.8"/>
<g>
<circle cx="1078.4" cy="1504.7" r="5.5" fill="#000000"/>
<circle cx="1104.5" cy="1504.7" r="5.5" fill="#000000"/>
<circle cx="1083.9" cy="1510.2" r="5.5" fill="#000000"/>
<circle cx="1097.6" cy="1510.2" r="5.5" fill="#000000"/>
<circle cx="1091" cy="1512.1" r="5.5" fill="#000000"/>
<circle cx="1086.7" cy="1515.7" r="5.5" fill="#000000"/>
<circle cx="1095.4" cy="1515.7" r="5.5" fill="#000000"/>
<circle cx="1091" cy="1518.4" r="5.5" fill="#000000"/>
<path d="M1091 1505.5V1517M1080.7 1505.5H1101.3M1080.7 1517H1101.3" stroke="#000000" stroke-width="3.2" fill="none"/>
<line x1="1069.5" y1="1511.5" x2="1112.5" y2="1511.5" stroke="#000" stroke-width="3.2"/>
<rect x="1149.8" y="1271.9" width="11" height="11" fill="#4C46FF"/>
<rect x="1149.8" y="1355.1" width="11" height="11" fill="#4C46FF"/>
<rect x="1149.8" y="1378.4" width="11" height="11" fill="#4C46FF"/>
<rect x="1149.8" y="1411.3" width="11" height="11" fill="#4C46FF"/>
<rect x="1142.1" y="1428.6" width="11" height="11" fill="#4C46FF"/>
<rect x="1157.5" y="1429.7" width="11" height="11" fill="#4C46FF"/>
<rect x="1133.9" y="1450.6" width="11" height="11" fill="#4C46FF"/>
<rect x="1166.2" y="1448.9" width="11" height="11" fill="#4C46FF"/>
<rect x="1154.7" y="1451.1" width="11" height="11" fill="#4C46FF"/>
<rect x="1145.7" y="1464.3" width="11" height="11" fill="#4C46FF"/>
<path d="M1155 1355.1V1473.7M1144.7 1355.1H1165.3M1144.7 1473.7H1165.3" stroke="#4C46FF" stroke-width="3.2" fill="none"/>
<line x1="1133.5" y1="1414.6" x2="1176.5" y2="1414.6" stroke="#000" stroke-width="3.2"/>
<path d="M1214.2 1369.8L1225.4 1369.8L1219.8 1359.6Z" fill="#E85A05"/>
<path d="M1221.6 1432.4L1232.8 1432.4L1227.2 1422.2Z" fill="#E85A05"/>
<path d="M1206.5 1443.1L1217.7 1443.1L1212.1 1432.9Z" fill="#E85A05"/>
<path d="M1197.7 1468.6L1208.9 1468.6L1203.3 1458.4Z" fill="#E85A05"/>
<path d="M1229.8 1469.4L1241 1469.4L1235.4 1459.2Z" fill="#E85A05"/>
<path d="M1208.7 1473.5L1219.9 1473.5L1214.3 1463.3Z" fill="#E85A05"/>
<path d="M1219.1 1479.6L1230.3 1479.6L1224.7 1469.4Z" fill="#E85A05"/>
<path d="M1199.9 1487.8L1211.1 1487.8L1205.5 1477.6Z" fill="#E85A05"/>
<path d="M1227.4 1491.4L1238.6 1491.4L1233 1481.2Z" fill="#E85A05"/>
<path d="M1213.6 1502.4L1224.8 1502.4L1219.2 1492.2Z" fill="#E85A05"/>
<path d="M1219.2 1417.4V1494.5M1208.9 1417.4H1229.5M1208.9 1494.5H1229.5" stroke="#E85A05" stroke-width="3.2" fill="none"/>
<line x1="1197.7" y1="1456.1" x2="1240.7" y2="1456.1" stroke="#000" stroke-width="3.2"/>
<circle cx="1326.3" cy="1495.9" r="5.5" fill="#000000"/>
<circle cx="1317.2" cy="1507.4" r="5.5" fill="#000000"/>
<circle cx="1332.3" cy="1506" r="5.5" fill="#000000"/>
<circle cx="1339.2" cy="1510.2" r="5.5" fill="#000000"/>
<circle cx="1314.5" cy="1515.7" r="5.5" fill="#000000"/>
<circle cx="1329.6" cy="1514.3" r="5.5" fill="#000000"/>
<circle cx="1322.7" cy="1522.5" r="5.5" fill="#000000"/>
<path d="M1324.1 1501.1V1519.8M1313.8 1501.1H1334.4M1313.8 1519.8H1334.4" stroke="#000000" stroke-width="3.2" fill="none"/>
<line x1="1302.6" y1="1510.7" x2="1345.6" y2="1510.7" stroke="#000" stroke-width="3.2"/>
<rect x="1369.4" y="1464" width="11" height="11" fill="#4C46FF"/>
<rect x="1392.8" y="1462.1" width="11" height="11" fill="#4C46FF"/>
<rect x="1377.1" y="1474.5" width="11" height="11" fill="#4C46FF"/>
<rect x="1400.5" y="1482.2" width="11" height="11" fill="#4C46FF"/>
<rect x="1373" y="1495.1" width="11" height="11" fill="#4C46FF"/>
<rect x="1385.4" y="1496.4" width="11" height="11" fill="#4C46FF"/>
<rect x="1396.3" y="1496.4" width="11" height="11" fill="#4C46FF"/>
<rect x="1378.5" y="1500.5" width="11" height="11" fill="#4C46FF"/>
<rect x="1390.8" y="1501.1" width="11" height="11" fill="#4C46FF"/>
<rect x="1382.1" y="1503.3" width="11" height="11" fill="#4C46FF"/>
<path d="M1390.3 1477.2V1507.4M1380 1477.2H1400.6M1380 1507.4H1400.6" stroke="#4C46FF" stroke-width="3.2" fill="none"/>
<line x1="1368.8" y1="1492.3" x2="1411.8" y2="1492.3" stroke="#000" stroke-width="3.2"/>
<path d="M1462.9 1497.4L1474.1 1497.4L1468.5 1487.2Z" fill="#E85A05"/>
<path d="M1427.8 1501L1439 1501L1433.4 1490.8Z" fill="#E85A05"/>
<path d="M1434.7 1509.8L1445.9 1509.8L1440.3 1499.6Z" fill="#E85A05"/>
<path d="M1442.9 1512.5L1454.1 1512.5L1448.5 1502.3Z" fill="#E85A05"/>
<path d="M1455.2 1512.5L1466.4 1512.5L1460.8 1502.3Z" fill="#E85A05"/>
<path d="M1463.5 1513.9L1474.7 1513.9L1469.1 1503.7Z" fill="#E85A05"/>
<path d="M1438.8 1517.2L1450 1517.2L1444.4 1507Z" fill="#E85A05"/>
<path d="M1448.9 1518L1460.1 1518L1454.5 1507.8Z" fill="#E85A05"/>
<path d="M1459.4 1518L1470.6 1518L1465 1507.8Z" fill="#E85A05"/>
<path d="M1444.3 1521.6L1455.5 1521.6L1449.9 1511.4Z" fill="#E85A05"/>
<path d="M1453.9 1521.6L1465.1 1521.6L1459.5 1511.4Z" fill="#E85A05"/>
<path d="M1448.9 1523.5L1460.1 1523.5L1454.5 1513.3Z" fill="#E85A05"/>
<path d="M1454.5 1497.8V1514.8M1444.2 1497.8H1464.8M1444.2 1514.8H1464.8" stroke="#E85A05" stroke-width="3.2" fill="none"/>
<line x1="1433" y1="1506.6" x2="1476" y2="1506.6" stroke="#000" stroke-width="3.2"/>
<circle cx="1575.6" cy="1499.2" r="5.5" fill="#000000"/>
<circle cx="1546.8" cy="1503.3" r="5.5" fill="#000000"/>
<circle cx="1561.9" cy="1504.1" r="5.5" fill="#000000"/>
<circle cx="1578.1" cy="1510.2" r="5.5" fill="#000000"/>
<circle cx="1544.6" cy="1512.9" r="5.5" fill="#000000"/>
<circle cx="1566.5" cy="1519.8" r="5.5" fill="#000000"/>
<circle cx="1555.5" cy="1522.5" r="5.5" fill="#000000"/>
<path d="M1561 1501.1V1519.8M1550.7 1501.1H1571.3M1550.7 1519.8H1571.3" stroke="#000000" stroke-width="3.2" fill="none"/>
<line x1="1539.5" y1="1510.7" x2="1582.5" y2="1510.7" stroke="#000" stroke-width="3.2"/>
<rect x="1620.6" y="1393.5" width="11" height="11" fill="#4C46FF"/>
<rect x="1620.6" y="1409.1" width="11" height="11" fill="#4C46FF"/>
<rect x="1606.3" y="1447" width="11" height="11" fill="#4C46FF"/>
<rect x="1634.3" y="1445.1" width="11" height="11" fill="#4C46FF"/>
<rect x="1620" y="1450.6" width="11" height="11" fill="#4C46FF"/>
<rect x="1606.3" y="1469" width="11" height="11" fill="#4C46FF"/>
<rect x="1633.8" y="1469" width="11" height="11" fill="#4C46FF"/>
<rect x="1613.2" y="1473.1" width="11" height="11" fill="#4C46FF"/>
<rect x="1626.9" y="1473.1" width="11" height="11" fill="#4C46FF"/>
<rect x="1620" y="1481.3" width="11" height="11" fill="#4C46FF"/>
<path d="M1625.5 1427.8V1486.8M1615.2 1427.8H1635.8M1615.2 1486.8H1635.8" stroke="#4C46FF" stroke-width="3.2" fill="none"/>
<line x1="1604" y1="1457.2" x2="1647" y2="1457.2" stroke="#000" stroke-width="3.2"/>
<path d="M1684.4 1432.4L1695.6 1432.4L1690 1422.2Z" fill="#E85A05"/>
<path d="M1684.4 1463.1L1695.6 1463.1L1690 1452.9Z" fill="#E85A05"/>
<path d="M1673.5 1490.6L1684.7 1490.6L1679.1 1480.4Z" fill="#E85A05"/>
<path d="M1695.4 1490.6L1706.6 1490.6L1701 1480.4Z" fill="#E85A05"/>
<path d="M1680.3 1497.4L1691.5 1497.4L1685.9 1487.2Z" fill="#E85A05"/>
<path d="M1688.6 1500.2L1699.8 1500.2L1694.2 1490Z" fill="#E85A05"/>
<path d="M1692.7 1505.7L1703.9 1505.7L1698.3 1495.5Z" fill="#E85A05"/>
<path d="M1685.8 1505.7L1697 1505.7L1691.4 1495.5Z" fill="#E85A05"/>
<path d="M1676.8 1516.6L1688 1516.6L1682.4 1506.4Z" fill="#E85A05"/>
<path d="M1690 1456.6V1503.3M1679.7 1456.6H1700.3M1679.7 1503.3H1700.3" stroke="#E85A05" stroke-width="3.2" fill="none"/>
<line x1="1668.5" y1="1480.5" x2="1711.5" y2="1480.5" stroke="#000" stroke-width="3.2"/>
</g>
<text x="1025.9" y="1200.6" font-size="23" text-anchor="end" textLength="25.3" lengthAdjust="spacingAndGlyphs">15</text>
<text x="1025.9" y="1314.5" font-size="23" text-anchor="end" textLength="25.3" lengthAdjust="spacingAndGlyphs">10</text>
<text x="1025.9" y="1428.4" font-size="23" text-anchor="end">5</text>
<text x="1025.9" y="1542.9" font-size="23" text-anchor="end">0</text>
<text x="1154" y="1577.8" font-size="28" text-anchor="middle" textLength="69.8" lengthAdjust="spacingAndGlyphs">CCL2</text>
<text x="1389.1" y="1577.8" font-size="28" text-anchor="middle" textLength="85.2" lengthAdjust="spacingAndGlyphs">CXCL2</text>
<text x="1624.9" y="1577.8" font-size="28" text-anchor="middle" textLength="98.6" lengthAdjust="spacingAndGlyphs">CXCL10</text>
<text transform="translate(938.4 1362.6) rotate(-90)" font-size="28" text-anchor="middle" textLength="256.6" lengthAdjust="spacingAndGlyphs">Relative fold change</text>
<text transform="translate(970.8 1362.6) rotate(-90)" font-size="28" text-anchor="middle" textLength="219.6" lengthAdjust="spacingAndGlyphs">mRNA expression</text>
<circle cx="1508" cy="1214.5" r="5.8" fill="#000000"/>
<text x="1528.7" y="1227.1" font-size="28" textLength="57.8" lengthAdjust="spacingAndGlyphs">NCD</text>
<rect x="1502.3" y="1245.1" width="11.4" height="11.4" fill="#4C46FF"/>
<text x="1528.7" y="1260.3" font-size="28" textLength="91.6" lengthAdjust="spacingAndGlyphs">CDHFD</text>
<path d="M1502.2 1291.8L1513.8 1291.8L1508 1281.2Z" fill="#E85A05"/>
<text x="1528.7" y="1293.8" font-size="28" textLength="169.6" lengthAdjust="spacingAndGlyphs">CDHFD + PEA</text>
<text x="1067.5" y="1252.7" font-size="23"><tspan x="1067.5" font-style="italic" textLength="13.7" lengthAdjust="spacingAndGlyphs">P</tspan> <tspan x="1086.7" textLength="11.2" lengthAdjust="spacingAndGlyphs">=</tspan> <tspan x="1103.8" textLength="75.8" lengthAdjust="spacingAndGlyphs">0.0001</tspan></text>
<line x1="1113.6" y1="1264" x2="1155.3" y2="1264" stroke="#000" stroke-width="2.6"/>
<text x="1116.1" y="1211" font-size="23"><tspan x="1116.1" font-style="italic" textLength="13.7" lengthAdjust="spacingAndGlyphs">P</tspan> <tspan x="1135.3" textLength="11.2" lengthAdjust="spacingAndGlyphs">=</tspan> <tspan x="1152.4" textLength="72.5" lengthAdjust="spacingAndGlyphs">0.0441</tspan></text>
<line x1="1160.2" y1="1220" x2="1202.2" y2="1220" stroke="#000" stroke-width="2.6"/>
<text x="1273.9" y="1443" font-size="23"><tspan x="1273.9" font-style="italic" textLength="13.7" lengthAdjust="spacingAndGlyphs">P</tspan> <tspan x="1293.1" textLength="11.2" lengthAdjust="spacingAndGlyphs">=</tspan> <tspan x="1310.2" textLength="79.8" lengthAdjust="spacingAndGlyphs">0.0030</tspan></text>
<line x1="1342" y1="1452.3" x2="1384" y2="1452.3" stroke="#000" stroke-width="2.6"/>
<text x="1399.7" y="1443" font-size="23"><tspan x="1399.7" font-style="italic" textLength="13.7" lengthAdjust="spacingAndGlyphs">P</tspan> <tspan x="1418.9" textLength="11.2" lengthAdjust="spacingAndGlyphs">=</tspan> <tspan x="1436" textLength="69" lengthAdjust="spacingAndGlyphs">0.0101</tspan></text>
<line x1="1391.7" y1="1452.3" x2="1433.7" y2="1452.3" stroke="#000" stroke-width="2.6"/>
<text x="1516.9" y="1366.6" font-size="23"><tspan x="1516.9" font-style="italic" textLength="13.7" lengthAdjust="spacingAndGlyphs">P</tspan> <tspan x="1536.1" textLength="11.2" lengthAdjust="spacingAndGlyphs">=</tspan> <tspan x="1553.2" textLength="75.3" lengthAdjust="spacingAndGlyphs">0.0001</tspan></text>
<line x1="1576.7" y1="1379.2" x2="1618.7" y2="1379.2" stroke="#000" stroke-width="2.6"/>
<text x="1639" y="1366.6" font-size="23"><tspan x="1639" font-style="italic" textLength="13.7" lengthAdjust="spacingAndGlyphs">P</tspan> <tspan x="1658.2" textLength="11.2" lengthAdjust="spacingAndGlyphs">=</tspan> <tspan x="1675.3" textLength="72.9" lengthAdjust="spacingAndGlyphs">0.0416</tspan></text>
<line x1="1633.2" y1="1379.2" x2="1675.2" y2="1379.2" stroke="#000" stroke-width="2.6"/>
<path d="M132.9 1644.3V1989.2" stroke="#111" stroke-width="2.0" fill="none"/>
<path d="M122.7 1989.2H819.2" stroke="#111" stroke-width="2.1" fill="none"/>
<line x1="122.7" y1="1645.3" x2="132.9" y2="1645.3" stroke="#111" stroke-width="2.0"/>
<line x1="122.7" y1="1731.8" x2="132.9" y2="1731.8" stroke="#111" stroke-width="2.0"/>
<line x1="122.7" y1="1817.4" x2="132.9" y2="1817.4" stroke="#111" stroke-width="2.0"/>
<line x1="122.7" y1="1903.3" x2="132.9" y2="1903.3" stroke="#111" stroke-width="2.0"/>
<line x1="240.7" y1="1989.2" x2="240.7" y2="1998.8" stroke="#111" stroke-width="2.1"/>
<line x1="474.7" y1="1989.2" x2="474.7" y2="1998.8" stroke="#111" stroke-width="2.1"/>
<line x1="709.6" y1="1989.2" x2="709.6" y2="1998.8" stroke="#111" stroke-width="2.1"/>
<g>
<line x1="150.1" y1="1971.4" x2="183.1" y2="1971.4" stroke="#000" stroke-width="3.2"/>
<path d="M166.6 1965.1V1978.2M158.6 1965.1H174.6M158.6 1978.2H174.6" stroke="#000000" stroke-width="3.2" fill="none"/>
<circle cx="166.6" cy="1959" r="5.5" fill="#000000"/>
<circle cx="155.1" cy="1966.4" r="5.5" fill="#000000"/>
<circle cx="175.7" cy="1969.2" r="5.5" fill="#000000"/>
<circle cx="160.6" cy="1970.6" r="5.5" fill="#000000"/>
<circle cx="170.2" cy="1971.9" r="5.5" fill="#000000"/>
<circle cx="164.7" cy="1974.7" r="5.5" fill="#000000"/>
<circle cx="157.8" cy="1976" r="5.5" fill="#000000"/>
<circle cx="174.3" cy="1974.7" r="5.5" fill="#000000"/>
<circle cx="166.6" cy="1978.8" r="5.5" fill="#000000"/>
<circle cx="166.6" cy="1981.5" r="5.5" fill="#000000"/>
<line x1="199.8" y1="1914.8" x2="232.8" y2="1914.8" stroke="#000" stroke-width="3.2"/>
<path d="M216.3 1862.1V1967.8M208.3 1862.1H224.3M208.3 1967.8H224.3" stroke="#4C46FF" stroke-width="3.2" fill="none"/>
<rect x="210.8" y="1779" width="11" height="11" fill="#4C46FF"/>
<rect x="219" y="1850.3" width="11" height="11" fill="#4C46FF"/>
<rect x="203.1" y="1859.4" width="11" height="11" fill="#4C46FF"/>
<rect x="210.8" y="1902.5" width="11" height="11" fill="#4C46FF"/>
<rect x="201.7" y="1914.3" width="11" height="11" fill="#4C46FF"/>
<rect x="220.1" y="1918.4" width="11" height="11" fill="#4C46FF"/>
<rect x="211.3" y="1922.5" width="11" height="11" fill="#4C46FF"/>
<rect x="219.6" y="1926.6" width="11" height="11" fill="#4C46FF"/>
<rect x="201.7" y="1937.6" width="11" height="11" fill="#4C46FF"/>
<rect x="210.8" y="1939" width="11" height="11" fill="#4C46FF"/>
<rect x="200.9" y="1953.5" width="11" height="11" fill="#4C46FF"/>
<rect x="219.6" y="1960.9" width="11" height="11" fill="#4C46FF"/>
<rect x="210.8" y="1963.7" width="11" height="11" fill="#4C46FF"/>
<line x1="249.8" y1="1952.2" x2="282.8" y2="1952.2" stroke="#000" stroke-width="3.2"/>
<path d="M266.3 1937.6V1967.8M258.3 1937.6H274.3M258.3 1967.8H274.3" stroke="#E85A05" stroke-width="3.2" fill="none"/>
<path d="M252.4 1938.6L263.6 1938.6L258 1928.4Z" fill="#E85A05"/>
<path d="M269.4 1938.6L280.6 1938.6L275 1928.4Z" fill="#E85A05"/>
<path d="M260.7 1942.7L271.9 1942.7L266.3 1932.5Z" fill="#E85A05"/>
<path d="M253.8 1949.6L265 1949.6L259.4 1939.4Z" fill="#E85A05"/>
<path d="M267.5 1949.6L278.7 1949.6L273.1 1939.4Z" fill="#E85A05"/>
<path d="M271.6 1960.6L282.8 1960.6L277.2 1950.4Z" fill="#E85A05"/>
<path d="M252.4 1961.9L263.6 1961.9L258 1951.7Z" fill="#E85A05"/>
<path d="M260.7 1964.7L271.9 1964.7L266.3 1954.5Z" fill="#E85A05"/>
<path d="M268.9 1970.2L280.1 1970.2L274.5 1960Z" fill="#E85A05"/>
<path d="M252.4 1972.9L263.6 1972.9L258 1962.7Z" fill="#E85A05"/>
<path d="M260.7 1974.3L271.9 1974.3L266.3 1964.1Z" fill="#E85A05"/>
<path d="M268.9 1974.3L280.1 1974.3L274.5 1964.1Z" fill="#E85A05"/>
<path d="M257.9 1983.3L269.1 1983.3L263.5 1973.1Z" fill="#E85A05"/>
<line x1="299.7" y1="1972.5" x2="332.7" y2="1972.5" stroke="#000" stroke-width="3.2"/>
<path d="M316.2 1959.6V1984.3M308.2 1959.6H324.2M308.2 1984.3H324.2" stroke="#0BB46F" stroke-width="3.2" fill="none"/>
<path d="M310.6 1926.5L321.8 1926.5L316.2 1936.7Z" fill="#0BB46F"/>
<path d="M319.7 1951.7L330.9 1951.7L325.3 1961.9Z" fill="#0BB46F"/>
<path d="M303.2 1958.6L314.4 1958.6L308.8 1968.8Z" fill="#0BB46F"/>
<path d="M310.6 1961.3L321.8 1961.3L316.2 1971.5Z" fill="#0BB46F"/>
<path d="M318.3 1960L329.5 1960L323.9 1970.2Z" fill="#0BB46F"/>
<path d="M300.5 1965.5L311.7 1965.5L306.1 1975.7Z" fill="#0BB46F"/>
<path d="M321 1966.8L332.2 1966.8L326.6 1977Z" fill="#0BB46F"/>
<path d="M305.9 1969.6L317.1 1969.6L311.5 1979.8Z" fill="#0BB46F"/>
<path d="M315.5 1969.6L326.7 1969.6L321.1 1979.8Z" fill="#0BB46F"/>
<path d="M310.6 1972.3L321.8 1972.3L316.2 1982.5Z" fill="#0BB46F"/>
<path d="M303.2 1975.1L314.4 1975.1L308.8 1985.3Z" fill="#0BB46F"/>
<path d="M318.3 1975.1L329.5 1975.1L323.9 1985.3Z" fill="#0BB46F"/>
<path d="M310.6 1977.8L321.8 1977.8L316.2 1988Z" fill="#0BB46F"/>
<path d="M307.3 1980.6L318.5 1980.6L312.9 1990.8Z" fill="#0BB46F"/>
<path d="M314.2 1980.6L325.4 1980.6L319.8 1990.8Z" fill="#0BB46F"/>
<line x1="383.7" y1="1970.6" x2="416.7" y2="1970.6" stroke="#000" stroke-width="3.2"/>
<path d="M400.2 1959V1982.9M392.2 1959H408.2M392.2 1982.9H408.2" stroke="#000000" stroke-width="3.2" fill="none"/>
<circle cx="409" cy="1949.1" r="5.5" fill="#000000"/>
<circle cx="391.1" cy="1956.8" r="5.5" fill="#000000"/>
<circle cx="400.2" cy="1965.1" r="5.5" fill="#000000"/>
<circle cx="389.8" cy="1970.6" r="5.5" fill="#000000"/>
<circle cx="410.4" cy="1971.9" r="5.5" fill="#000000"/>
<circle cx="395.3" cy="1974.7" r="5.5" fill="#000000"/>
<circle cx="404.9" cy="1976" r="5.5" fill="#000000"/>
<circle cx="400.2" cy="1980.2" r="5.5" fill="#000000"/>
<circle cx="400.2" cy="1984.3" r="5.5" fill="#000000"/>
<line x1="433.7" y1="1974.7" x2="466.7" y2="1974.7" stroke="#000" stroke-width="3.2"/>
<path d="M450.2 1965.1V1984.3M442.2 1965.1H458.2M442.2 1984.3H458.2" stroke="#4C46FF" stroke-width="3.2" fill="none"/>
<rect x="453.5" y="1948.6" width="11" height="11" fill="#4C46FF"/>
<rect x="435.7" y="1951.3" width="11" height="11" fill="#4C46FF"/>
<rect x="448" y="1954.1" width="11" height="11" fill="#4C46FF"/>
<rect x="439.8" y="1960.9" width="11" height="11" fill="#4C46FF"/>
<rect x="449.4" y="1962.3" width="11" height="11" fill="#4C46FF"/>
<rect x="444.7" y="1966.4" width="11" height="11" fill="#4C46FF"/>
<rect x="435.7" y="1971.9" width="11" height="11" fill="#4C46FF"/>
<rect x="453.5" y="1971.9" width="11" height="11" fill="#4C46FF"/>
<rect x="444.7" y="1974.7" width="11" height="11" fill="#4C46FF"/>
<rect x="438.4" y="1978.8" width="11" height="11" fill="#4C46FF"/>
<rect x="450.8" y="1978.8" width="11" height="11" fill="#4C46FF"/>
<rect x="444.7" y="1981.5" width="11" height="11" fill="#4C46FF"/>
<rect x="444.7" y="1984.3" width="11" height="11" fill="#4C46FF"/>
<line x1="484.5" y1="1985.7" x2="517.5" y2="1985.7" stroke="#000" stroke-width="3.2"/>
<path d="M501 1982.9V1988.4M493 1982.9H509M493 1988.4H509" stroke="#E85A05" stroke-width="3.2" fill="none"/>
<path d="M487.7 1983.9L498.9 1983.9L493.3 1973.7Z" fill="#E85A05"/>
<path d="M502.8 1983.9L514 1983.9L508.4 1973.7Z" fill="#E85A05"/>
<path d="M495.4 1989.4L506.6 1989.4L501 1979.2Z" fill="#E85A05"/>
<path d="M489.1 1992.1L500.3 1992.1L494.7 1981.9Z" fill="#E85A05"/>
<path d="M501.4 1992.1L512.6 1992.1L507 1981.9Z" fill="#E85A05"/>
<path d="M495.4 1994.9L506.6 1994.9L501 1984.7Z" fill="#E85A05"/>
<path d="M491.8 1996.2L503 1996.2L497.4 1986Z" fill="#E85A05"/>
<path d="M498.7 1996.2L509.9 1996.2L504.3 1986Z" fill="#E85A05"/>
<line x1="533.9" y1="1978.8" x2="566.9" y2="1978.8" stroke="#000" stroke-width="3.2"/>
<path d="M550.4 1967.8V1989.2M542.4 1967.8H558.4M542.4 1989.2H558.4" stroke="#0BB46F" stroke-width="3.2" fill="none"/>
<path d="M553.6 1953.1L564.8 1953.1L559.2 1963.3Z" fill="#0BB46F"/>
<path d="M535.8 1955.8L547 1955.8L541.4 1966Z" fill="#0BB46F"/>
<path d="M549.5 1961.3L560.7 1961.3L555.1 1971.5Z" fill="#0BB46F"/>
<path d="M539.9 1964.1L551.1 1964.1L545.5 1974.3Z" fill="#0BB46F"/>
<path d="M544.8 1965.5L556 1965.5L550.4 1975.7Z" fill="#0BB46F"/>
<path d="M535.8 1969.6L547 1969.6L541.4 1979.8Z" fill="#0BB46F"/>
<path d="M553.6 1972.3L564.8 1972.3L559.2 1982.5Z" fill="#0BB46F"/>
<path d="M544.8 1973.7L556 1973.7L550.4 1983.9Z" fill="#0BB46F"/>
<path d="M539.9 1977.8L551.1 1977.8L545.5 1988Z" fill="#0BB46F"/>
<path d="M549.5 1977.8L560.7 1977.8L555.1 1988Z" fill="#0BB46F"/>
<path d="M544.8 1981.9L556 1981.9L550.4 1992.1Z" fill="#0BB46F"/>
<path d="M544.8 1984.7L556 1984.7L550.4 1994.9Z" fill="#0BB46F"/>
<line x1="618.2" y1="1969.2" x2="651.2" y2="1969.2" stroke="#000" stroke-width="3.2"/>
<path d="M634.7 1956.3V1982.1M626.7 1956.3H642.7M626.7 1982.1H642.7" stroke="#000000" stroke-width="3.2" fill="none"/>
<circle cx="634.7" cy="1943.7" r="5.5" fill="#000000"/>
<circle cx="626.5" cy="1951.3" r="5.5" fill="#000000"/>
<circle cx="634.7" cy="1963.7" r="5.5" fill="#000000"/>
<circle cx="642.9" cy="1965.1" r="5.5" fill="#000000"/>
<circle cx="625.1" cy="1970.6" r="5.5" fill="#000000"/>
<circle cx="644.3" cy="1970.6" r="5.5" fill="#000000"/>
<circle cx="630.6" cy="1974.7" r="5.5" fill="#000000"/>
<circle cx="638.8" cy="1974.7" r="5.5" fill="#000000"/>
<circle cx="634.7" cy="1978.8" r="5.5" fill="#000000"/>
<circle cx="634.7" cy="1982.9" r="5.5" fill="#000000"/>
<circle cx="634.7" cy="1985.7" r="5.5" fill="#000000"/>
<line x1="668.1" y1="1974.1" x2="701.1" y2="1974.1" stroke="#000" stroke-width="3.2"/>
<path d="M684.6 1960.9V1987M676.6 1960.9H692.6M676.6 1987H692.6" stroke="#4C46FF" stroke-width="3.2" fill="none"/>
<rect x="688.2" y="1944.5" width="11" height="11" fill="#4C46FF"/>
<rect x="670.4" y="1953.5" width="11" height="11" fill="#4C46FF"/>
<rect x="680" y="1956.8" width="11" height="11" fill="#4C46FF"/>
<rect x="685.5" y="1954.1" width="11" height="11" fill="#4C46FF"/>
<rect x="674.5" y="1959.6" width="11" height="11" fill="#4C46FF"/>
<rect x="679.1" y="1967.8" width="11" height="11" fill="#4C46FF"/>
<rect x="669" y="1971.9" width="11" height="11" fill="#4C46FF"/>
<rect x="688.2" y="1973.3" width="11" height="11" fill="#4C46FF"/>
<rect x="679.1" y="1976" width="11" height="11" fill="#4C46FF"/>
<rect x="671.7" y="1978.8" width="11" height="11" fill="#4C46FF"/>
<rect x="686.8" y="1978.8" width="11" height="11" fill="#4C46FF"/>
<rect x="679.1" y="1981.5" width="11" height="11" fill="#4C46FF"/>
<rect x="679.1" y="1984.3" width="11" height="11" fill="#4C46FF"/>
<line x1="718.4" y1="1985.7" x2="751.4" y2="1985.7" stroke="#000" stroke-width="3.2"/>
<path d="M734.9 1982.9V1988.4M726.9 1982.9H742.9M726.9 1988.4H742.9" stroke="#E85A05" stroke-width="3.2" fill="none"/>
<path d="M721 1985.3L732.2 1985.3L726.6 1975.1Z" fill="#E85A05"/>
<path d="M737.5 1985.3L748.7 1985.3L743.1 1975.1Z" fill="#E85A05"/>
<path d="M729.3 1989.4L740.5 1989.4L734.9 1979.2Z" fill="#E85A05"/>
<path d="M723.8 1992.1L735 1992.1L729.4 1981.9Z" fill="#E85A05"/>
<path d="M734.8 1992.1L746 1992.1L740.4 1981.9Z" fill="#E85A05"/>
<path d="M729.3 1994.9L740.5 1994.9L734.9 1984.7Z" fill="#E85A05"/>
<path d="M726.5 1996.2L737.7 1996.2L732.1 1986Z" fill="#E85A05"/>
<path d="M732 1996.2L743.2 1996.2L737.6 1986Z" fill="#E85A05"/>
<line x1="768.3" y1="1980.2" x2="801.3" y2="1980.2" stroke="#000" stroke-width="3.2"/>
<path d="M784.8 1970.6V1989.2M776.8 1970.6H792.8M776.8 1989.2H792.8" stroke="#0BB46F" stroke-width="3.2" fill="none"/>
<path d="M770.4 1960L781.6 1960L776 1970.2Z" fill="#0BB46F"/>
<path d="M788.3 1958.6L799.5 1958.6L793.9 1968.8Z" fill="#0BB46F"/>
<path d="M779.2 1964.1L790.4 1964.1L784.8 1974.3Z" fill="#0BB46F"/>
<path d="M771.8 1968.2L783 1968.2L777.4 1978.4Z" fill="#0BB46F"/>
<path d="M786.9 1968.2L798.1 1968.2L792.5 1978.4Z" fill="#0BB46F"/>
<path d="M779.2 1970.9L790.4 1970.9L784.8 1981.1Z" fill="#0BB46F"/>
<path d="M774.6 1975.1L785.8 1975.1L780.2 1985.3Z" fill="#0BB46F"/>
<path d="M784.2 1975.1L795.4 1975.1L789.8 1985.3Z" fill="#0BB46F"/>
<path d="M779.2 1977.8L790.4 1977.8L784.8 1988Z" fill="#0BB46F"/>
<path d="M775.9 1981.4L787.1 1981.4L781.5 1991.6Z" fill="#0BB46F"/>
<path d="M782.8 1981.4L794 1981.4L788.4 1991.6Z" fill="#0BB46F"/>
<path d="M779.2 1984.7L790.4 1984.7L784.8 1994.9Z" fill="#0BB46F"/>
</g>
<text x="109.4" y="1654" font-size="23" text-anchor="end" textLength="29.2" lengthAdjust="spacingAndGlyphs">20</text>
<text x="109.4" y="1740.5" font-size="23" text-anchor="end" textLength="25.3" lengthAdjust="spacingAndGlyphs">15</text>
<text x="109.4" y="1826.1" font-size="23" text-anchor="end" textLength="25.3" lengthAdjust="spacingAndGlyphs">10</text>
<text x="109.4" y="1912" font-size="23" text-anchor="end">5</text>
<text x="109.4" y="1997.9" font-size="23" text-anchor="end">0</text>
<text x="238.8" y="2032.7" font-size="28" text-anchor="middle" textLength="90.9" lengthAdjust="spacingAndGlyphs">Mogat1</text>
<text x="473.7" y="2032.7" font-size="28" text-anchor="middle" textLength="74.2" lengthAdjust="spacingAndGlyphs">SCD-1</text>
<text x="708.8" y="2032.7" font-size="28" text-anchor="middle" textLength="78.9" lengthAdjust="spacingAndGlyphs">SCD-2</text>
<text transform="translate(24.2 1816.4) rotate(-90)" font-size="28" text-anchor="middle" textLength="256.6" lengthAdjust="spacingAndGlyphs">Relative fold change</text>
<text transform="translate(56.4 1816.4) rotate(-90)" font-size="28" text-anchor="middle" textLength="219.6" lengthAdjust="spacingAndGlyphs">mRNA expression</text>
<circle cx="641" cy="1666.4" r="5.8" fill="#000000"/>
<text x="656.4" y="1675.2" font-size="28" textLength="57.8" lengthAdjust="spacingAndGlyphs">NCD</text>
<rect x="635.3" y="1695" width="11.4" height="11.4" fill="#4C46FF"/>
<text x="656.4" y="1709.5" font-size="28" textLength="91.6" lengthAdjust="spacingAndGlyphs">CDHFD</text>
<path d="M635.2 1739.8L646.8 1739.8L641 1729.2Z" fill="#E85A05"/>
<text x="656.4" y="1743.5" font-size="28" textLength="108.1" lengthAdjust="spacingAndGlyphs">CDHFD-I</text>
<path d="M635.2 1763.5L646.8 1763.5L641 1774.1Z" fill="#0BB46F"/>
<text x="656.4" y="1778.1" font-size="28" textLength="121" lengthAdjust="spacingAndGlyphs">CDHFD-C</text>
<text x="140" y="1759.8" font-size="23"><tspan x="140" font-style="italic" textLength="13.7" lengthAdjust="spacingAndGlyphs">P</tspan> <tspan x="159.2" textLength="11.2" lengthAdjust="spacingAndGlyphs">&lt;</tspan> <tspan x="176.3" textLength="76.4" lengthAdjust="spacingAndGlyphs">0.0001</tspan></text>
<line x1="170.7" y1="1769.6" x2="212.7" y2="1769.6" stroke="#000" stroke-width="2.6"/>
<text x="173" y="1716.7" font-size="23"><tspan x="173" font-style="italic" textLength="13.7" lengthAdjust="spacingAndGlyphs">P</tspan> <tspan x="192.2" textLength="11.2" lengthAdjust="spacingAndGlyphs">=</tspan> <tspan x="209.3" textLength="75.8" lengthAdjust="spacingAndGlyphs">0.0010</tspan></text>
<line x1="218.5" y1="1724.1" x2="260.5" y2="1724.1" stroke="#000" stroke-width="2.6"/>
<text x="211.1" y="1667.3" font-size="23"><tspan x="211.1" font-style="italic" textLength="13.7" lengthAdjust="spacingAndGlyphs">P</tspan> <tspan x="230.3" textLength="11.2" lengthAdjust="spacingAndGlyphs">&lt;</tspan> <tspan x="247.4" textLength="76.1" lengthAdjust="spacingAndGlyphs">0.0001</tspan></text>
<line x1="218.5" y1="1675.5" x2="311" y2="1675.5" stroke="#000" stroke-width="2.6"/>
<text x="402.2" y="1931.3" font-size="23"><tspan x="402.2" font-style="italic" textLength="13.7" lengthAdjust="spacingAndGlyphs">P</tspan> <tspan x="421.4" textLength="11.2" lengthAdjust="spacingAndGlyphs">=</tspan> <tspan x="438.5" textLength="74.5" lengthAdjust="spacingAndGlyphs">0.0074</tspan></text>
<line x1="453" y1="1940.7" x2="495.3" y2="1940.7" stroke="#000" stroke-width="2.6"/>
<text x="631.7" y="1924.7" font-size="23"><tspan x="631.7" font-style="italic" textLength="13.7" lengthAdjust="spacingAndGlyphs">P</tspan> <tspan x="650.9" textLength="11.2" lengthAdjust="spacingAndGlyphs">=</tspan> <tspan x="668" textLength="78.9" lengthAdjust="spacingAndGlyphs">0.0036</tspan></text>
<line x1="684.7" y1="1934.9" x2="726.7" y2="1934.9" stroke="#000" stroke-width="2.6"/>
<path d="M1046.3 1644V1989" stroke="#444" stroke-width="2.7" fill="none"/>
<path d="M1036.1 1989H1733.4" stroke="#444" stroke-width="2.6" fill="none"/>
<line x1="1040.3" y1="1645.3" x2="1046.3" y2="1645.3" stroke="#444" stroke-width="2.7"/>
<line x1="1036.1" y1="1714.2" x2="1046.3" y2="1714.2" stroke="#444" stroke-width="2.7"/>
<line x1="1040.3" y1="1782.5" x2="1046.3" y2="1782.5" stroke="#444" stroke-width="2.7"/>
<line x1="1036.1" y1="1851.2" x2="1046.3" y2="1851.2" stroke="#444" stroke-width="2.7"/>
<line x1="1040.3" y1="1919.8" x2="1046.3" y2="1919.8" stroke="#444" stroke-width="2.7"/>
<line x1="1154.2" y1="1989" x2="1154.2" y2="1998.6" stroke="#444" stroke-width="2.6"/>
<line x1="1388.7" y1="1989" x2="1388.7" y2="1998.6" stroke="#444" stroke-width="2.6"/>
<line x1="1623.6" y1="1989" x2="1623.6" y2="1998.6" stroke="#444" stroke-width="2.6"/>
<g>
<line x1="1063" y1="1981" x2="1096" y2="1981" stroke="#000" stroke-width="3.2"/>
<path d="M1079.5 1972.8V1988.4M1071.5 1972.8H1087.5M1071.5 1988.4H1087.5" stroke="#000000" stroke-width="3.2" fill="none"/>
<circle cx="1079.8" cy="1964.5" r="5.5" fill="#000000"/>
<circle cx="1070.2" cy="1980.2" r="5.5" fill="#000000"/>
<circle cx="1089.4" cy="1980.2" r="5.5" fill="#000000"/>
<circle cx="1075.7" cy="1981.5" r="5.5" fill="#000000"/>
<circle cx="1083.9" cy="1981.5" r="5.5" fill="#000000"/>
<circle cx="1079.5" cy="1982.9" r="5.5" fill="#000000"/>
<circle cx="1072.9" cy="1984.3" r="5.5" fill="#000000"/>
<circle cx="1086.7" cy="1984.3" r="5.5" fill="#000000"/>
<circle cx="1079.5" cy="1986.5" r="5.5" fill="#000000"/>
<line x1="1113.5" y1="1948.6" x2="1146.5" y2="1948.6" stroke="#000" stroke-width="3.2"/>
<path d="M1130 1933.5V1963.7M1122 1933.5H1138M1122 1963.7H1138" stroke="#4C46FF" stroke-width="3.2" fill="none"/>
<rect x="1132.5" y="1919.8" width="11" height="11" fill="#4C46FF"/>
<rect x="1116.3" y="1923.9" width="11" height="11" fill="#4C46FF"/>
<rect x="1125.1" y="1928" width="11" height="11" fill="#4C46FF"/>
<rect x="1133.3" y="1930.7" width="11" height="11" fill="#4C46FF"/>
<rect x="1115.5" y="1934.9" width="11" height="11" fill="#4C46FF"/>
<rect x="1124.5" y="1937.6" width="11" height="11" fill="#4C46FF"/>
<rect x="1131.9" y="1941.7" width="11" height="11" fill="#4C46FF"/>
<rect x="1116.8" y="1945.8" width="11" height="11" fill="#4C46FF"/>
<rect x="1124.5" y="1948.6" width="11" height="11" fill="#4C46FF"/>
<rect x="1133.3" y="1951.3" width="11" height="11" fill="#4C46FF"/>
<rect x="1115.5" y="1955.4" width="11" height="11" fill="#4C46FF"/>
<rect x="1124.5" y="1956.8" width="11" height="11" fill="#4C46FF"/>
<rect x="1131.9" y="1958.2" width="11" height="11" fill="#4C46FF"/>
<rect x="1122.3" y="1963.7" width="11" height="11" fill="#4C46FF"/>
<line x1="1163.7" y1="1967.8" x2="1196.7" y2="1967.8" stroke="#000" stroke-width="3.2"/>
<path d="M1180.2 1952.2V1982.9M1172.2 1952.2H1188.2M1172.2 1982.9H1188.2" stroke="#E85A05" stroke-width="3.2" fill="none"/>
<path d="M1174.6 1949.6L1185.8 1949.6L1180.2 1939.4Z" fill="#E85A05"/>
<path d="M1167.5 1956.4L1178.7 1956.4L1173.1 1946.2Z" fill="#E85A05"/>
<path d="M1182.1 1959.2L1193.3 1959.2L1187.7 1949Z" fill="#E85A05"/>
<path d="M1174.6 1963.3L1185.8 1963.3L1180.2 1953.1Z" fill="#E85A05"/>
<path d="M1166.1 1968.8L1177.3 1968.8L1171.7 1958.6Z" fill="#E85A05"/>
<path d="M1182.6 1970.2L1193.8 1970.2L1188.2 1960Z" fill="#E85A05"/>
<path d="M1174.6 1974.3L1185.8 1974.3L1180.2 1964.1Z" fill="#E85A05"/>
<path d="M1167.5 1979.8L1178.7 1979.8L1173.1 1969.6Z" fill="#E85A05"/>
<path d="M1182.1 1979.8L1193.3 1979.8L1187.7 1969.6Z" fill="#E85A05"/>
<path d="M1174.6 1982.5L1185.8 1982.5L1180.2 1972.3Z" fill="#E85A05"/>
<path d="M1168.9 1986.6L1180.1 1986.6L1174.5 1976.4Z" fill="#E85A05"/>
<path d="M1179.9 1986.6L1191.1 1986.6L1185.5 1976.4Z" fill="#E85A05"/>
<path d="M1174.6 1989.4L1185.8 1989.4L1180.2 1979.2Z" fill="#E85A05"/>
<line x1="1213.7" y1="1967.8" x2="1246.7" y2="1967.8" stroke="#000" stroke-width="3.2"/>
<path d="M1230.2 1954.1V1981.5M1222.2 1954.1H1238.2M1222.2 1981.5H1238.2" stroke="#0BB46F" stroke-width="3.2" fill="none"/>
<path d="M1224.6 1931.1L1235.8 1931.1L1230.2 1941.3Z" fill="#0BB46F"/>
<path d="M1234.2 1944L1245.4 1944L1239.8 1954.2Z" fill="#0BB46F"/>
<path d="M1216.1 1947.6L1227.3 1947.6L1221.7 1957.8Z" fill="#0BB46F"/>
<path d="M1224.6 1951.7L1235.8 1951.7L1230.2 1961.9Z" fill="#0BB46F"/>
<path d="M1232 1957.2L1243.2 1957.2L1237.6 1967.4Z" fill="#0BB46F"/>
<path d="M1215.5 1961.3L1226.7 1961.3L1221.1 1971.5Z" fill="#0BB46F"/>
<path d="M1224.6 1964.1L1235.8 1964.1L1230.2 1974.3Z" fill="#0BB46F"/>
<path d="M1234.8 1965.5L1246 1965.5L1240.4 1975.7Z" fill="#0BB46F"/>
<path d="M1214.2 1969.6L1225.4 1969.6L1219.8 1979.8Z" fill="#0BB46F"/>
<path d="M1224.6 1970.9L1235.8 1970.9L1230.2 1981.1Z" fill="#0BB46F"/>
<path d="M1233.4 1972.3L1244.6 1972.3L1239 1982.5Z" fill="#0BB46F"/>
<path d="M1218.3 1975.1L1229.5 1975.1L1223.9 1985.3Z" fill="#0BB46F"/>
<path d="M1229.3 1975.9L1240.5 1975.9L1234.9 1986.1Z" fill="#0BB46F"/>
<path d="M1223.8 1979.2L1235 1979.2L1229.4 1989.4Z" fill="#0BB46F"/>
<line x1="1297.4" y1="1982.1" x2="1330.4" y2="1982.1" stroke="#000" stroke-width="3.2"/>
<path d="M1313.9 1980.2V1984M1305.9 1980.2H1321.9M1305.9 1984H1321.9" stroke="#000000" stroke-width="3.2" fill="none"/>
<circle cx="1306.2" cy="1980.7" r="5.5" fill="#000000"/>
<circle cx="1321.3" cy="1979.3" r="5.5" fill="#000000"/>
<circle cx="1311.7" cy="1982.1" r="5.5" fill="#000000"/>
<circle cx="1317.2" cy="1982.1" r="5.5" fill="#000000"/>
<circle cx="1302.1" cy="1982.9" r="5.5" fill="#000000"/>
<circle cx="1325.5" cy="1982.9" r="5.5" fill="#000000"/>
<circle cx="1313.9" cy="1983.5" r="5.5" fill="#000000"/>
<line x1="1347.7" y1="1848.4" x2="1380.7" y2="1848.4" stroke="#000" stroke-width="3.2"/>
<path d="M1364.2 1811.9V1885.5M1356.2 1811.9H1372.2M1356.2 1885.5H1372.2" stroke="#4C46FF" stroke-width="3.2" fill="none"/>
<rect x="1358.7" y="1754.5" width="11" height="11" fill="#4C46FF"/>
<rect x="1366.7" y="1798.2" width="11" height="11" fill="#4C46FF"/>
<rect x="1342.8" y="1806.4" width="11" height="11" fill="#4C46FF"/>
<rect x="1351" y="1816.3" width="11" height="11" fill="#4C46FF"/>
<rect x="1366.1" y="1823.7" width="11" height="11" fill="#4C46FF"/>
<rect x="1349.7" y="1845.7" width="11" height="11" fill="#4C46FF"/>
<rect x="1367.5" y="1853.9" width="11" height="11" fill="#4C46FF"/>
<rect x="1357.9" y="1855.3" width="11" height="11" fill="#4C46FF"/>
<rect x="1349.7" y="1862.1" width="11" height="11" fill="#4C46FF"/>
<rect x="1366.1" y="1863.5" width="11" height="11" fill="#4C46FF"/>
<rect x="1359.3" y="1869" width="11" height="11" fill="#4C46FF"/>
<rect x="1362" y="1877.2" width="11" height="11" fill="#4C46FF"/>
<rect x="1358.7" y="1899.7" width="11" height="11" fill="#4C46FF"/>
<line x1="1398.2" y1="1884.9" x2="1431.2" y2="1884.9" stroke="#000" stroke-width="3.2"/>
<path d="M1414.7 1858.8V1910.2M1406.7 1858.8H1422.7M1406.7 1910.2H1422.7" stroke="#E85A05" stroke-width="3.2" fill="none"/>
<path d="M1394.9 1865.9L1406.1 1865.9L1400.5 1855.7Z" fill="#E85A05"/>
<path d="M1423.1 1865.9L1434.3 1865.9L1428.7 1855.7Z" fill="#E85A05"/>
<path d="M1403.1 1872.7L1414.3 1872.7L1408.7 1862.5Z" fill="#E85A05"/>
<path d="M1416.8 1872.7L1428 1872.7L1422.4 1862.5Z" fill="#E85A05"/>
<path d="M1409.1 1879.6L1420.3 1879.6L1414.7 1869.4Z" fill="#E85A05"/>
<path d="M1409.1 1885.1L1420.3 1885.1L1414.7 1874.9Z" fill="#E85A05"/>
<path d="M1401.7 1904.3L1412.9 1904.3L1407.3 1894.1Z" fill="#E85A05"/>
<path d="M1424.2 1918L1435.4 1918L1429.8 1907.8Z" fill="#E85A05"/>
<path d="M1416.8 1927.6L1428 1927.6L1422.4 1917.4Z" fill="#E85A05"/>
<path d="M1401.2 1938.6L1412.4 1938.6L1406.8 1928.4Z" fill="#E85A05"/>
<line x1="1447.9" y1="1853.1" x2="1480.9" y2="1853.1" stroke="#000" stroke-width="3.2"/>
<path d="M1464.4 1825.1V1881.9M1456.4 1825.1H1472.4M1456.4 1881.9H1472.4" stroke="#0BB46F" stroke-width="3.2" fill="none"/>
<path d="M1474.5 1811.7L1485.7 1811.7L1480.1 1821.9Z" fill="#0BB46F"/>
<path d="M1442.9 1815.3L1454.1 1815.3L1448.5 1825.5Z" fill="#0BB46F"/>
<path d="M1451.1 1822.7L1462.3 1822.7L1456.7 1832.9Z" fill="#0BB46F"/>
<path d="M1467.1 1822.7L1478.3 1822.7L1472.7 1832.9Z" fill="#0BB46F"/>
<path d="M1458.8 1828.2L1470 1828.2L1464.4 1838.4Z" fill="#0BB46F"/>
<path d="M1458.8 1835.1L1470 1835.1L1464.4 1845.3Z" fill="#0BB46F"/>
<path d="M1449.8 1850.2L1461 1850.2L1455.4 1860.4Z" fill="#0BB46F"/>
<path d="M1467.6 1851.5L1478.8 1851.5L1473.2 1861.7Z" fill="#0BB46F"/>
<path d="M1458.8 1847.4L1470 1847.4L1464.4 1857.6Z" fill="#0BB46F"/>
<path d="M1451.1 1874.3L1462.3 1874.3L1456.7 1884.5Z" fill="#0BB46F"/>
<path d="M1467.1 1883.1L1478.3 1883.1L1472.7 1893.3Z" fill="#0BB46F"/>
<path d="M1458.8 1908.6L1470 1908.6L1464.4 1918.8Z" fill="#0BB46F"/>
<line x1="1531.4" y1="1981.5" x2="1564.4" y2="1981.5" stroke="#000" stroke-width="3.2"/>
<path d="M1547.9 1979.6V1983.5M1539.9 1979.6H1555.9M1539.9 1983.5H1555.9" stroke="#000000" stroke-width="3.2" fill="none"/>
<circle cx="1540.5" cy="1980.2" r="5.5" fill="#000000"/>
<circle cx="1555.5" cy="1978.8" r="5.5" fill="#000000"/>
<circle cx="1544.6" cy="1982.1" r="5.5" fill="#000000"/>
<circle cx="1551.4" cy="1982.1" r="5.5" fill="#000000"/>
<circle cx="1536.3" cy="1982.9" r="5.5" fill="#000000"/>
<circle cx="1559.7" cy="1982.9" r="5.5" fill="#000000"/>
<circle cx="1547.9" cy="1983.5" r="5.5" fill="#000000"/>
<line x1="1582.1" y1="1844.3" x2="1615.1" y2="1844.3" stroke="#000" stroke-width="3.2"/>
<path d="M1598.6 1801.2V1887.7M1590.6 1801.2H1606.6M1590.6 1887.7H1606.6" stroke="#4C46FF" stroke-width="3.2" fill="none"/>
<rect x="1593.1" y="1738.6" width="11" height="11" fill="#4C46FF"/>
<rect x="1593.1" y="1770.2" width="11" height="11" fill="#4C46FF"/>
<rect x="1600.8" y="1805.3" width="11" height="11" fill="#4C46FF"/>
<rect x="1585.2" y="1811.9" width="11" height="11" fill="#4C46FF"/>
<rect x="1585.7" y="1832.8" width="11" height="11" fill="#4C46FF"/>
<rect x="1601.7" y="1834.7" width="11" height="11" fill="#4C46FF"/>
<rect x="1593.1" y="1840.2" width="11" height="11" fill="#4C46FF"/>
<rect x="1584.4" y="1848.4" width="11" height="11" fill="#4C46FF"/>
<rect x="1602.2" y="1849.8" width="11" height="11" fill="#4C46FF"/>
<rect x="1593.1" y="1853.9" width="11" height="11" fill="#4C46FF"/>
<rect x="1585.2" y="1862.1" width="11" height="11" fill="#4C46FF"/>
<rect x="1600.8" y="1875.8" width="11" height="11" fill="#4C46FF"/>
<rect x="1600.8" y="1897.8" width="11" height="11" fill="#4C46FF"/>
<rect x="1585.2" y="1903.3" width="11" height="11" fill="#4C46FF"/>
<line x1="1632.4" y1="1883.3" x2="1665.4" y2="1883.3" stroke="#000" stroke-width="3.2"/>
<path d="M1648.9 1859.4V1904.7M1640.9 1859.4H1656.9M1640.9 1904.7H1656.9" stroke="#E85A05" stroke-width="3.2" fill="none"/>
<path d="M1643.3 1855.4L1654.5 1855.4L1648.9 1845.2Z" fill="#E85A05"/>
<path d="M1634.2 1864.5L1645.4 1864.5L1639.8 1854.3Z" fill="#E85A05"/>
<path d="M1652.1 1864.5L1663.3 1864.5L1657.7 1854.3Z" fill="#E85A05"/>
<path d="M1643.3 1872.7L1654.5 1872.7L1648.9 1862.5Z" fill="#E85A05"/>
<path d="M1635 1887.8L1646.2 1887.8L1640.6 1877.6Z" fill="#E85A05"/>
<path d="M1651.5 1886.4L1662.7 1886.4L1657.1 1876.2Z" fill="#E85A05"/>
<path d="M1643.3 1890.6L1654.5 1890.6L1648.9 1880.4Z" fill="#E85A05"/>
<path d="M1643.3 1897.4L1654.5 1897.4L1648.9 1887.2Z" fill="#E85A05"/>
<path d="M1634.2 1914.7L1645.4 1914.7L1639.8 1904.5Z" fill="#E85A05"/>
<path d="M1652.1 1916.6L1663.3 1916.6L1657.7 1906.4Z" fill="#E85A05"/>
<path d="M1643.3 1927.1L1654.5 1927.1L1648.9 1916.9Z" fill="#E85A05"/>
<line x1="1682.6" y1="1856.1" x2="1715.6" y2="1856.1" stroke="#000" stroke-width="3.2"/>
<path d="M1699.1 1826.5V1886.3M1691.1 1826.5H1707.1M1691.1 1886.3H1707.1" stroke="#0BB46F" stroke-width="3.2" fill="none"/>
<path d="M1700.9 1804.1L1712.1 1804.1L1706.5 1814.3Z" fill="#0BB46F"/>
<path d="M1685.3 1809.8L1696.5 1809.8L1690.9 1820Z" fill="#0BB46F"/>
<path d="M1685.8 1828.8L1697 1828.8L1691.4 1839Z" fill="#0BB46F"/>
<path d="M1709.1 1831L1720.3 1831L1714.7 1841.2Z" fill="#0BB46F"/>
<path d="M1700.9 1841.9L1712.1 1841.9L1706.5 1852.1Z" fill="#0BB46F"/>
<path d="M1680.3 1848.8L1691.5 1848.8L1685.9 1859Z" fill="#0BB46F"/>
<path d="M1693.5 1851.5L1704.7 1851.5L1699.1 1861.7Z" fill="#0BB46F"/>
<path d="M1685.8 1859L1697 1859L1691.4 1869.2Z" fill="#0BB46F"/>
<path d="M1701.5 1874.3L1712.7 1874.3L1707.1 1884.5Z" fill="#0BB46F"/>
<path d="M1700.9 1896.8L1712.1 1896.8L1706.5 1907Z" fill="#0BB46F"/>
<path d="M1685.3 1901L1696.5 1901L1690.9 1911.2Z" fill="#0BB46F"/>
</g>
<text x="1025.9" y="1722.2" font-size="23" text-anchor="end" textLength="29.2" lengthAdjust="spacingAndGlyphs">40</text>
<text x="1025.9" y="1859.2" font-size="23" text-anchor="end" textLength="29.2" lengthAdjust="spacingAndGlyphs">20</text>
<text x="1025.9" y="1997" font-size="23" text-anchor="end">0</text>
<text x="1155" y="2032.7" font-size="28" text-anchor="middle" textLength="90.9" lengthAdjust="spacingAndGlyphs">Mogat1</text>
<text x="1389.9" y="2032.7" font-size="28" text-anchor="middle" textLength="74.2" lengthAdjust="spacingAndGlyphs">SCD-1</text>
<text x="1624.4" y="2032.7" font-size="28" text-anchor="middle" textLength="78.9" lengthAdjust="spacingAndGlyphs">SCD-2</text>
<text transform="translate(938.4 1816.4) rotate(-90)" font-size="28" text-anchor="middle" textLength="256.6" lengthAdjust="spacingAndGlyphs">Relative fold change</text>
<text transform="translate(970.8 1816.4) rotate(-90)" font-size="28" text-anchor="middle" textLength="219.6" lengthAdjust="spacingAndGlyphs">mRNA expression</text>
<circle cx="1066.9" cy="1650.8" r="5.8" fill="#000000"/>
<text x="1088.4" y="1661.4" font-size="28" textLength="57.8" lengthAdjust="spacingAndGlyphs">NCD</text>
<rect x="1061.2" y="1678.8" width="11.4" height="11.4" fill="#4C46FF"/>
<text x="1088.4" y="1694.7" font-size="28" textLength="92.4" lengthAdjust="spacingAndGlyphs">HFHCD</text>
<path d="M1061.1 1724.3L1072.7 1724.3L1066.9 1713.7Z" fill="#E85A05"/>
<text x="1088.4" y="1727.6" font-size="28" textLength="108.4" lengthAdjust="spacingAndGlyphs">HFHCD-I</text>
<path d="M1061.1 1747L1072.7 1747L1066.9 1757.6Z" fill="#0BB46F"/>
<text x="1088.4" y="1760.5" font-size="28" textLength="121.3" lengthAdjust="spacingAndGlyphs">HFHCD-C</text>
<text x="1051.5" y="1907.4" font-size="23"><tspan x="1051.5" font-style="italic" textLength="13.7" lengthAdjust="spacingAndGlyphs">P</tspan> <tspan x="1070.7" textLength="11.2" lengthAdjust="spacingAndGlyphs">&lt;</tspan> <tspan x="1087.8" textLength="76.7" lengthAdjust="spacingAndGlyphs">0.0001</tspan></text>
<line x1="1081.4" y1="1915.1" x2="1123.2" y2="1915.1" stroke="#000" stroke-width="2.6"/>
<text x="1081.7" y="1864.9" font-size="23"><tspan x="1081.7" font-style="italic" textLength="13.7" lengthAdjust="spacingAndGlyphs">P</tspan> <tspan x="1100.9" textLength="11.2" lengthAdjust="spacingAndGlyphs">=</tspan> <tspan x="1118" textLength="79.5" lengthAdjust="spacingAndGlyphs">0.0005</tspan></text>
<line x1="1129.5" y1="1875.6" x2="1171.2" y2="1875.6" stroke="#000" stroke-width="2.6"/>
<text x="1119.3" y="1814.1" font-size="23"><tspan x="1119.3" font-style="italic" textLength="13.7" lengthAdjust="spacingAndGlyphs">P</tspan> <tspan x="1138.5" textLength="11.2" lengthAdjust="spacingAndGlyphs">=</tspan> <tspan x="1155.6" textLength="80.8" lengthAdjust="spacingAndGlyphs">0.0006</tspan></text>
<line x1="1137.4" y1="1823.2" x2="1229.7" y2="1823.2" stroke="#000" stroke-width="2.6"/>
<text x="1251.1" y="1736.4" font-size="23"><tspan x="1251.1" font-style="italic" textLength="13.7" lengthAdjust="spacingAndGlyphs">P</tspan> <tspan x="1270.3" textLength="11.2" lengthAdjust="spacingAndGlyphs">&lt;</tspan> <tspan x="1287.4" textLength="75.6" lengthAdjust="spacingAndGlyphs">0.0001</tspan></text>
<line x1="1314" y1="1744.4" x2="1356" y2="1744.4" stroke="#000" stroke-width="2.6"/>
<text x="1370.8" y="1736.4" font-size="23"><tspan x="1370.8" font-style="italic" textLength="13.7" lengthAdjust="spacingAndGlyphs">P</tspan> <tspan x="1390" textLength="11.2" lengthAdjust="spacingAndGlyphs">=</tspan> <tspan x="1407.1" textLength="75.3" lengthAdjust="spacingAndGlyphs">0.0027</tspan></text>
<line x1="1372.2" y1="1744.4" x2="1413.6" y2="1744.4" stroke="#000" stroke-width="2.6"/>
<text x="1399.1" y="1797.1" font-size="23"><tspan x="1399.1" font-style="italic" textLength="13.7" lengthAdjust="spacingAndGlyphs">P</tspan> <tspan x="1418.3" textLength="11.2" lengthAdjust="spacingAndGlyphs">=</tspan> <tspan x="1435.4" textLength="67.9" lengthAdjust="spacingAndGlyphs">0.0116</tspan></text>
<line x1="1415" y1="1805.3" x2="1456.7" y2="1805.3" stroke="#000" stroke-width="2.6"/>
<text x="1487" y="1690.6" font-size="23"><tspan x="1487" font-style="italic" textLength="13.7" lengthAdjust="spacingAndGlyphs">P</tspan> <tspan x="1506.2" textLength="11.2" lengthAdjust="spacingAndGlyphs">&lt;</tspan> <tspan x="1523.3" textLength="75.8" lengthAdjust="spacingAndGlyphs">0.0001</tspan></text>
<line x1="1552.8" y1="1701.6" x2="1594.5" y2="1701.6" stroke="#000" stroke-width="2.6"/>
<text x="1611.6" y="1690.6" font-size="23"><tspan x="1611.6" font-style="italic" textLength="13.7" lengthAdjust="spacingAndGlyphs">P</tspan> <tspan x="1630.8" textLength="11.2" lengthAdjust="spacingAndGlyphs">=</tspan> <tspan x="1647.9" textLength="58.3" lengthAdjust="spacingAndGlyphs">0.031</tspan></text>
<line x1="1604.4" y1="1701.6" x2="1646.4" y2="1701.6" stroke="#000" stroke-width="2.6"/>
<text x="1628" y="1783.4" font-size="23"><tspan x="1628" font-style="italic" textLength="13.7" lengthAdjust="spacingAndGlyphs">P</tspan> <tspan x="1647.2" textLength="11.2" lengthAdjust="spacingAndGlyphs">=</tspan> <tspan x="1664.3" textLength="75.3" lengthAdjust="spacingAndGlyphs">0.0428</tspan></text>
<line x1="1653.8" y1="1794.3" x2="1695.8" y2="1794.3" stroke="#000" stroke-width="2.6"/>
<path d="M132.9 2117.7V2462.8" stroke="#333" stroke-width="2.5" fill="none"/>
<path d="M122.7 2462.8H819.2" stroke="#333" stroke-width="2.5" fill="none"/>
<line x1="122.7" y1="2118.9" x2="132.9" y2="2118.9" stroke="#333" stroke-width="2.5"/>
<line x1="122.7" y1="2188" x2="132.9" y2="2188" stroke="#333" stroke-width="2.5"/>
<line x1="122.7" y1="2256.7" x2="132.9" y2="2256.7" stroke="#333" stroke-width="2.5"/>
<line x1="122.7" y1="2325.3" x2="132.9" y2="2325.3" stroke="#333" stroke-width="2.5"/>
<line x1="122.7" y1="2394.2" x2="132.9" y2="2394.2" stroke="#333" stroke-width="2.5"/>
<line x1="239.4" y1="2462.8" x2="239.4" y2="2472.4" stroke="#333" stroke-width="2.5"/>
<line x1="475.5" y1="2462.8" x2="475.5" y2="2472.4" stroke="#333" stroke-width="2.5"/>
<line x1="710.7" y1="2462.8" x2="710.7" y2="2472.4" stroke="#333" stroke-width="2.5"/>
<g>
<line x1="153.6" y1="2448.3" x2="196.6" y2="2448.3" stroke="#000" stroke-width="3.2"/>
<path d="M175.1 2441.4V2455.1M164.8 2441.4H185.4M164.8 2455.1H185.4" stroke="#000000" stroke-width="3.2" fill="none"/>
<circle cx="175.1" cy="2436.7" r="5.5" fill="#000000"/>
<circle cx="158.7" cy="2449.6" r="5.5" fill="#000000"/>
<circle cx="191.6" cy="2449.1" r="5.5" fill="#000000"/>
<circle cx="179.8" cy="2451" r="5.5" fill="#000000"/>
<circle cx="170.2" cy="2455.9" r="5.5" fill="#000000"/>
<line x1="218.1" y1="2335.2" x2="261.1" y2="2335.2" stroke="#000" stroke-width="3.2"/>
<path d="M239.6 2256.7V2415.3M229.3 2256.7H249.9M229.3 2415.3H249.9" stroke="#4C46FF" stroke-width="3.2" fill="none"/>
<rect x="234.7" y="2201.8" width="11" height="11" fill="#4C46FF"/>
<rect x="234.7" y="2230" width="11" height="11" fill="#4C46FF"/>
<rect x="226.4" y="2252" width="11" height="11" fill="#4C46FF"/>
<rect x="242.4" y="2251.4" width="11" height="11" fill="#4C46FF"/>
<rect x="234.7" y="2271.8" width="11" height="11" fill="#4C46FF"/>
<rect x="234.7" y="2289.9" width="11" height="11" fill="#4C46FF"/>
<rect x="227" y="2320.6" width="11" height="11" fill="#4C46FF"/>
<rect x="242.4" y="2333.8" width="11" height="11" fill="#4C46FF"/>
<rect x="242.4" y="2381.8" width="11" height="11" fill="#4C46FF"/>
<rect x="219" y="2396.1" width="11" height="11" fill="#4C46FF"/>
<rect x="226.4" y="2410.6" width="11" height="11" fill="#4C46FF"/>
<rect x="242.4" y="2412" width="11" height="11" fill="#4C46FF"/>
<rect x="242.4" y="2429.9" width="11" height="11" fill="#4C46FF"/>
<rect x="226.4" y="2440" width="11" height="11" fill="#4C46FF"/>
<line x1="282.4" y1="2402.1" x2="325.4" y2="2402.1" stroke="#000" stroke-width="3.2"/>
<path d="M303.9 2338.5V2462M293.6 2338.5H314.2M293.6 2462H314.2" stroke="#E85A05" stroke-width="3.2" fill="none"/>
<path d="M306.5 2272.2L317.7 2272.2L312.1 2262Z" fill="#E85A05"/>
<path d="M290.8 2285.9L302 2285.9L296.4 2275.7Z" fill="#E85A05"/>
<path d="M298.3 2377.9L309.5 2377.9L303.9 2367.7Z" fill="#E85A05"/>
<path d="M306.5 2414.1L317.7 2414.1L312.1 2403.9Z" fill="#E85A05"/>
<path d="M290.8 2420.4L302 2420.4L296.4 2410.2Z" fill="#E85A05"/>
<path d="M282.1 2435.5L293.3 2435.5L287.7 2425.3Z" fill="#E85A05"/>
<path d="M293 2438.3L304.2 2438.3L298.6 2428.1Z" fill="#E85A05"/>
<path d="M304 2441L315.2 2441L309.6 2430.8Z" fill="#E85A05"/>
<path d="M314.7 2437.7L325.9 2437.7L320.3 2427.5Z" fill="#E85A05"/>
<path d="M284.5 2451.2L295.7 2451.2L290.1 2441Z" fill="#E85A05"/>
<path d="M312 2456.1L323.2 2456.1L317.6 2445.9Z" fill="#E85A05"/>
<path d="M298.3 2460.8L309.5 2460.8L303.9 2450.6Z" fill="#E85A05"/>
<line x1="389.4" y1="2449.1" x2="432.4" y2="2449.1" stroke="#000" stroke-width="3.2"/>
<path d="M410.9 2447.2V2451M400.6 2447.2H421.2M400.6 2451H421.2" stroke="#000000" stroke-width="3.2" fill="none"/>
<circle cx="395.3" cy="2447.4" r="5.5" fill="#000000"/>
<circle cx="402.1" cy="2449.1" r="5.5" fill="#000000"/>
<circle cx="410.9" cy="2450.5" r="5.5" fill="#000000"/>
<circle cx="418.6" cy="2449.1" r="5.5" fill="#000000"/>
<circle cx="425.5" cy="2448.3" r="5.5" fill="#000000"/>
<circle cx="410.9" cy="2452.4" r="5.5" fill="#000000"/>
<line x1="454" y1="2455.1" x2="497" y2="2455.1" stroke="#000" stroke-width="3.2"/>
<path d="M475.5 2451.6V2458.7M465.2 2451.6H485.8M465.2 2458.7H485.8" stroke="#4C46FF" stroke-width="3.2" fill="none"/>
<rect x="477.7" y="2441.4" width="11" height="11" fill="#4C46FF"/>
<rect x="456.3" y="2446.9" width="11" height="11" fill="#4C46FF"/>
<rect x="463.1" y="2445.5" width="11" height="11" fill="#4C46FF"/>
<rect x="470" y="2448.2" width="11" height="11" fill="#4C46FF"/>
<rect x="476.8" y="2448.2" width="11" height="11" fill="#4C46FF"/>
<rect x="483.7" y="2446.9" width="11" height="11" fill="#4C46FF"/>
<rect x="460.4" y="2451" width="11" height="11" fill="#4C46FF"/>
<rect x="470" y="2452.4" width="11" height="11" fill="#4C46FF"/>
<rect x="479.6" y="2451" width="11" height="11" fill="#4C46FF"/>
<rect x="470" y="2455.1" width="11" height="11" fill="#4C46FF"/>
<line x1="518.5" y1="2456.5" x2="561.5" y2="2456.5" stroke="#000" stroke-width="3.2"/>
<path d="M540 2453.2V2459.8M529.7 2453.2H550.3M529.7 2459.8H550.3" stroke="#E85A05" stroke-width="3.2" fill="none"/>
<path d="M542.1 2454.2L553.3 2454.2L547.7 2444Z" fill="#E85A05"/>
<path d="M526.2 2457.5L537.4 2457.5L531.8 2447.3Z" fill="#E85A05"/>
<path d="M549.5 2457.5L560.7 2457.5L555.1 2447.3Z" fill="#E85A05"/>
<path d="M519.3 2461L530.5 2461L524.9 2450.8Z" fill="#E85A05"/>
<path d="M534.4 2460.2L545.6 2460.2L540 2450Z" fill="#E85A05"/>
<path d="M542.6 2461.6L553.8 2461.6L548.2 2451.4Z" fill="#E85A05"/>
<path d="M528.9 2464.3L540.1 2464.3L534.5 2454.1Z" fill="#E85A05"/>
<path d="M538.5 2464.9L549.7 2464.9L544.1 2454.7Z" fill="#E85A05"/>
<path d="M534.4 2467.1L545.6 2467.1L540 2456.9Z" fill="#E85A05"/>
<line x1="624.7" y1="2449.1" x2="667.7" y2="2449.1" stroke="#000" stroke-width="3.2"/>
<path d="M646.2 2447.2V2451M635.9 2447.2H656.5M635.9 2451H656.5" stroke="#000000" stroke-width="3.2" fill="none"/>
<circle cx="630.6" cy="2446.9" r="5.5" fill="#000000"/>
<circle cx="660.8" cy="2446.9" r="5.5" fill="#000000"/>
<circle cx="637.4" cy="2448.8" r="5.5" fill="#000000"/>
<circle cx="653.9" cy="2448.8" r="5.5" fill="#000000"/>
<circle cx="646.2" cy="2451" r="5.5" fill="#000000"/>
<circle cx="646.2" cy="2453.7" r="5.5" fill="#000000"/>
<line x1="689.2" y1="2455.1" x2="732.2" y2="2455.1" stroke="#000" stroke-width="3.2"/>
<path d="M710.7 2451.6V2458.7M700.4 2451.6H721M700.4 2458.7H721" stroke="#4C46FF" stroke-width="3.2" fill="none"/>
<rect x="690.9" y="2445.5" width="11" height="11" fill="#4C46FF"/>
<rect x="697.8" y="2445.5" width="11" height="11" fill="#4C46FF"/>
<rect x="712.9" y="2445" width="11" height="11" fill="#4C46FF"/>
<rect x="719.8" y="2446.1" width="11" height="11" fill="#4C46FF"/>
<rect x="695.1" y="2449.6" width="11" height="11" fill="#4C46FF"/>
<rect x="705.2" y="2450.4" width="11" height="11" fill="#4C46FF"/>
<rect x="715.6" y="2449.6" width="11" height="11" fill="#4C46FF"/>
<rect x="700.6" y="2453.2" width="11" height="11" fill="#4C46FF"/>
<rect x="710.2" y="2453.2" width="11" height="11" fill="#4C46FF"/>
<rect x="705.2" y="2455.7" width="11" height="11" fill="#4C46FF"/>
<line x1="753.7" y1="2455.9" x2="796.7" y2="2455.9" stroke="#000" stroke-width="3.2"/>
<path d="M775.2 2452.7V2459.2M764.9 2452.7H785.5M764.9 2459.2H785.5" stroke="#E85A05" stroke-width="3.2" fill="none"/>
<path d="M777.3 2452.8L788.5 2452.8L782.9 2442.6Z" fill="#E85A05"/>
<path d="M762.2 2456.1L773.4 2456.1L767.8 2445.9Z" fill="#E85A05"/>
<path d="M784.2 2457.5L795.4 2457.5L789.8 2447.3Z" fill="#E85A05"/>
<path d="M754 2461L765.2 2461L759.6 2450.8Z" fill="#E85A05"/>
<path d="M769.6 2459.4L780.8 2459.4L775.2 2449.2Z" fill="#E85A05"/>
<path d="M777.3 2461.6L788.5 2461.6L782.9 2451.4Z" fill="#E85A05"/>
<path d="M763.6 2463.8L774.8 2463.8L769.2 2453.6Z" fill="#E85A05"/>
<path d="M774.6 2464.9L785.8 2464.9L780.2 2454.7Z" fill="#E85A05"/>
<path d="M769.6 2467.1L780.8 2467.1L775.2 2456.9Z" fill="#E85A05"/>
</g>
<text x="110" y="2126.9" font-size="23" text-anchor="end" textLength="29.2" lengthAdjust="spacingAndGlyphs">25</text>
<text x="110" y="2196" font-size="23" text-anchor="end" textLength="29.2" lengthAdjust="spacingAndGlyphs">20</text>
<text x="110" y="2264.7" font-size="23" text-anchor="end" textLength="25.3" lengthAdjust="spacingAndGlyphs">15</text>
<text x="110" y="2333.3" font-size="23" text-anchor="end" textLength="25.3" lengthAdjust="spacingAndGlyphs">10</text>
<text x="110" y="2402.2" font-size="23" text-anchor="end">5</text>
<text x="110" y="2470.8" font-size="23" text-anchor="end">0</text>
<text x="238.8" y="2505.8" font-size="28" text-anchor="middle" textLength="90.9" lengthAdjust="spacingAndGlyphs">Mogat1</text>
<text x="473.7" y="2505.8" font-size="28" text-anchor="middle" textLength="74.2" lengthAdjust="spacingAndGlyphs">SCD-1</text>
<text x="708.8" y="2505.8" font-size="28" text-anchor="middle" textLength="78.9" lengthAdjust="spacingAndGlyphs">SCD-2</text>
<text transform="translate(24.2 2292.9) rotate(-90)" font-size="28" text-anchor="middle" textLength="256.6" lengthAdjust="spacingAndGlyphs">Relative fold change</text>
<text transform="translate(56.4 2292.9) rotate(-90)" font-size="28" text-anchor="middle" textLength="219.6" lengthAdjust="spacingAndGlyphs">mRNA expression</text>
<circle cx="593.5" cy="2142.2" r="5.8" fill="#000000"/>
<text x="613.1" y="2153.7" font-size="28" textLength="57.8" lengthAdjust="spacingAndGlyphs">NCD</text>
<rect x="587.8" y="2171.6" width="11.4" height="11.4" fill="#4C46FF"/>
<text x="613.1" y="2188.5" font-size="28" textLength="171.2" lengthAdjust="spacingAndGlyphs">CDHFD + PBS</text>
<path d="M587.7 2218.9L599.3 2218.9L593.5 2208.3Z" fill="#E85A05"/>
<text x="613.1" y="2223.1" font-size="28" textLength="166.3" lengthAdjust="spacingAndGlyphs">CDHFD + <tspan font-style="italic">P. d</tspan></text>
<text x="157.9" y="2182" font-size="23"><tspan x="157.9" font-style="italic" textLength="13.7" lengthAdjust="spacingAndGlyphs">P</tspan> <tspan x="177.1" textLength="11.2" lengthAdjust="spacingAndGlyphs">=</tspan> <tspan x="194.2" textLength="76.6" lengthAdjust="spacingAndGlyphs">0.0037</tspan></text>
<line x1="194.3" y1="2191.1" x2="236.6" y2="2191.1" stroke="#000" stroke-width="2.6"/>
<text x="216.1" y="2140.8" font-size="23"><tspan x="216.1" font-style="italic" textLength="13.7" lengthAdjust="spacingAndGlyphs">P</tspan> <tspan x="235.3" textLength="11.2" lengthAdjust="spacingAndGlyphs">=</tspan> <tspan x="252.4" textLength="69.2" lengthAdjust="spacingAndGlyphs">0.0197</tspan></text>
<line x1="256.4" y1="2149.1" x2="298.7" y2="2149.1" stroke="#000" stroke-width="2.6"/>
<text x="363.7" y="2418.9" font-size="23"><tspan x="363.7" font-style="italic" textLength="13.7" lengthAdjust="spacingAndGlyphs">P</tspan>  <tspan x="389.5" textLength="11.2" lengthAdjust="spacingAndGlyphs">=</tspan> <tspan x="406.6" textLength="77.3" lengthAdjust="spacingAndGlyphs">0.0023</tspan></text>
<line x1="421.4" y1="2427.4" x2="463.7" y2="2427.4" stroke="#000" stroke-width="2.6"/>
<text x="601.8" y="2420.8" font-size="23"><tspan x="601.8" font-style="italic" textLength="13.7" lengthAdjust="spacingAndGlyphs">P</tspan> <tspan x="621" textLength="11.2" lengthAdjust="spacingAndGlyphs">=</tspan> <tspan x="638.1" textLength="78.6" lengthAdjust="spacingAndGlyphs">0.0033</tspan></text>
<line x1="657.5" y1="2430.4" x2="699.5" y2="2430.4" stroke="#000" stroke-width="2.6"/>
<path d="M1049 2117.8V2462.6" stroke="#000" stroke-width="2.2" fill="none"/>
<path d="M1038.8 2462.6H1735.9" stroke="#000" stroke-width="2.1" fill="none"/>
<line x1="1038.8" y1="2118.9" x2="1049" y2="2118.9" stroke="#000" stroke-width="2.2"/>
<line x1="1038.8" y1="2233.1" x2="1049" y2="2233.1" stroke="#000" stroke-width="2.2"/>
<line x1="1038.8" y1="2347.5" x2="1049" y2="2347.5" stroke="#000" stroke-width="2.2"/>
<line x1="1156.1" y1="2462.6" x2="1156.1" y2="2472.2" stroke="#000" stroke-width="2.1"/>
<line x1="1391.7" y1="2462.6" x2="1391.7" y2="2472.2" stroke="#000" stroke-width="2.1"/>
<line x1="1627.2" y1="2462.6" x2="1627.2" y2="2472.2" stroke="#000" stroke-width="2.1"/>
<g>
<line x1="1070.4" y1="2432.6" x2="1113.4" y2="2432.6" stroke="#000" stroke-width="3.2"/>
<path d="M1091.9 2407.1V2458.4M1081.6 2407.1H1102.2M1081.6 2458.4H1102.2" stroke="#000000" stroke-width="3.2" fill="none"/>
<circle cx="1091.9" cy="2381" r="5.5" fill="#000000"/>
<circle cx="1083.9" cy="2425.8" r="5.5" fill="#000000"/>
<circle cx="1099.6" cy="2425.8" r="5.5" fill="#000000"/>
<circle cx="1075.7" cy="2446.3" r="5.5" fill="#000000"/>
<circle cx="1108.1" cy="2445" r="5.5" fill="#000000"/>
<circle cx="1095.4" cy="2447.7" r="5.5" fill="#000000"/>
<circle cx="1086.7" cy="2457.3" r="5.5" fill="#000000"/>
<line x1="1134.6" y1="2285.5" x2="1177.6" y2="2285.5" stroke="#000" stroke-width="3.2"/>
<path d="M1156.1 2239.7V2331.6M1145.8 2239.7H1166.4M1145.8 2331.6H1166.4" stroke="#4C46FF" stroke-width="3.2" fill="none"/>
<rect x="1151.1" y="2192.4" width="11" height="11" fill="#4C46FF"/>
<rect x="1158.8" y="2236.3" width="11" height="11" fill="#4C46FF"/>
<rect x="1142.9" y="2246" width="11" height="11" fill="#4C46FF"/>
<rect x="1143.5" y="2275.9" width="11" height="11" fill="#4C46FF"/>
<rect x="1158.8" y="2283" width="11" height="11" fill="#4C46FF"/>
<rect x="1136.9" y="2290.4" width="11" height="11" fill="#4C46FF"/>
<rect x="1164.3" y="2291.2" width="11" height="11" fill="#4C46FF"/>
<rect x="1151.1" y="2306.3" width="11" height="11" fill="#4C46FF"/>
<rect x="1151.1" y="2328" width="11" height="11" fill="#4C46FF"/>
<rect x="1151.1" y="2350.8" width="11" height="11" fill="#4C46FF"/>
<line x1="1198.8" y1="2330.2" x2="1241.8" y2="2330.2" stroke="#000" stroke-width="3.2"/>
<path d="M1220.3 2302.8V2355.8M1210 2302.8H1230.6M1210 2355.8H1230.6" stroke="#E85A05" stroke-width="3.2" fill="none"/>
<path d="M1228.4 2301L1239.6 2301L1234 2290.8Z" fill="#E85A05"/>
<path d="M1201 2302.9L1212.2 2302.9L1206.6 2292.7Z" fill="#E85A05"/>
<path d="M1214.7 2304.6L1225.9 2304.6L1220.3 2294.4Z" fill="#E85A05"/>
<path d="M1201 2330.4L1212.2 2330.4L1206.6 2320.2Z" fill="#E85A05"/>
<path d="M1228.4 2333.4L1239.6 2333.4L1234 2323.2Z" fill="#E85A05"/>
<path d="M1214.7 2336.2L1225.9 2336.2L1220.3 2326Z" fill="#E85A05"/>
<path d="M1206.5 2351.3L1217.7 2351.3L1212.1 2341.1Z" fill="#E85A05"/>
<path d="M1229.8 2357.3L1241 2357.3L1235.4 2347.1Z" fill="#E85A05"/>
<path d="M1222.4 2363.6L1233.6 2363.6L1228 2353.4Z" fill="#E85A05"/>
<path d="M1207.3 2377.9L1218.5 2377.9L1212.9 2367.7Z" fill="#E85A05"/>
<line x1="1305.7" y1="2436.7" x2="1348.7" y2="2436.7" stroke="#000" stroke-width="3.2"/>
<path d="M1327.2 2424.1V2449.1M1316.9 2424.1H1337.5M1316.9 2449.1H1337.5" stroke="#000000" stroke-width="3.2" fill="none"/>
<circle cx="1327.2" cy="2413.1" r="5.5" fill="#000000"/>
<circle cx="1319.5" cy="2426.3" r="5.5" fill="#000000"/>
<circle cx="1334.6" cy="2433.2" r="5.5" fill="#000000"/>
<circle cx="1344.2" cy="2441.4" r="5.5" fill="#000000"/>
<circle cx="1309.9" cy="2448.3" r="5.5" fill="#000000"/>
<circle cx="1322.2" cy="2450.2" r="5.5" fill="#000000"/>
<circle cx="1332.7" cy="2448.3" r="5.5" fill="#000000"/>
<line x1="1370.2" y1="2421.6" x2="1413.2" y2="2421.6" stroke="#000" stroke-width="3.2"/>
<path d="M1391.7 2409.8V2434M1381.4 2409.8H1402M1381.4 2434H1402" stroke="#4C46FF" stroke-width="3.2" fill="none"/>
<rect x="1394.1" y="2395.5" width="11" height="11" fill="#4C46FF"/>
<rect x="1377.9" y="2400.8" width="11" height="11" fill="#4C46FF"/>
<rect x="1371.6" y="2415.3" width="11" height="11" fill="#4C46FF"/>
<rect x="1386.2" y="2413.9" width="11" height="11" fill="#4C46FF"/>
<rect x="1401.8" y="2413.9" width="11" height="11" fill="#4C46FF"/>
<rect x="1378.5" y="2419.4" width="11" height="11" fill="#4C46FF"/>
<rect x="1393.6" y="2419.4" width="11" height="11" fill="#4C46FF"/>
<rect x="1386.2" y="2423.5" width="11" height="11" fill="#4C46FF"/>
<rect x="1386.2" y="2427.7" width="11" height="11" fill="#4C46FF"/>
<rect x="1386.2" y="2443.3" width="11" height="11" fill="#4C46FF"/>
<line x1="1434.4" y1="2437.3" x2="1477.4" y2="2437.3" stroke="#000" stroke-width="3.2"/>
<path d="M1455.9 2427.7V2446.9M1445.6 2427.7H1466.2M1445.6 2446.9H1466.2" stroke="#E85A05" stroke-width="3.2" fill="none"/>
<path d="M1450.3 2423.2L1461.5 2423.2L1455.9 2413Z" fill="#E85A05"/>
<path d="M1442.9 2436.3L1454.1 2436.3L1448.5 2426.1Z" fill="#E85A05"/>
<path d="M1458 2436.3L1469.2 2436.3L1463.6 2426.1Z" fill="#E85A05"/>
<path d="M1434.7 2442.4L1445.9 2442.4L1440.3 2432.2Z" fill="#E85A05"/>
<path d="M1450.3 2441L1461.5 2441L1455.9 2430.8Z" fill="#E85A05"/>
<path d="M1465.7 2442.4L1476.9 2442.4L1471.3 2432.2Z" fill="#E85A05"/>
<path d="M1445.6 2447.3L1456.8 2447.3L1451.2 2437.1Z" fill="#E85A05"/>
<path d="M1455.2 2447.3L1466.4 2447.3L1460.8 2437.1Z" fill="#E85A05"/>
<path d="M1450.3 2452L1461.5 2452L1455.9 2441.8Z" fill="#E85A05"/>
<path d="M1450.3 2456.1L1461.5 2456.1L1455.9 2445.9Z" fill="#E85A05"/>
<line x1="1541.5" y1="2437.3" x2="1584.5" y2="2437.3" stroke="#000" stroke-width="3.2"/>
<path d="M1563 2426.3V2448.3M1552.7 2426.3H1573.3M1552.7 2448.3H1573.3" stroke="#000000" stroke-width="3.2" fill="none"/>
<circle cx="1546.8" cy="2421.6" r="5.5" fill="#000000"/>
<circle cx="1579.4" cy="2429.6" r="5.5" fill="#000000"/>
<circle cx="1557.5" cy="2431.8" r="5.5" fill="#000000"/>
<circle cx="1567.9" cy="2431.8" r="5.5" fill="#000000"/>
<circle cx="1548.1" cy="2444.1" r="5.5" fill="#000000"/>
<circle cx="1577.5" cy="2448.3" r="5.5" fill="#000000"/>
<circle cx="1563" cy="2454.3" r="5.5" fill="#000000"/>
<line x1="1605.7" y1="2426.8" x2="1648.7" y2="2426.8" stroke="#000" stroke-width="3.2"/>
<path d="M1627.2 2419.4V2434.5M1616.9 2419.4H1637.5M1616.9 2434.5H1637.5" stroke="#4C46FF" stroke-width="3.2" fill="none"/>
<rect x="1635.7" y="2408.4" width="11" height="11" fill="#4C46FF"/>
<rect x="1607.7" y="2412" width="11" height="11" fill="#4C46FF"/>
<rect x="1611.8" y="2416.7" width="11" height="11" fill="#4C46FF"/>
<rect x="1631" y="2415.3" width="11" height="11" fill="#4C46FF"/>
<rect x="1621.7" y="2418.1" width="11" height="11" fill="#4C46FF"/>
<rect x="1615.9" y="2422.2" width="11" height="11" fill="#4C46FF"/>
<rect x="1626.9" y="2422.2" width="11" height="11" fill="#4C46FF"/>
<rect x="1621.7" y="2426.3" width="11" height="11" fill="#4C46FF"/>
<rect x="1621.7" y="2430.4" width="11" height="11" fill="#4C46FF"/>
<rect x="1621.7" y="2444.1" width="11" height="11" fill="#4C46FF"/>
<line x1="1669.9" y1="2437.8" x2="1712.9" y2="2437.8" stroke="#000" stroke-width="3.2"/>
<path d="M1691.4 2431.8V2444.1M1681.1 2431.8H1701.7M1681.1 2444.1H1701.7" stroke="#E85A05" stroke-width="3.2" fill="none"/>
<path d="M1670.2 2435.5L1681.4 2435.5L1675.8 2425.3Z" fill="#E85A05"/>
<path d="M1702.8 2439.1L1714 2439.1L1708.4 2428.9Z" fill="#E85A05"/>
<path d="M1679 2440.2L1690.2 2440.2L1684.6 2430Z" fill="#E85A05"/>
<path d="M1692.7 2440.2L1703.9 2440.2L1698.3 2430Z" fill="#E85A05"/>
<path d="M1685.8 2442.4L1697 2442.4L1691.4 2432.2Z" fill="#E85A05"/>
<path d="M1674.8 2445.7L1686 2445.7L1680.4 2435.5Z" fill="#E85A05"/>
<path d="M1696.8 2445.7L1708 2445.7L1702.4 2435.5Z" fill="#E85A05"/>
<path d="M1685.8 2447.9L1697 2447.9L1691.4 2437.7Z" fill="#E85A05"/>
<path d="M1680.3 2451.2L1691.5 2451.2L1685.9 2441Z" fill="#E85A05"/>
<path d="M1691.3 2451.2L1702.5 2451.2L1696.9 2441Z" fill="#E85A05"/>
<path d="M1681.7 2456.1L1692.9 2456.1L1687.3 2445.9Z" fill="#E85A05"/>
</g>
<text x="1025.9" y="2126.9" font-size="23" text-anchor="end" textLength="25.3" lengthAdjust="spacingAndGlyphs">15</text>
<text x="1025.9" y="2241.1" font-size="23" text-anchor="end" textLength="25.3" lengthAdjust="spacingAndGlyphs">10</text>
<text x="1025.9" y="2355.5" font-size="23" text-anchor="end">5</text>
<text x="1025.9" y="2470.6" font-size="23" text-anchor="end">0</text>
<text x="1155" y="2505.8" font-size="28" text-anchor="middle" textLength="90.9" lengthAdjust="spacingAndGlyphs">Mogat1</text>
<text x="1391.5" y="2505.8" font-size="28" text-anchor="middle" textLength="74.2" lengthAdjust="spacingAndGlyphs">SCD-1</text>
<text x="1626.2" y="2505.8" font-size="28" text-anchor="middle" textLength="78.9" lengthAdjust="spacingAndGlyphs">SCD-2</text>
<text transform="translate(938.4 2292.9) rotate(-90)" font-size="28" text-anchor="middle" textLength="256.6" lengthAdjust="spacingAndGlyphs">Relative fold change</text>
<text transform="translate(970.8 2292.9) rotate(-90)" font-size="28" text-anchor="middle" textLength="219.6" lengthAdjust="spacingAndGlyphs">mRNA expression</text>
<circle cx="1508.6" cy="2140" r="5.8" fill="#000000"/>
<text x="1529.3" y="2149" font-size="28" textLength="57.8" lengthAdjust="spacingAndGlyphs">NCD</text>
<rect x="1502.9" y="2170" width="11.4" height="11.4" fill="#4C46FF"/>
<text x="1529.3" y="2185.3" font-size="28" textLength="91.6" lengthAdjust="spacingAndGlyphs">CDHFD</text>
<path d="M1502.8 2217.5L1514.4 2217.5L1508.6 2206.9Z" fill="#E85A05"/>
<text x="1529.3" y="2221.8" font-size="28" textLength="169.6" lengthAdjust="spacingAndGlyphs">CDHFD + PEA</text>
<text x="1069.4" y="2175.7" font-size="23"><tspan x="1069.4" font-style="italic" textLength="13.7" lengthAdjust="spacingAndGlyphs">P</tspan> <tspan x="1088.6" textLength="11.2" lengthAdjust="spacingAndGlyphs">&lt;</tspan> <tspan x="1105.7" textLength="76.7" lengthAdjust="spacingAndGlyphs">0.0001</tspan></text>
<line x1="1114.1" y1="2184.2" x2="1155.8" y2="2184.2" stroke="#000" stroke-width="2.6"/>
<text x="1121" y="2135.3" font-size="23"><tspan x="1121" font-style="italic" textLength="13.7" lengthAdjust="spacingAndGlyphs">P</tspan> <tspan x="1140.2" textLength="11.2" lengthAdjust="spacingAndGlyphs">=</tspan> <tspan x="1157.3" textLength="80.8" lengthAdjust="spacingAndGlyphs">0.0090</tspan></text>
<line x1="1160.8" y1="2144.4" x2="1202.8" y2="2144.4" stroke="#000" stroke-width="2.6"/>
<text x="1281.3" y="2345.3" font-size="23"><tspan x="1281.3" font-style="italic" textLength="13.7" lengthAdjust="spacingAndGlyphs">P</tspan> <tspan x="1300.5" textLength="11.2" lengthAdjust="spacingAndGlyphs">=</tspan> <tspan x="1317.6" textLength="72.1" lengthAdjust="spacingAndGlyphs">0.0139</tspan></text>
<line x1="1342.8" y1="2357.7" x2="1384.8" y2="2357.7" stroke="#000" stroke-width="2.6"/>
<text x="1397.7" y="2345.3" font-size="23"><tspan x="1397.7" font-style="italic" textLength="13.7" lengthAdjust="spacingAndGlyphs">P</tspan> <tspan x="1416.9" textLength="11.2" lengthAdjust="spacingAndGlyphs">=</tspan> <tspan x="1434" textLength="74.8" lengthAdjust="spacingAndGlyphs">0.0081</tspan></text>
<line x1="1392.5" y1="2357.7" x2="1434.2" y2="2357.7" stroke="#000" stroke-width="2.6"/>
<text x="1510.8" y="2383.8" font-size="23"><tspan x="1510.8" font-style="italic" textLength="13.7" lengthAdjust="spacingAndGlyphs">P</tspan> <tspan x="1530" textLength="11.2" lengthAdjust="spacingAndGlyphs">=</tspan> <tspan x="1547.1" textLength="71.2" lengthAdjust="spacingAndGlyphs">0.0251</tspan></text>
<line x1="1565.2" y1="2396.1" x2="1606.9" y2="2396.1" stroke="#000" stroke-width="2.6"/>
<text x="1633" y="2383.8" font-size="23"><tspan x="1633" font-style="italic" textLength="13.7" lengthAdjust="spacingAndGlyphs">P</tspan> <tspan x="1652.2" textLength="11.2" lengthAdjust="spacingAndGlyphs">=</tspan> <tspan x="1669.3" textLength="71.2" lengthAdjust="spacingAndGlyphs">0.0123</tspan></text>
<line x1="1634.3" y1="2395.3" x2="1675.8" y2="2395.3" stroke="#000" stroke-width="2.6"/>
</svg>
</body></html>
